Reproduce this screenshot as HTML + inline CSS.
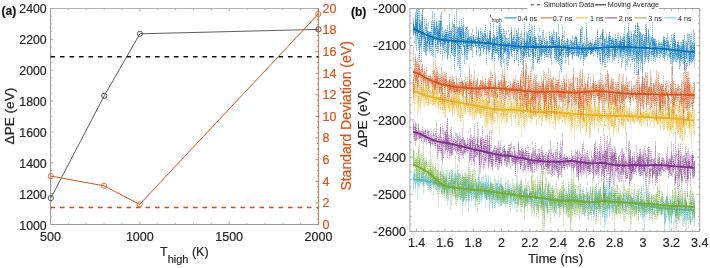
<!DOCTYPE html>
<html><head><meta charset="utf-8"><style>
html,body{margin:0;padding:0;background:#fff;}
body{width:710px;height:268px;overflow:hidden;}
svg{display:block;font-family:"Liberation Sans", sans-serif;will-change:transform;}
</style></head><body>
<svg width="710" height="268" viewBox="0 0 710 268">
<rect width="710" height="268" fill="#fff"/>
<path d="M50.5,224.5h3M50.5,216.79h1.6M50.5,209.07h1.6M50.5,201.36h1.6M50.5,193.64h3M50.5,185.93h1.6M50.5,178.21h1.6M50.5,170.5h1.6M50.5,162.79h3M50.5,155.07h1.6M50.5,147.36h1.6M50.5,139.64h1.6M50.5,131.93h3M50.5,124.21h1.6M50.5,116.5h1.6M50.5,108.79h1.6M50.5,101.07h3M50.5,93.36h1.6M50.5,85.64h1.6M50.5,77.93h1.6M50.5,70.21h3M50.5,62.5h1.6M50.5,54.79h1.6M50.5,47.07h1.6M50.5,39.36h3M50.5,31.64h1.6M50.5,23.93h1.6M50.5,16.21h1.6M50.5,8.5h3M50.5,224.5v-3M50.5,8.5v3M68.37,224.5v-1.6M68.37,8.5v1.6M86.23,224.5v-1.6M86.23,8.5v1.6M104.1,224.5v-1.6M104.1,8.5v1.6M121.97,224.5v-1.6M121.97,8.5v1.6M139.83,224.5v-3M139.83,8.5v3M157.7,224.5v-1.6M157.7,8.5v1.6M175.57,224.5v-1.6M175.57,8.5v1.6M193.43,224.5v-1.6M193.43,8.5v1.6M211.3,224.5v-1.6M211.3,8.5v1.6M229.17,224.5v-3M229.17,8.5v3M247.03,224.5v-1.6M247.03,8.5v1.6M264.9,224.5v-1.6M264.9,8.5v1.6M282.77,224.5v-1.6M282.77,8.5v1.6M300.63,224.5v-1.6M300.63,8.5v1.6M318.5,224.5v-3M318.5,8.5v3" stroke="#9c9c9c" stroke-width="0.8" fill="none"/>
<path d="M318.5,224.5h-3M318.5,219.1h-1.6M318.5,213.7h-1.6M318.5,208.3h-1.6M318.5,202.9h-3M318.5,197.5h-1.6M318.5,192.1h-1.6M318.5,186.7h-1.6M318.5,181.3h-3M318.5,175.9h-1.6M318.5,170.5h-1.6M318.5,165.1h-1.6M318.5,159.7h-3M318.5,154.3h-1.6M318.5,148.9h-1.6M318.5,143.5h-1.6M318.5,138.1h-3M318.5,132.7h-1.6M318.5,127.3h-1.6M318.5,121.9h-1.6M318.5,116.5h-3M318.5,111.1h-1.6M318.5,105.7h-1.6M318.5,100.3h-1.6M318.5,94.9h-3M318.5,89.5h-1.6M318.5,84.1h-1.6M318.5,78.7h-1.6M318.5,73.3h-3M318.5,67.9h-1.6M318.5,62.5h-1.6M318.5,57.1h-1.6M318.5,51.7h-3M318.5,46.3h-1.6M318.5,40.9h-1.6M318.5,35.5h-1.6M318.5,30.1h-3M318.5,24.7h-1.6M318.5,19.3h-1.6M318.5,13.9h-1.6M318.5,8.5h-3" stroke="#D95319" stroke-width="0.8" fill="none"/>
<path d="M50.5,8.5V224.5H318.5" stroke="#9c9c9c" stroke-width="1" fill="none"/>
<path d="M50.5,8.5H318.5" stroke="#a0a0a0" stroke-width="0.8" fill="none"/>
<path d="M318.5,8.5V224.5" stroke="#D95319" stroke-width="0.75" fill="none"/>
<text x="46.7" y="229.85" text-anchor="end" font-size="12.3" fill="#262626" stroke="#262626" stroke-width="0.2">1000</text>
<text x="46.7" y="198.85" text-anchor="end" font-size="12.3" fill="#262626" stroke="#262626" stroke-width="0.2">1200</text>
<text x="46.7" y="167.85" text-anchor="end" font-size="12.3" fill="#262626" stroke="#262626" stroke-width="0.2">1400</text>
<text x="46.7" y="136.85" text-anchor="end" font-size="12.3" fill="#262626" stroke="#262626" stroke-width="0.2">1600</text>
<text x="46.7" y="105.85" text-anchor="end" font-size="12.3" fill="#262626" stroke="#262626" stroke-width="0.2">1800</text>
<text x="46.7" y="74.85" text-anchor="end" font-size="12.3" fill="#262626" stroke="#262626" stroke-width="0.2">2000</text>
<text x="46.7" y="43.85" text-anchor="end" font-size="12.3" fill="#262626" stroke="#262626" stroke-width="0.2">2200</text>
<text x="46.7" y="12.85" text-anchor="end" font-size="12.3" fill="#262626" stroke="#262626" stroke-width="0.2">2400</text>
<text x="322.5" y="228.80" font-size="12.5" fill="#D95319" stroke="#D95319" stroke-width="0.2">0</text>
<text x="322.5" y="207.20" font-size="12.5" fill="#D95319" stroke="#D95319" stroke-width="0.2">2</text>
<text x="322.5" y="185.60" font-size="12.5" fill="#D95319" stroke="#D95319" stroke-width="0.2">4</text>
<text x="322.5" y="164.00" font-size="12.5" fill="#D95319" stroke="#D95319" stroke-width="0.2">6</text>
<text x="322.5" y="142.40" font-size="12.5" fill="#D95319" stroke="#D95319" stroke-width="0.2">8</text>
<text x="322.5" y="120.80" font-size="12.5" fill="#D95319" stroke="#D95319" stroke-width="0.2">10</text>
<text x="322.5" y="99.20" font-size="12.5" fill="#D95319" stroke="#D95319" stroke-width="0.2">12</text>
<text x="322.5" y="77.60" font-size="12.5" fill="#D95319" stroke="#D95319" stroke-width="0.2">14</text>
<text x="322.5" y="56.00" font-size="12.5" fill="#D95319" stroke="#D95319" stroke-width="0.2">16</text>
<text x="322.5" y="34.40" font-size="12.5" fill="#D95319" stroke="#D95319" stroke-width="0.2">18</text>
<text x="322.5" y="12.80" font-size="12.5" fill="#D95319" stroke="#D95319" stroke-width="0.2">20</text>
<text x="50.50" y="241" text-anchor="middle" font-size="12.5" fill="#262626" stroke="#262626" stroke-width="0.2">500</text>
<text x="139.83" y="241" text-anchor="middle" font-size="12.5" fill="#262626" stroke="#262626" stroke-width="0.2">1000</text>
<text x="229.17" y="241" text-anchor="middle" font-size="12.5" fill="#262626" stroke="#262626" stroke-width="0.2">1500</text>
<text x="318.50" y="241" text-anchor="middle" font-size="12.5" fill="#262626" stroke="#262626" stroke-width="0.2">2000</text>
<path d="M50.5,56.8H318.5" stroke="#111" stroke-width="1.5" stroke-dasharray="4.6 4.9" fill="none"/>
<path d="M50.5,207.6H318.5" stroke="#E0470F" stroke-width="1.5" stroke-dasharray="4.6 4.9" fill="none"/>
<polyline points="50.8,198.1 104.2,95.8 139.9,33.8 318.5,29.4" stroke="#333" stroke-width="0.8" fill="none"/>
<polyline points="50.8,176.1 104.0,185.8 139.6,204.4 318.3,14.0" stroke="#D95319" stroke-width="1" fill="none"/>
<circle cx="50.8" cy="198.1" r="2.6" stroke="#333" stroke-width="0.8" fill="none"/>
<circle cx="104.2" cy="95.8" r="2.6" stroke="#333" stroke-width="0.8" fill="none"/>
<circle cx="139.9" cy="33.8" r="2.6" stroke="#333" stroke-width="0.8" fill="none"/>
<circle cx="318.5" cy="29.4" r="2.6" stroke="#333" stroke-width="0.8" fill="none"/>
<circle cx="50.8" cy="176.1" r="2.6" stroke="#D95319" stroke-width="0.8" fill="none"/>
<circle cx="104.0" cy="185.8" r="2.6" stroke="#D95319" stroke-width="0.8" fill="none"/>
<circle cx="139.6" cy="204.4" r="2.6" stroke="#D95319" stroke-width="0.8" fill="none"/>
<circle cx="318.3" cy="14.0" r="2.6" stroke="#D95319" stroke-width="0.8" fill="none"/>
<text x="0" y="0" transform="translate(14,116.1) rotate(-90)" text-anchor="middle" font-size="13.6" fill="#262626" stroke="#262626" stroke-width="0.2">ΔPE (eV)</text>
<text x="0" y="0" transform="translate(351.4,115.9) rotate(-90)" text-anchor="middle" font-size="14" fill="#D95319" stroke="#D95319" stroke-width="0.2">Standard Deviation (eV)</text>
<text x="160" y="256.3" font-size="12.5" fill="#262626" stroke="#262626" stroke-width="0.2">T<tspan font-size="11" dy="6.9">high</tspan><tspan dy="-6.9"> (K)</tspan></text>
<text x="1.5" y="15.2" font-size="12" font-weight="bold" fill="#111" stroke="#111" stroke-width="0.2">(a)</text>
<defs><clipPath id="rc"><rect x="409.9" y="8.5" width="289.8" height="222.9"/></clipPath></defs>
<g clip-path="url(#rc)">
<path d="M413.5 177.4V180.5M413.5 182.8V189.2M413.5 174.9V189.8M413.5 171.7V176.8M413.5 176.5V177.6M414.5 169.4V177.8M414.5 174.5V182.8M414.5 175.5V183.0M414.5 173.1V182.1M414.5 172.8V178.0M415.5 169.7V187.1M415.5 180.9V188.6M415.5 175.8V178.2M415.5 179.6V192.3M415.5 174.2V176.3M416.5 180.9V181.4M416.5 178.9V180.8M416.5 179.9V183.4M416.5 166.8V170.3M416.5 168.3V178.5M417.5 183.6V200.2M417.5 172.3V179.3M417.5 172.4V180.4M417.5 176.6V186.5M417.5 177.2V177.5M418.5 178.6V184.8M418.5 168.8V174.8M418.5 177.4V186.2M418.5 173.9V184.8M418.5 183.5V188.2M419.5 173.3V178.2M419.5 174.4V189.2M419.5 177.7V185.6M419.5 173.8V181.9M419.5 176.8V179.5M420.5 173.4V174.7M420.5 172.1V180.0M420.5 177.3V184.4M420.5 178.8V182.0M420.5 179.2V183.1M421.5 179.7V180.4M421.5 173.3V180.0M421.5 173.0V179.9M421.5 175.8V177.2M421.5 177.0V177.3M422.5 176.5V182.0M422.5 179.0V187.7M422.5 180.5V180.9M422.5 174.1V176.3M422.5 176.5V183.6M423.5 169.3V186.0M423.5 176.2V184.6M423.5 176.6V186.0M423.5 173.0V177.0M423.5 180.1V180.1M424.5 180.5V185.8M424.5 177.6V180.4M424.5 176.5V180.4M424.5 179.9V181.6M424.5 178.5V179.7M425.5 175.4V181.1M425.5 172.6V179.7M425.5 179.2V180.2M425.5 178.6V179.8M425.5 181.4V181.8M426.5 174.4V183.2M426.5 182.1V182.5M426.5 182.7V183.5M426.5 183.1V185.6M426.5 174.8V184.7M427.5 175.3V183.4M427.5 179.7V186.2M427.5 180.8V187.5M427.5 177.2V182.9M427.5 178.1V185.1M428.5 183.7V185.6M428.5 177.4V182.8M428.5 181.1V182.6M428.5 177.9V179.0M428.5 182.9V184.9M429.5 170.6V184.5M429.5 184.2V191.3M429.5 182.7V184.7M429.5 185.1V189.3M429.5 182.3V186.9M430.5 177.9V181.0M430.5 175.8V187.7M430.5 175.7V179.1M430.5 179.8V183.7M430.5 178.1V186.1M431.5 179.3V184.7M431.5 180.7V182.3M431.5 179.5V185.7M431.5 190.0V190.9M431.5 181.6V190.9M432.5 179.1V184.2M432.5 179.4V185.0M432.5 181.0V184.8M432.5 178.3V180.9M432.5 179.4V181.0M433.5 176.4V178.6M433.5 182.3V186.5M433.5 181.2V181.8M433.5 180.7V185.4M433.5 184.9V185.4M434.5 182.2V185.5M434.5 176.3V181.1M434.5 180.6V181.7M434.5 184.0V187.8M434.5 175.9V183.1M435.5 181.4V183.7M435.5 177.4V184.5M435.5 181.2V183.1M435.5 183.2V190.6M435.5 180.7V186.1M436.5 182.5V183.4M436.5 179.3V183.3M436.5 182.7V183.4M436.5 179.1V182.8M436.5 184.2V190.0M437.5 181.9V189.9M437.5 181.9V186.6M437.5 177.7V187.0M437.5 180.3V186.1M437.5 178.1V181.4M438.5 183.5V191.1M438.5 179.1V180.4M438.5 175.9V187.3M438.5 184.8V187.0M438.5 186.0V186.1M439.5 183.5V183.9M439.5 185.0V191.2M439.5 183.4V184.2M439.5 182.0V186.8M439.5 188.6V195.0M440.5 180.4V189.0M440.5 179.7V184.7M440.5 173.7V177.2M440.5 171.3V183.8M440.5 184.4V187.8M441.5 178.5V180.4M441.5 186.3V191.6M441.5 181.7V184.2M441.5 182.3V184.6M441.5 175.3V182.3M442.5 186.2V192.8M442.5 179.1V190.2M442.5 186.2V186.7M442.5 184.7V187.9M442.5 183.7V187.1M443.5 177.3V185.5M443.5 184.4V188.9M443.5 180.3V193.8M443.5 184.5V189.3M443.5 176.0V193.3M444.5 186.9V194.0M444.5 186.0V190.1M444.5 173.5V193.4M444.5 186.2V191.8M444.5 184.7V192.7M445.5 178.7V181.8M445.5 177.3V182.6M445.5 183.2V188.8M445.5 185.8V188.4M445.5 186.3V186.7M446.5 187.7V193.5M446.5 190.1V200.9M446.5 184.3V198.2M446.5 180.1V190.6M446.5 185.8V189.2M447.5 170.1V194.0M447.5 184.9V193.5M447.5 179.9V179.9M447.5 190.1V193.9M447.5 185.9V186.7M448.5 184.4V185.0M448.5 180.6V193.6M448.5 181.1V189.1M448.5 189.2V200.4M448.5 182.2V184.1M449.5 184.8V187.2M449.5 171.6V189.4M449.5 185.3V188.7M449.5 172.8V179.5M449.5 179.6V191.3M450.5 184.4V186.5M450.5 187.9V188.5M450.5 185.0V193.5M450.5 171.3V184.6M450.5 180.7V184.9M451.5 196.1V206.2M451.5 183.9V195.0M451.5 193.9V194.0M451.5 169.5V181.6M451.5 182.2V192.6M452.5 178.6V193.8M452.5 180.1V186.4M452.5 169.2V178.9M452.5 188.5V189.3M452.5 171.2V187.2M453.5 180.5V189.1M453.5 182.2V190.0M453.5 176.3V189.7M453.5 178.4V189.1M453.5 183.2V185.8M454.5 178.1V184.1M454.5 186.1V195.7M454.5 188.0V190.3M454.5 179.0V193.5M454.5 181.7V183.7M455.5 182.1V196.5M455.5 172.2V182.0M455.5 177.4V192.7M455.5 187.7V190.1M455.5 188.7V197.7M456.5 178.6V182.5M456.5 187.3V188.6M456.5 175.0V180.4M456.5 191.6V196.9M456.5 173.6V179.8M457.5 179.2V184.8M457.5 182.9V185.8M457.5 169.2V201.9M457.5 181.0V184.7M457.5 164.6V187.3M458.5 183.6V190.0M458.5 184.0V195.7M458.5 186.9V199.5M458.5 176.8V189.8M458.5 173.7V180.7M459.5 187.4V197.9M459.5 185.8V192.1M459.5 186.2V187.9M459.5 174.0V176.6M459.5 173.4V194.6M460.5 182.3V185.3M460.5 198.9V199.2M460.5 174.6V194.3M460.5 183.3V196.5M460.5 194.3V201.3M461.5 191.5V198.0M461.5 179.6V184.3M461.5 178.2V184.1M461.5 177.3V190.6M461.5 184.1V195.6M462.5 182.8V195.6M462.5 182.1V214.3M462.5 187.4V195.1M462.5 183.1V191.6M462.5 193.9V201.3M463.5 190.0V201.1M463.5 177.0V201.7M463.5 193.5V202.7M463.5 187.1V189.4M463.5 188.4V201.8M464.5 182.3V190.2M464.5 177.4V194.4M464.5 190.1V193.3M464.5 190.4V200.0M464.5 178.7V199.1M465.5 176.8V187.3M465.5 194.3V198.4M465.5 179.7V199.0M465.5 192.1V195.6M465.5 179.3V189.4M466.5 179.7V185.5M466.5 177.0V190.4M466.5 178.0V184.1M466.5 186.7V201.7M466.5 179.4V191.5M467.5 181.8V193.2M467.5 193.5V193.9M467.5 184.9V192.3M467.5 194.9V201.1M467.5 180.7V196.4M468.5 179.8V190.5M468.5 168.6V212.5M468.5 181.8V201.3M468.5 179.5V189.1M468.5 175.4V190.1M469.5 188.6V203.3M469.5 183.8V198.1M469.5 180.5V187.4M469.5 184.0V201.1M469.5 180.5V181.1M470.5 184.6V192.8M470.5 187.2V194.3M470.5 191.4V193.6M470.5 177.7V186.4M470.5 182.9V190.5M471.5 183.1V184.0M471.5 187.2V195.3M471.5 185.1V199.8M471.5 182.5V200.3M471.5 179.4V190.2M472.5 190.7V195.7M472.5 186.0V190.9M472.5 184.8V196.4M472.5 184.3V187.8M472.5 192.9V195.2M473.5 189.2V191.2M473.5 189.5V194.1M473.5 184.5V185.0M473.5 187.6V193.6M473.5 192.3V198.3M474.5 188.5V197.3M474.5 183.6V195.7M474.5 193.6V196.2M474.5 184.7V185.3M474.5 190.5V192.1M475.5 194.2V196.8M475.5 192.3V194.7M475.5 178.6V207.5M475.5 189.2V198.2M475.5 188.6V198.7M476.5 187.1V199.8M476.5 181.9V194.2M476.5 183.1V189.9M476.5 182.8V183.2M476.5 192.9V199.7M477.5 196.4V198.4M477.5 186.0V189.2M477.5 182.3V202.4M477.5 189.1V194.4M477.5 178.6V181.1M478.5 192.7V198.5M478.5 194.7V204.8M478.5 184.1V192.9M478.5 176.4V188.9M478.5 173.5V187.6M479.5 182.3V194.5M479.5 185.4V199.2M479.5 187.5V188.1M479.5 175.0V184.4M479.5 184.3V184.4M480.5 191.2V193.2M480.5 192.6V202.1M480.5 180.7V183.9M480.5 181.8V188.8M480.5 182.9V191.6M481.5 187.9V204.0M481.5 189.4V194.5M481.5 192.3V199.4M481.5 181.4V189.6M481.5 177.0V195.9M482.5 188.0V189.0M482.5 184.3V192.5M482.5 184.9V186.7M482.5 183.4V200.8M482.5 180.6V195.8M483.5 187.7V188.3M483.5 175.0V194.3M483.5 182.2V187.6M483.5 190.6V195.0M483.5 183.9V184.9M484.5 187.4V199.4M484.5 193.2V197.9M484.5 199.3V199.4M484.5 191.4V191.9M484.5 181.7V196.2M485.5 173.6V194.1M485.5 182.2V191.6M485.5 185.7V197.7M485.5 189.0V197.2M485.5 184.4V208.5M486.5 183.4V200.0M486.5 178.1V199.8M486.5 184.5V199.7M486.5 175.6V198.4M486.5 186.2V191.6M487.5 182.0V194.8M487.5 185.3V187.4M487.5 182.8V188.3M487.5 192.0V199.8M487.5 194.2V197.9M488.5 184.9V187.6M488.5 176.8V198.1M488.5 181.9V182.4M488.5 175.9V193.8M488.5 184.1V195.8M489.5 185.4V210.0M489.5 188.2V201.2M489.5 186.1V199.2M489.5 192.2V193.6M489.5 193.9V207.0M490.5 182.8V199.9M490.5 186.9V193.4M490.5 176.4V195.8M490.5 189.5V193.8M490.5 186.7V190.2M491.5 184.4V194.4M491.5 203.1V203.5M491.5 194.0V199.4M491.5 198.1V200.8M491.5 193.5V194.7M492.5 187.7V205.8M492.5 191.0V199.8M492.5 189.3V208.2M492.5 189.3V209.2M492.5 183.8V194.7M493.5 187.0V196.3M493.5 190.1V191.8M493.5 188.8V195.8M493.5 193.9V199.2M493.5 190.2V197.8M494.5 192.1V200.9M494.5 189.9V194.8M494.5 187.7V191.7M494.5 202.6V207.9M494.5 194.6V209.3M495.5 194.7V203.6M495.5 185.2V197.8M495.5 189.6V191.8M495.5 183.3V189.5M495.5 189.5V191.4M496.5 186.3V196.7M496.5 189.0V191.4M496.5 183.9V191.2M496.5 191.1V195.4M496.5 194.7V197.2M497.5 184.3V201.7M497.5 187.0V203.2M497.5 180.6V188.8M497.5 183.4V199.4M497.5 197.3V198.7M498.5 186.2V206.3M498.5 192.7V198.3M498.5 188.5V203.4M498.5 193.9V194.6M498.5 176.3V185.1M499.5 186.3V190.1M499.5 186.1V201.4M499.5 182.4V186.9M499.5 192.3V198.2M499.5 184.4V207.1M500.5 181.5V186.1M500.5 194.9V201.1M500.5 193.0V195.7M500.5 185.5V201.6M500.5 177.5V188.7M501.5 189.9V207.0M501.5 186.2V193.8M501.5 188.8V189.4M501.5 196.6V198.4M501.5 193.0V205.3M502.5 185.6V190.4M502.5 187.9V193.2M502.5 186.6V193.6M502.5 189.6V193.3M502.5 185.8V203.6M503.5 187.2V191.4M503.5 188.4V191.8M503.5 189.0V204.0M503.5 189.5V204.5M503.5 192.6V203.5M504.5 197.3V203.7M504.5 191.6V196.8M504.5 187.6V201.3M504.5 192.9V199.6M504.5 196.5V198.3M505.5 190.4V195.0M505.5 191.3V194.5M505.5 177.6V193.8M505.5 190.7V207.8M505.5 195.6V197.3M506.5 188.6V202.5M506.5 188.5V197.7M506.5 193.5V200.1M506.5 196.9V197.1M506.5 196.5V198.5M507.5 184.1V200.5M507.5 180.0V188.9M507.5 186.3V197.6M507.5 190.2V192.6M507.5 191.1V193.9M508.5 189.2V192.6M508.5 192.3V197.4M508.5 184.9V197.9M508.5 189.2V194.5M508.5 189.7V192.2M509.5 187.2V188.5M509.5 189.2V207.0M509.5 188.6V192.8M509.5 184.6V203.8M509.5 191.3V194.9M510.5 196.6V198.1M510.5 199.7V206.9M510.5 189.8V193.6M510.5 191.0V199.7M510.5 183.7V193.4M511.5 188.5V205.2M511.5 189.8V201.3M511.5 190.3V192.0M511.5 202.6V202.8M511.5 198.7V203.3M512.5 189.4V192.0M512.5 178.8V187.9M512.5 199.0V208.0M512.5 194.1V196.5M512.5 192.4V195.3M513.5 192.8V202.2M513.5 193.5V195.7M513.5 199.5V200.3M513.5 191.7V191.9M513.5 191.0V200.5M514.5 202.3V209.3M514.5 189.5V203.3M514.5 189.2V192.1M514.5 190.8V195.2M514.5 195.9V196.6M515.5 197.3V204.0M515.5 190.7V194.0M515.5 195.0V204.5M515.5 193.7V195.7M515.5 189.8V197.0M516.5 193.1V193.2M516.5 192.3V199.1M516.5 194.0V199.2M516.5 198.1V198.2M516.5 184.7V192.9M517.5 202.7V213.2M517.5 173.6V189.9M517.5 199.3V201.5M517.5 199.6V204.5M517.5 186.6V205.6M518.5 188.0V196.7M518.5 194.4V198.8M518.5 193.7V197.1M518.5 193.9V200.7M518.5 186.2V201.3M519.5 184.0V198.7M519.5 187.3V189.9M519.5 192.7V198.5M519.5 195.5V199.9M519.5 188.0V196.9M520.5 190.4V199.7M520.5 198.3V198.6M520.5 190.9V205.7M520.5 194.3V197.1M520.5 186.3V194.3M521.5 197.9V200.9M521.5 203.5V207.5M521.5 197.3V199.0M521.5 181.6V191.4M521.5 184.5V196.1M522.5 196.8V207.3M522.5 199.1V203.1M522.5 191.3V192.2M522.5 186.4V195.5M522.5 195.7V198.7M523.5 192.5V196.5M523.5 195.8V196.4M523.5 193.1V203.8M523.5 196.5V199.7M523.5 198.8V202.1M524.5 185.2V196.2M524.5 190.1V195.3M524.5 187.9V199.0M524.5 190.7V206.6M524.5 194.1V194.5M525.5 187.8V204.1M525.5 198.4V207.1M525.5 193.8V198.8M525.5 188.3V205.7M525.5 189.4V198.0M526.5 193.8V196.9M526.5 199.1V199.7M526.5 189.4V202.1M526.5 189.5V197.2M526.5 192.3V195.9M527.5 194.1V201.6M527.5 193.5V197.2M527.5 195.6V203.1M527.5 196.5V203.5M527.5 197.9V211.4M528.5 194.9V202.8M528.5 200.5V203.5M528.5 196.5V204.6M528.5 195.1V201.6M528.5 195.9V198.4M529.5 187.1V195.1M529.5 190.4V197.8M529.5 191.6V195.5M529.5 191.9V194.1M529.5 194.3V198.4M530.5 188.8V200.8M530.5 191.9V197.9M530.5 190.5V198.8M530.5 198.3V201.8M530.5 198.0V199.0M531.5 193.1V200.7M531.5 198.5V208.9M531.5 198.4V205.3M531.5 190.8V203.5M531.5 197.8V198.1M532.5 199.4V200.1M532.5 199.4V200.5M532.5 194.9V206.9M532.5 199.9V201.4M532.5 191.9V193.5M533.5 200.8V211.1M533.5 193.3V194.4M533.5 192.4V194.4M533.5 191.0V191.3M533.5 201.8V203.9M534.5 191.7V206.4M534.5 192.8V199.5M534.5 197.7V200.3M534.5 193.2V198.5M534.5 193.4V199.2M535.5 192.5V206.4M535.5 191.4V198.2M535.5 193.9V202.8M535.5 189.3V200.1M535.5 192.8V195.5M536.5 195.7V200.4M536.5 195.8V205.8M536.5 197.8V200.0M536.5 191.4V195.0M536.5 198.7V200.5M537.5 184.2V194.4M537.5 189.9V195.9M537.5 193.5V198.4M537.5 191.3V197.9M537.5 204.9V206.3M538.5 198.5V211.2M538.5 198.1V201.8M538.5 190.8V192.9M538.5 190.6V205.1M538.5 189.4V209.5M539.5 187.6V193.2M539.5 193.2V203.4M539.5 192.8V197.5M539.5 193.0V203.2M539.5 181.1V188.5M540.5 196.9V202.2M540.5 188.2V197.6M540.5 192.1V203.6M540.5 186.4V192.8M540.5 192.4V194.9M541.5 196.5V197.6M541.5 199.9V205.6M541.5 188.8V203.3M541.5 195.1V203.5M541.5 200.5V205.0M542.5 200.6V202.4M542.5 198.2V200.1M542.5 197.5V202.3M542.5 180.7V207.6M542.5 190.6V191.7M543.5 202.8V211.3M543.5 192.0V203.5M543.5 197.6V197.9M543.5 192.9V194.6M543.5 191.8V209.7M544.5 186.4V203.6M544.5 209.1V209.9M544.5 196.9V220.2M544.5 190.3V204.4M544.5 190.3V194.6M545.5 200.9V209.9M545.5 193.5V194.3M545.5 194.0V205.1M545.5 195.1V206.9M545.5 202.5V204.9M546.5 197.6V200.3M546.5 204.5V207.6M546.5 200.7V207.0M546.5 196.6V197.2M546.5 191.7V204.0M547.5 198.5V204.4M547.5 188.2V198.4M547.5 198.9V214.0M547.5 197.6V200.1M547.5 189.5V206.8M548.5 191.0V202.3M548.5 189.8V200.9M548.5 184.0V187.0M548.5 196.8V198.9M548.5 185.3V197.2M549.5 195.9V198.6M549.5 196.3V212.3M549.5 201.2V203.2M549.5 194.4V205.8M549.5 198.7V204.0M550.5 200.1V205.6M550.5 189.4V204.6M550.5 196.4V198.9M550.5 183.3V205.3M550.5 199.4V204.2M551.5 198.5V200.2M551.5 195.9V203.8M551.5 193.7V198.8M551.5 198.8V209.5M551.5 195.0V202.8M552.5 196.2V201.3M552.5 186.0V200.2M552.5 191.4V213.1M552.5 200.3V203.1M552.5 203.7V207.0M553.5 205.1V208.5M553.5 194.2V202.0M553.5 197.5V202.6M553.5 199.4V213.1M553.5 196.7V203.1M554.5 201.0V211.2M554.5 198.5V204.2M554.5 198.0V204.0M554.5 204.0V205.5M554.5 199.9V206.4M555.5 204.3V208.1M555.5 200.3V200.3M555.5 201.5V212.9M555.5 195.8V204.4M555.5 198.3V200.4M556.5 202.4V214.5M556.5 198.8V205.3M556.5 200.8V202.2M556.5 202.1V206.0M556.5 198.8V203.4M557.5 198.6V202.8M557.5 203.9V204.5M557.5 205.1V207.6M557.5 199.3V201.1M557.5 197.7V206.0M558.5 199.2V199.4M558.5 200.6V209.4M558.5 192.8V199.3M558.5 200.3V205.6M558.5 201.7V205.0M559.5 195.7V206.9M559.5 198.8V200.0M559.5 201.0V208.7M559.5 194.5V217.8M559.5 203.3V203.9M560.5 202.7V206.0M560.5 202.6V203.4M560.5 195.7V200.2M560.5 201.3V202.2M560.5 191.8V204.5M561.5 196.9V207.6M561.5 200.6V206.0M561.5 194.2V197.1M561.5 191.0V201.3M561.5 195.6V203.2M562.5 205.9V206.6M562.5 199.0V208.4M562.5 196.7V204.7M562.5 200.4V202.0M562.5 198.5V208.0M563.5 202.6V208.9M563.5 200.7V204.2M563.5 196.9V204.5M563.5 196.8V206.6M563.5 194.6V197.1M564.5 194.9V202.0M564.5 202.3V208.5M564.5 189.6V196.4M564.5 196.2V201.1M564.5 195.3V195.6M565.5 198.2V203.4M565.5 200.4V200.7M565.5 199.5V200.1M565.5 196.8V199.8M565.5 199.6V206.0M566.5 195.0V200.1M566.5 196.6V201.5M566.5 190.9V203.3M566.5 199.9V208.9M566.5 194.6V212.5M567.5 195.5V200.0M567.5 196.3V200.2M567.5 194.9V202.3M567.5 201.7V202.5M567.5 201.9V202.3M568.5 198.3V201.5M568.5 208.3V211.5M568.5 199.2V209.8M568.5 199.3V201.0M568.5 196.7V203.1M569.5 200.3V205.8M569.5 199.2V201.4M569.5 184.9V202.1M569.5 190.0V195.1M569.5 193.6V201.4M570.5 189.5V198.3M570.5 198.2V206.0M570.5 202.4V211.7M570.5 195.8V196.6M570.5 194.8V199.7M571.5 179.7V202.5M571.5 196.5V202.9M571.5 190.8V206.2M571.5 187.0V209.1M571.5 198.1V200.1M572.5 188.8V208.2M572.5 193.1V198.5M572.5 197.8V199.9M572.5 194.0V202.3M572.5 203.4V207.5M573.5 202.8V206.5M573.5 203.3V210.4M573.5 197.4V198.3M573.5 192.4V200.0M573.5 204.8V205.0M574.5 197.5V203.0M574.5 188.3V197.1M574.5 201.0V203.3M574.5 196.9V202.7M574.5 194.8V202.5M575.5 199.1V205.4M575.5 189.0V198.9M575.5 189.5V202.3M575.5 195.7V198.8M575.5 199.1V211.0M576.5 196.2V200.3M576.5 196.8V202.2M576.5 194.6V197.0M576.5 203.3V203.6M576.5 201.2V201.3M577.5 202.2V204.4M577.5 199.6V201.8M577.5 197.3V204.8M577.5 195.8V197.7M577.5 194.3V199.2M578.5 200.4V208.6M578.5 198.1V208.5M578.5 201.0V204.7M578.5 203.4V204.5M578.5 197.1V199.7M579.5 189.4V199.9M579.5 194.8V201.1M579.5 201.7V204.6M579.5 198.2V201.6M579.5 203.5V205.5M580.5 199.3V204.7M580.5 196.6V197.6M580.5 201.6V202.1M580.5 195.7V207.2M580.5 190.5V198.5M581.5 196.4V202.2M581.5 193.5V208.0M581.5 199.9V200.2M581.5 201.5V205.9M581.5 197.2V204.4M582.5 204.4V206.6M582.5 199.9V208.3M582.5 190.1V198.4M582.5 196.4V198.0M582.5 201.8V213.2M583.5 193.1V211.6M583.5 199.3V210.4M583.5 207.1V214.0M583.5 198.5V200.2M583.5 186.5V199.9M584.5 206.3V217.5M584.5 194.1V198.0M584.5 194.4V205.3M584.5 204.0V204.7M584.5 202.3V207.3M585.5 196.3V208.5M585.5 206.9V212.0M585.5 195.9V196.4M585.5 209.9V215.3M585.5 201.9V207.7M586.5 195.3V207.9M586.5 195.5V208.6M586.5 199.2V209.1M586.5 187.7V198.9M586.5 195.1V205.4M587.5 197.3V202.0M587.5 207.0V208.7M587.5 198.7V205.8M587.5 194.7V199.4M587.5 195.6V204.1M588.5 210.4V215.3M588.5 197.8V198.9M588.5 203.8V205.4M588.5 203.5V216.4M588.5 201.6V209.5M589.5 196.5V207.8M589.5 195.8V206.9M589.5 196.2V207.4M589.5 212.3V215.0M589.5 191.2V216.4M590.5 186.8V199.8M590.5 202.6V203.2M590.5 190.2V210.4M590.5 209.2V215.3M590.5 203.4V206.3M591.5 193.4V196.7M591.5 197.1V209.6M591.5 198.7V201.3M591.5 199.2V208.6M591.5 202.1V210.8M592.5 202.8V207.5M592.5 196.5V206.9M592.5 189.2V194.9M592.5 200.9V210.8M592.5 198.6V211.7M593.5 202.3V205.7M593.5 201.4V207.1M593.5 209.9V213.4M593.5 199.0V199.8M593.5 198.2V215.3M594.5 206.0V216.9M594.5 198.1V198.5M594.5 192.8V216.9M594.5 200.2V208.8M594.5 188.8V205.0M595.5 200.1V203.6M595.5 190.8V210.4M595.5 196.1V197.6M595.5 186.4V205.4M595.5 194.9V209.8M596.5 213.3V214.7M596.5 194.6V203.5M596.5 190.3V209.8M596.5 202.3V220.1M596.5 183.5V211.1M597.5 198.1V201.8M597.5 201.9V210.5M597.5 198.4V204.6M597.5 199.4V208.4M597.5 193.2V208.6M598.5 191.1V210.6M598.5 201.3V213.5M598.5 211.9V217.5M598.5 193.8V207.2M598.5 204.4V205.0M599.5 193.2V198.3M599.5 196.8V211.5M599.5 188.7V206.5M599.5 201.9V211.3M599.5 194.9V203.0M600.5 187.3V213.5M600.5 187.0V199.6M600.5 199.3V208.8M600.5 187.2V201.6M600.5 200.3V203.1M601.5 198.4V205.2M601.5 205.4V212.5M601.5 192.8V197.0M601.5 199.7V201.1M601.5 203.8V204.9M602.5 204.7V205.4M602.5 197.2V199.0M602.5 199.0V203.3M602.5 209.3V217.1M602.5 201.9V209.6M603.5 201.9V209.6M603.5 181.7V212.3M603.5 192.9V197.9M603.5 193.7V207.9M603.5 181.6V203.7M604.5 194.5V198.7M604.5 212.2V222.5M604.5 188.5V200.9M604.5 208.8V228.4M604.5 186.7V217.7M605.5 193.9V208.8M605.5 209.7V225.6M605.5 189.3V210.1M605.5 203.5V218.6M605.5 191.9V202.5M606.5 205.6V211.7M606.5 184.7V221.3M606.5 208.3V208.9M606.5 184.3V217.1M606.5 199.7V201.3M607.5 181.2V201.8M607.5 196.7V206.3M607.5 197.0V212.3M607.5 206.1V210.6M607.5 178.8V181.2M608.5 200.6V201.6M608.5 189.1V196.8M608.5 178.5V199.7M608.5 193.3V201.4M608.5 192.6V208.8M609.5 198.1V215.0M609.5 208.2V218.8M609.5 191.3V210.3M609.5 202.3V216.3M609.5 185.9V208.4M610.5 192.1V198.4M610.5 206.2V207.1M610.5 203.1V210.3M610.5 182.6V186.9M610.5 201.3V206.6M611.5 199.1V205.0M611.5 198.4V213.0M611.5 196.6V197.6M611.5 175.6V193.1M611.5 186.4V208.3M612.5 205.9V209.4M612.5 187.0V190.9M612.5 189.7V209.7M612.5 198.7V203.5M612.5 190.1V197.2M613.5 204.8V215.3M613.5 194.7V211.8M613.5 204.7V205.5M613.5 208.1V211.2M613.5 202.4V207.0M614.5 189.2V198.5M614.5 194.5V204.9M614.5 194.2V206.5M614.5 193.8V202.3M614.5 198.1V205.7M615.5 202.9V207.3M615.5 199.7V200.9M615.5 205.3V212.3M615.5 193.0V201.2M615.5 199.1V209.0M616.5 198.6V206.4M616.5 205.8V215.5M616.5 202.0V206.8M616.5 200.5V201.6M616.5 190.9V204.0M617.5 197.1V205.1M617.5 197.3V203.3M617.5 196.7V210.2M617.5 200.7V209.6M617.5 201.6V205.6M618.5 203.6V207.8M618.5 196.3V203.6M618.5 197.5V212.6M618.5 192.1V203.2M618.5 197.0V201.2M619.5 205.1V206.6M619.5 200.0V206.3M619.5 202.8V205.0M619.5 196.5V201.6M619.5 197.3V202.4M620.5 198.8V204.0M620.5 202.1V204.1M620.5 200.7V204.0M620.5 196.9V204.1M620.5 203.6V204.7M621.5 195.8V196.8M621.5 194.9V198.2M621.5 205.5V206.6M621.5 203.7V204.1M621.5 208.5V209.8M622.5 198.2V210.2M622.5 198.3V209.6M622.5 203.4V204.1M622.5 202.0V206.5M622.5 198.8V210.9M623.5 193.8V198.0M623.5 200.0V200.7M623.5 202.8V211.6M623.5 196.2V202.0M623.5 201.2V202.3M624.5 196.2V204.5M624.5 199.4V201.0M624.5 203.0V203.2M624.5 194.9V203.7M624.5 200.7V202.2M625.5 193.1V202.0M625.5 202.7V208.0M625.5 205.1V206.1M625.5 195.4V203.3M625.5 201.9V211.0M626.5 193.3V199.1M626.5 203.7V211.8M626.5 200.9V211.1M626.5 206.1V206.4M626.5 204.0V206.3M627.5 199.6V201.3M627.5 198.7V207.1M627.5 193.1V204.1M627.5 198.9V205.7M627.5 200.5V205.9M628.5 202.7V205.1M628.5 201.3V205.9M628.5 195.7V207.9M628.5 203.3V216.4M628.5 194.9V200.2M629.5 199.7V204.0M629.5 200.9V203.6M629.5 201.5V205.2M629.5 198.9V203.8M629.5 200.9V201.4M630.5 195.5V198.3M630.5 198.4V200.7M630.5 194.7V203.6M630.5 204.9V207.7M630.5 204.5V205.6M631.5 200.8V205.7M631.5 196.7V210.3M631.5 196.5V201.2M631.5 198.1V207.2M631.5 200.9V202.2M632.5 199.0V203.2M632.5 197.7V201.1M632.5 206.3V209.0M632.5 198.3V207.0M632.5 201.8V205.4M633.5 202.7V207.7M633.5 204.2V206.1M633.5 195.8V209.6M633.5 197.7V209.7M633.5 200.5V207.7M634.5 196.6V205.1M634.5 200.5V204.3M634.5 203.1V209.9M634.5 201.5V209.5M634.5 201.1V204.2M635.5 201.4V207.2M635.5 200.1V202.4M635.5 196.6V204.6M635.5 195.1V195.3M635.5 206.5V208.1M636.5 190.8V208.5M636.5 207.6V209.6M636.5 200.3V207.0M636.5 194.7V196.2M636.5 196.2V196.7M637.5 196.1V202.6M637.5 206.4V209.5M637.5 201.1V208.8M637.5 204.9V210.8M637.5 202.9V203.3M638.5 193.7V210.1M638.5 203.0V207.4M638.5 201.3V202.4M638.5 198.0V210.0M638.5 204.0V205.3M639.5 206.8V210.5M639.5 201.1V204.4M639.5 201.8V212.3M639.5 207.7V211.8M639.5 199.0V208.3M640.5 192.4V203.2M640.5 203.0V217.1M640.5 211.5V212.9M640.5 206.7V206.7M640.5 199.8V208.8M641.5 190.0V202.6M641.5 205.1V207.0M641.5 200.6V209.0M641.5 189.4V213.2M641.5 202.5V209.2M642.5 203.3V219.9M642.5 199.7V209.4M642.5 200.0V209.6M642.5 199.0V203.1M642.5 199.3V217.4M643.5 205.5V212.2M643.5 203.5V222.5M643.5 179.4V194.9M643.5 201.0V213.5M643.5 215.7V218.1M644.5 204.2V216.1M644.5 201.5V213.3M644.5 199.7V209.7M644.5 202.5V236.3M644.5 210.9V213.8M645.5 208.9V211.9M645.5 208.9V212.0M645.5 199.0V199.8M645.5 210.3V212.6M645.5 201.0V218.9M646.5 189.6V208.6M646.5 204.9V214.1M646.5 209.3V212.9M646.5 203.1V207.8M646.5 195.8V198.3M647.5 204.9V205.8M647.5 199.7V206.5M647.5 191.1V214.0M647.5 200.8V204.8M647.5 188.8V206.6M648.5 209.2V211.1M648.5 194.5V202.8M648.5 202.5V205.6M648.5 205.6V213.7M648.5 192.9V210.9M649.5 204.7V215.7M649.5 201.8V209.3M649.5 206.6V212.0M649.5 204.6V211.6M649.5 200.6V206.9M650.5 204.0V204.5M650.5 209.3V213.4M650.5 207.0V211.2M650.5 208.4V209.3M650.5 205.3V206.7M651.5 205.4V206.9M651.5 202.2V203.5M651.5 203.2V205.6M651.5 200.1V206.7M651.5 204.8V205.1M652.5 206.6V212.9M652.5 202.9V211.3M652.5 201.9V210.6M652.5 204.7V215.8M652.5 207.9V210.4M653.5 212.0V215.8M653.5 203.1V207.4M653.5 202.7V205.8M653.5 206.6V208.2M653.5 208.4V209.3M654.5 204.5V208.2M654.5 212.8V214.9M654.5 205.7V214.6M654.5 204.8V205.9M654.5 202.9V205.4M655.5 205.4V206.4M655.5 193.9V204.7M655.5 209.7V212.2M655.5 202.9V209.3M655.5 210.0V212.7M656.5 202.6V208.4M656.5 207.7V212.7M656.5 207.8V208.6M656.5 199.0V212.8M656.5 203.6V204.1M657.5 203.7V208.6M657.5 203.5V215.3M657.5 209.8V210.2M657.5 201.5V202.9M657.5 201.8V207.9M658.5 205.4V207.6M658.5 210.8V211.0M658.5 214.5V215.5M658.5 207.1V211.8M658.5 207.8V209.2M659.5 201.5V205.6M659.5 212.6V213.7M659.5 211.7V212.8M659.5 205.6V209.4M659.5 209.4V211.9M660.5 206.3V213.6M660.5 206.3V211.7M660.5 199.6V208.4M660.5 209.8V210.9M660.5 204.5V206.9M661.5 209.7V214.9M661.5 207.1V213.9M661.5 204.7V211.7M661.5 208.4V215.1M661.5 208.1V213.2M662.5 203.9V206.7M662.5 208.1V210.9M662.5 199.0V209.6M662.5 208.6V214.9M662.5 198.5V207.7M663.5 203.6V205.0M663.5 196.9V202.3M663.5 201.6V207.7M663.5 199.6V203.0M663.5 206.0V211.2M664.5 203.3V232.0M664.5 200.7V209.8M664.5 212.8V216.5M664.5 209.8V227.1M664.5 209.5V215.4M665.5 214.3V222.8M665.5 205.3V208.0M665.5 214.2V221.6M665.5 200.9V220.2M665.5 200.1V222.7M666.5 202.1V207.4M666.5 216.2V217.5M666.5 199.8V206.2M666.5 196.4V207.0M666.5 195.7V201.7M667.5 197.3V199.2M667.5 205.5V206.8M667.5 193.2V200.0M667.5 196.7V212.1M667.5 206.3V211.7M668.5 208.3V213.0M668.5 206.3V210.8M668.5 212.7V215.8M668.5 202.1V203.9M668.5 202.9V215.4M669.5 205.1V222.0M669.5 206.7V208.9M669.5 206.1V232.7M669.5 210.7V215.6M669.5 209.0V220.8M670.5 197.6V204.2M670.5 215.2V223.2M670.5 200.8V216.1M670.5 213.0V216.2M670.5 206.0V209.9M671.5 222.2V225.1M671.5 196.3V215.5M671.5 216.6V222.4M671.5 205.9V206.1M671.5 205.4V217.8M672.5 208.1V212.7M672.5 200.2V212.6M672.5 196.8V211.0M672.5 201.1V214.9M672.5 203.9V206.6M673.5 213.3V214.3M673.5 204.7V206.3M673.5 214.5V214.7M673.5 205.1V209.2M673.5 204.4V214.5M674.5 200.9V213.2M674.5 199.3V210.0M674.5 208.4V210.6M674.5 201.3V209.3M674.5 219.2V223.8M675.5 209.3V217.8M675.5 205.0V222.7M675.5 211.5V213.6M675.5 209.6V215.7M675.5 223.4V223.6M676.5 208.4V212.3M676.5 207.7V232.9M676.5 207.0V207.0M676.5 200.2V211.2M676.5 204.2V218.1M677.5 211.9V224.7M677.5 204.2V216.3M677.5 211.3V213.4M677.5 205.5V213.1M677.5 195.8V215.7M678.5 211.2V221.7M678.5 213.1V214.9M678.5 212.5V212.9M678.5 199.1V219.8M678.5 217.5V218.8M679.5 202.7V211.6M679.5 209.1V216.3M679.5 202.0V211.8M679.5 201.2V220.2M679.5 207.4V209.5M680.5 206.8V207.4M680.5 205.9V214.5M680.5 211.4V216.3M680.5 202.5V207.2M680.5 199.2V207.3M681.5 196.0V209.8M681.5 197.9V198.2M681.5 206.8V212.8M681.5 199.7V208.8M681.5 206.6V207.0M682.5 216.6V217.0M682.5 212.4V215.5M682.5 209.7V225.7M682.5 209.4V211.3M682.5 198.9V211.6M683.5 220.8V220.8M683.5 201.9V204.5M683.5 209.6V210.2M683.5 204.8V210.4M683.5 210.5V220.0M684.5 203.3V219.1M684.5 203.5V210.5M684.5 210.9V212.7M684.5 207.1V212.8M684.5 200.0V205.3M685.5 196.6V219.0M685.5 201.6V205.8M685.5 210.4V211.0M685.5 208.5V226.6M685.5 206.9V214.6M686.5 211.5V214.4M686.5 202.7V211.0M686.5 207.2V210.2M686.5 199.0V214.4M686.5 212.4V221.3M687.5 208.0V220.9M687.5 212.3V221.6M687.5 212.0V217.1M687.5 213.4V218.5M687.5 205.3V214.5M688.5 205.5V212.5M688.5 217.5V218.7M688.5 207.2V215.0M688.5 206.2V206.6M688.5 209.8V213.8M689.5 206.0V214.8M689.5 195.1V197.0M689.5 213.1V219.9M689.5 216.3V222.4M689.5 205.1V213.5M690.5 198.4V224.7M690.5 204.0V211.3M690.5 201.2V202.4M690.5 216.8V223.2M690.5 201.7V209.6M691.5 208.2V221.1M691.5 201.0V207.6M691.5 218.3V223.5M691.5 207.9V209.2M691.5 212.7V212.8M692.5 197.5V220.2M692.5 206.0V207.0M692.5 212.2V223.1M692.5 209.6V214.4M692.5 212.7V214.0M693.5 194.0V219.6M693.5 207.1V208.0M693.5 203.7V208.6M693.5 195.9V206.9M693.5 210.4V210.9M694.5 200.3V214.1M694.5 205.5V209.0M694.5 207.7V210.8M694.5 214.5V222.0M694.5 213.2V219.3" stroke="#4DBEEE" stroke-width="0.9" stroke-dasharray="1.4 0.7" stroke-opacity="0.49" fill="none"/>
<polyline points="413.0,179.2 415.4,179.4 417.7,179.7 420.1,180.0 422.5,180.3 424.8,180.7 427.2,181.1 429.6,181.6 431.9,182.2 434.3,183.0 436.7,183.7 439.0,184.4 441.4,185.0 443.8,185.6 446.1,186.2 448.5,186.6 450.8,187.0 453.2,187.3 455.6,187.7 457.9,188.0 460.3,188.3 462.7,188.6 465.0,188.9 467.4,189.2 469.8,189.4 472.1,189.6 474.5,189.8 476.9,189.9 479.2,190.2 481.6,190.4 484.0,190.7 486.3,191.0 488.7,191.3 491.1,191.6 493.4,192.0 495.8,192.3 498.2,192.6 500.5,193.0 502.9,193.3 505.3,193.6 507.6,193.9 510.0,194.2 512.4,194.6 514.7,195.0 517.1,195.3 519.4,195.7 521.8,196.0 524.2,196.3 526.5,196.6 528.9,196.8 531.3,197.0 533.6,197.3 536.0,197.5 538.4,197.7 540.7,198.0 543.1,198.3 545.5,198.7 547.8,199.1 550.2,199.5 552.6,199.8 554.9,200.1 557.3,200.3 559.7,200.5 562.0,200.6 564.4,200.6 566.8,200.5 569.1,200.4 571.5,200.4 573.9,200.6 576.2,200.8 578.6,201.1 581.0,201.3 583.3,201.6 585.7,201.8 588.1,202.0 590.4,202.2 592.8,202.2 595.1,202.0 597.5,201.7 599.9,201.3 602.2,201.1 604.6,201.1 607.0,201.3 609.3,201.5 611.7,201.6 614.1,201.8 616.4,202.0 618.8,202.1 621.2,202.2 623.5,202.4 625.9,202.6 628.3,202.8 630.6,203.0 633.0,203.2 635.4,203.6 637.7,204.0 640.1,204.5 642.5,205.0 644.8,205.5 647.2,205.9 649.6,206.3 651.9,206.6 654.3,207.0 656.7,207.3 659.0,207.6 661.4,207.9 663.7,208.2 666.1,208.5 668.5,208.7 670.8,208.9 673.2,209.1 675.6,209.3 677.9,209.4 680.3,209.6 682.7,209.7 685.0,209.8 687.4,209.9 689.8,210.0 692.1,210.1 694.5,210.2" stroke="#4DBEEE" stroke-width="1.8" fill="none" stroke-linejoin="round"/>
<path d="M413.5 164.2V166.2M413.5 148.1V164.8M413.5 150.7V156.6M413.5 154.4V166.9M413.5 151.3V168.5M414.5 167.0V178.5M414.5 162.4V165.8M414.5 151.2V166.8M414.5 157.8V163.5M414.5 161.9V164.6M415.5 158.4V168.3M415.5 165.8V166.9M415.5 159.7V166.5M415.5 162.0V165.9M415.5 159.6V160.9M416.5 159.2V170.1M416.5 163.1V167.1M416.5 153.1V178.7M416.5 159.4V182.3M416.5 167.6V170.2M417.5 162.3V183.9M417.5 163.5V163.7M417.5 156.9V161.6M417.5 153.2V182.7M417.5 161.3V164.3M418.5 160.1V171.4M418.5 151.1V167.4M418.5 162.4V162.5M418.5 145.0V177.4M418.5 149.5V152.7M419.5 160.6V172.8M419.5 158.3V171.6M419.5 135.3V170.1M419.5 157.9V180.6M419.5 160.6V182.3M420.5 168.3V170.7M420.5 158.2V172.3M420.5 157.6V157.8M420.5 153.8V158.9M420.5 159.2V168.9M421.5 166.0V181.8M421.5 177.8V178.0M421.5 164.3V183.4M421.5 162.0V166.6M421.5 154.5V164.2M422.5 163.4V178.4M422.5 159.9V174.8M422.5 174.5V180.8M422.5 168.1V175.4M422.5 153.0V163.9M423.5 158.2V160.9M423.5 166.9V174.2M423.5 145.5V163.8M423.5 158.9V194.2M423.5 163.6V173.0M424.5 166.9V178.0M424.5 167.3V173.9M424.5 162.8V173.0M424.5 157.4V174.4M424.5 163.7V170.5M425.5 163.1V166.1M425.5 160.9V170.0M425.5 167.5V172.4M425.5 164.9V182.2M425.5 176.4V179.3M426.5 171.6V179.4M426.5 162.7V165.3M426.5 168.6V174.8M426.5 161.8V168.2M426.5 157.3V167.2M427.5 168.1V169.2M427.5 172.1V176.8M427.5 170.8V173.8M427.5 163.8V173.6M427.5 181.2V183.2M428.5 172.0V179.9M428.5 161.7V190.3M428.5 170.2V183.8M428.5 169.4V174.6M428.5 171.6V174.5M429.5 169.5V173.3M429.5 159.6V167.9M429.5 174.5V177.5M429.5 165.5V177.1M429.5 165.7V168.3M430.5 162.1V180.9M430.5 144.6V180.4M430.5 173.7V175.3M430.5 168.7V177.0M430.5 171.9V193.5M431.5 170.0V181.6M431.5 159.3V170.3M431.5 170.5V180.1M431.5 169.7V177.5M431.5 169.6V177.7M432.5 171.1V174.6M432.5 171.9V180.0M432.5 163.7V170.0M432.5 169.5V175.1M432.5 165.1V180.8M433.5 174.9V176.6M433.5 166.7V187.3M433.5 173.1V182.9M433.5 170.0V181.4M433.5 176.6V196.1M434.5 168.2V169.1M434.5 173.8V176.8M434.5 179.8V184.9M434.5 178.8V182.1M434.5 168.0V183.8M435.5 167.1V190.1M435.5 177.0V183.9M435.5 179.9V184.0M435.5 180.4V184.5M435.5 162.9V182.8M436.5 176.1V181.9M436.5 169.4V185.0M436.5 175.8V184.9M436.5 183.0V190.4M436.5 172.1V182.0M437.5 176.6V181.6M437.5 169.5V181.9M437.5 184.6V187.2M437.5 170.5V180.2M437.5 173.8V194.9M438.5 172.3V183.3M438.5 178.2V180.6M438.5 177.0V189.2M438.5 164.0V208.0M438.5 179.3V180.0M439.5 174.4V185.8M439.5 179.2V186.9M439.5 184.7V189.0M439.5 185.7V187.5M439.5 181.0V181.9M440.5 171.8V185.3M440.5 170.2V186.2M440.5 186.2V189.4M440.5 178.1V184.4M440.5 181.8V183.7M441.5 165.0V194.9M441.5 173.7V175.8M441.5 179.7V194.0M441.5 185.3V186.1M441.5 182.8V186.1M442.5 181.2V197.9M442.5 168.0V194.0M442.5 175.3V185.7M442.5 175.3V181.2M442.5 182.5V183.3M443.5 179.7V195.3M443.5 171.4V189.9M443.5 180.2V186.7M443.5 177.2V180.4M443.5 173.3V184.7M444.5 177.9V191.5M444.5 175.5V194.5M444.5 181.0V185.3M444.5 180.5V182.3M444.5 177.7V198.8M445.5 179.1V189.1M445.5 173.3V187.8M445.5 188.4V190.1M445.5 181.3V189.6M445.5 176.7V193.4M446.5 178.8V186.0M446.5 170.2V191.5M446.5 186.9V189.4M446.5 176.0V195.0M446.5 174.5V197.1M447.5 183.7V186.6M447.5 191.9V193.6M447.5 195.8V206.3M447.5 181.2V196.0M447.5 187.4V200.1M448.5 174.7V179.4M448.5 183.8V189.1M448.5 177.5V184.6M448.5 186.3V199.2M448.5 183.2V189.9M449.5 183.3V195.3M449.5 183.4V194.5M449.5 175.6V186.0M449.5 175.3V179.9M449.5 183.1V184.1M450.5 182.2V188.4M450.5 182.6V183.8M450.5 185.5V200.6M450.5 201.1V209.3M450.5 180.3V185.3M451.5 179.8V180.4M451.5 169.5V187.6M451.5 174.9V188.8M451.5 176.6V184.2M451.5 176.5V190.6M452.5 173.2V176.1M452.5 190.1V196.3M452.5 185.8V194.2M452.5 178.2V194.6M452.5 185.4V201.0M453.5 181.5V183.3M453.5 182.6V186.7M453.5 186.4V187.1M453.5 186.8V188.4M453.5 180.4V196.7M454.5 174.0V183.2M454.5 185.8V194.2M454.5 181.7V196.2M454.5 182.6V189.6M454.5 174.2V190.7M455.5 178.5V184.7M455.5 173.5V191.1M455.5 186.6V193.0M455.5 192.6V205.2M455.5 155.9V199.6M456.5 194.3V196.7M456.5 181.1V187.3M456.5 183.4V191.1M456.5 190.4V207.5M456.5 176.2V182.6M457.5 177.2V177.7M457.5 182.3V184.1M457.5 192.2V197.1M457.5 181.3V197.9M457.5 176.0V201.0M458.5 186.3V189.7M458.5 184.9V187.6M458.5 174.5V187.7M458.5 170.0V190.7M458.5 182.0V197.2M459.5 183.4V196.4M459.5 198.2V200.3M459.5 194.0V197.0M459.5 173.2V194.3M459.5 188.9V194.7M460.5 175.2V194.7M460.5 196.1V200.4M460.5 194.3V198.8M460.5 178.8V184.8M460.5 196.3V198.4M461.5 182.2V194.8M461.5 187.3V196.0M461.5 184.3V188.2M461.5 186.6V197.3M461.5 186.7V198.1M462.5 183.2V202.0M462.5 173.4V190.2M462.5 177.7V186.5M462.5 192.4V205.6M462.5 173.0V190.9M463.5 183.7V190.8M463.5 176.3V194.3M463.5 176.7V189.2M463.5 182.3V183.2M463.5 177.3V201.8M464.5 172.8V184.9M464.5 181.5V183.7M464.5 189.8V200.6M464.5 181.2V195.2M464.5 177.5V185.2M465.5 172.1V206.8M465.5 174.9V189.2M465.5 184.8V185.8M465.5 190.4V199.7M465.5 181.3V194.5M466.5 173.9V195.8M466.5 192.4V201.8M466.5 184.8V188.1M466.5 188.8V193.5M466.5 189.4V193.2M467.5 176.7V194.6M467.5 190.8V191.4M467.5 174.9V185.4M467.5 179.4V181.9M467.5 187.3V188.9M468.5 162.1V194.3M468.5 182.0V191.3M468.5 187.2V200.7M468.5 184.2V199.9M468.5 184.6V198.3M469.5 166.8V180.2M469.5 175.1V190.0M469.5 188.3V192.0M469.5 176.3V190.3M469.5 185.0V193.3M470.5 175.3V193.7M470.5 186.7V191.5M470.5 183.9V190.6M470.5 171.0V176.4M470.5 189.6V198.0M471.5 194.3V194.8M471.5 180.5V190.4M471.5 185.7V202.8M471.5 181.4V192.2M471.5 175.5V181.5M472.5 178.6V180.6M472.5 185.4V190.1M472.5 170.9V184.7M472.5 174.1V190.1M472.5 174.3V188.3M473.5 185.2V200.6M473.5 180.8V192.4M473.5 186.8V188.5M473.5 183.8V188.3M473.5 169.3V188.3M474.5 192.9V194.1M474.5 196.0V198.1M474.5 188.6V192.3M474.5 180.6V191.7M474.5 167.8V185.9M475.5 195.1V205.2M475.5 179.4V187.2M475.5 190.3V194.8M475.5 170.7V189.0M475.5 202.9V202.9M476.5 189.5V202.2M476.5 185.2V188.9M476.5 184.3V195.5M476.5 179.4V198.8M476.5 193.3V200.1M477.5 185.2V191.8M477.5 182.0V192.3M477.5 192.9V194.0M477.5 187.8V211.9M477.5 186.0V200.0M478.5 187.0V191.8M478.5 183.6V192.8M478.5 176.6V195.0M478.5 183.3V191.4M478.5 188.5V195.3M479.5 184.0V185.1M479.5 191.8V194.9M479.5 187.5V187.5M479.5 177.2V201.8M479.5 190.3V204.4M480.5 185.5V192.7M480.5 187.7V191.5M480.5 191.3V195.4M480.5 189.2V195.7M480.5 186.1V194.2M481.5 183.4V190.4M481.5 184.0V196.7M481.5 188.2V191.8M481.5 186.7V187.0M481.5 183.8V194.2M482.5 192.9V194.6M482.5 183.1V191.4M482.5 186.2V187.0M482.5 186.1V192.2M482.5 193.6V196.5M483.5 186.7V187.9M483.5 182.6V192.6M483.5 189.9V191.2M483.5 189.6V190.8M483.5 185.5V190.6M484.5 185.5V193.8M484.5 188.9V194.0M484.5 184.3V192.6M484.5 190.3V194.1M484.5 188.8V191.5M485.5 192.4V197.9M485.5 191.0V192.0M485.5 188.6V195.5M485.5 182.8V190.9M485.5 185.6V194.4M486.5 185.3V191.1M486.5 191.3V197.5M486.5 198.0V198.8M486.5 190.0V191.8M486.5 191.8V197.9M487.5 186.3V195.1M487.5 191.4V192.9M487.5 187.6V194.9M487.5 187.6V194.6M487.5 191.7V199.9M488.5 184.3V195.2M488.5 190.2V196.6M488.5 191.9V198.5M488.5 190.4V190.5M488.5 191.6V194.8M489.5 189.1V191.2M489.5 190.9V194.6M489.5 188.3V192.2M489.5 188.5V197.1M489.5 197.4V199.1M490.5 184.1V191.4M490.5 183.0V190.0M490.5 188.1V194.5M490.5 189.2V196.4M490.5 181.9V202.0M491.5 184.5V194.8M491.5 182.1V188.6M491.5 191.0V204.0M491.5 182.8V196.3M491.5 186.8V188.9M492.5 188.9V195.3M492.5 183.8V190.2M492.5 186.9V189.1M492.5 185.4V196.1M492.5 195.5V196.2M493.5 194.2V196.0M493.5 191.8V198.7M493.5 185.8V194.6M493.5 183.9V204.1M493.5 190.0V196.7M494.5 194.5V200.1M494.5 177.1V193.2M494.5 192.6V192.7M494.5 190.6V191.0M494.5 192.0V192.3M495.5 191.9V198.6M495.5 187.2V190.5M495.5 179.0V189.7M495.5 193.4V199.9M495.5 199.7V208.2M496.5 181.4V184.5M496.5 192.7V202.4M496.5 183.0V199.0M496.5 194.2V202.7M496.5 188.4V195.6M497.5 189.8V197.8M497.5 195.6V200.8M497.5 196.6V197.7M497.5 197.8V198.6M497.5 183.7V198.6M498.5 191.1V195.2M498.5 187.0V194.4M498.5 187.4V197.4M498.5 195.6V199.8M498.5 199.2V200.7M499.5 188.2V192.1M499.5 188.2V201.2M499.5 186.0V189.6M499.5 191.6V199.0M499.5 190.5V196.0M500.5 195.8V206.2M500.5 184.6V206.4M500.5 200.3V201.3M500.5 196.3V198.7M500.5 189.4V192.4M501.5 185.2V195.9M501.5 192.3V194.0M501.5 178.2V201.0M501.5 184.5V200.3M501.5 201.5V204.9M502.5 185.2V201.8M502.5 193.7V198.6M502.5 186.3V201.7M502.5 195.1V199.2M502.5 184.1V199.2M503.5 187.0V197.5M503.5 190.6V203.1M503.5 196.0V198.7M503.5 194.2V196.9M503.5 195.0V199.7M504.5 194.6V199.1M504.5 190.7V197.9M504.5 196.0V198.0M504.5 191.0V200.9M504.5 190.1V204.0M505.5 190.7V195.0M505.5 189.8V193.5M505.5 190.4V193.4M505.5 183.6V200.9M505.5 183.5V204.8M506.5 190.8V195.0M506.5 194.7V202.7M506.5 201.0V205.5M506.5 190.2V190.7M506.5 182.4V183.9M507.5 189.6V201.4M507.5 193.4V198.5M507.5 191.2V192.1M507.5 192.5V205.6M507.5 199.7V204.0M508.5 193.6V194.3M508.5 180.0V192.1M508.5 188.4V193.9M508.5 191.9V204.7M508.5 190.9V192.8M509.5 190.4V193.6M509.5 190.4V194.1M509.5 188.7V196.6M509.5 191.0V191.7M509.5 189.6V193.2M510.5 195.3V201.1M510.5 195.1V212.8M510.5 191.8V198.6M510.5 201.9V203.1M510.5 196.1V197.9M511.5 195.2V196.3M511.5 190.2V194.6M511.5 193.9V197.6M511.5 191.7V193.9M511.5 188.0V195.4M512.5 195.1V196.0M512.5 189.5V191.1M512.5 193.1V193.5M512.5 187.0V201.4M512.5 193.0V194.5M513.5 182.9V197.0M513.5 191.2V196.2M513.5 184.6V201.9M513.5 192.0V199.3M513.5 191.4V195.2M514.5 186.4V193.0M514.5 200.2V202.4M514.5 184.3V199.4M514.5 194.7V197.7M514.5 192.2V197.1M515.5 202.0V203.2M515.5 189.1V194.2M515.5 194.5V196.1M515.5 193.2V204.2M515.5 197.7V200.3M516.5 175.1V195.4M516.5 193.8V196.4M516.5 203.0V212.3M516.5 197.4V199.2M516.5 183.1V203.8M517.5 186.7V194.8M517.5 201.9V206.3M517.5 197.5V199.8M517.5 182.2V198.3M517.5 199.3V202.1M518.5 198.2V204.1M518.5 187.3V203.8M518.5 189.8V192.7M518.5 201.3V205.6M518.5 199.1V206.2M519.5 185.0V199.5M519.5 189.9V198.9M519.5 196.9V200.8M519.5 190.8V194.1M519.5 200.9V203.6M520.5 180.0V203.6M520.5 181.5V197.5M520.5 189.1V193.0M520.5 192.7V197.3M520.5 187.5V211.8M521.5 183.6V199.3M521.5 187.0V203.8M521.5 178.4V213.6M521.5 198.7V201.6M521.5 191.2V198.5M522.5 189.2V193.0M522.5 199.7V200.5M522.5 196.0V200.2M522.5 201.2V206.7M522.5 202.0V204.6M523.5 197.1V197.5M523.5 192.1V202.9M523.5 191.4V199.3M523.5 196.2V203.1M523.5 190.3V198.1M524.5 205.2V212.9M524.5 189.0V210.1M524.5 204.6V208.2M524.5 198.1V220.9M524.5 188.5V193.9M525.5 197.1V204.9M525.5 205.6V207.7M525.5 195.1V196.6M525.5 191.2V197.6M525.5 178.7V207.1M526.5 184.9V191.2M526.5 194.6V200.9M526.5 189.5V203.2M526.5 185.9V206.2M526.5 198.2V201.4M527.5 201.8V202.4M527.5 193.9V195.2M527.5 189.6V205.5M527.5 194.4V200.2M527.5 182.3V202.2M528.5 199.9V200.9M528.5 185.4V187.7M528.5 203.4V204.0M528.5 181.2V190.7M528.5 195.3V197.6M529.5 186.4V202.5M529.5 194.6V203.3M529.5 195.6V198.2M529.5 193.4V198.7M529.5 192.5V199.0M530.5 196.8V198.3M530.5 192.0V200.4M530.5 191.6V194.8M530.5 198.5V206.8M530.5 193.6V199.2M531.5 177.0V196.0M531.5 176.1V202.4M531.5 193.4V199.9M531.5 193.3V215.5M531.5 193.4V199.6M532.5 188.2V213.8M532.5 181.6V189.7M532.5 176.4V194.0M532.5 192.6V196.9M532.5 187.1V197.7M533.5 189.2V200.7M533.5 180.2V195.9M533.5 185.9V195.7M533.5 184.3V192.8M533.5 200.4V210.0M534.5 188.0V195.6M534.5 203.9V204.7M534.5 193.6V215.2M534.5 199.7V217.3M534.5 181.1V188.2M535.5 190.1V198.8M535.5 184.4V193.6M535.5 193.4V206.3M535.5 179.7V198.2M535.5 193.5V199.6M536.5 194.2V216.9M536.5 191.3V210.8M536.5 195.9V198.8M536.5 187.8V193.6M536.5 213.2V214.8M537.5 202.4V210.8M537.5 193.5V208.6M537.5 177.0V205.4M537.5 198.0V209.6M537.5 185.9V196.9M538.5 181.8V193.7M538.5 206.5V211.7M538.5 201.3V218.3M538.5 208.2V212.9M538.5 188.3V191.0M539.5 197.7V200.9M539.5 179.7V206.8M539.5 201.9V203.0M539.5 184.3V190.9M539.5 185.3V193.7M540.5 149.7V162.6M540.5 190.6V209.2M540.5 173.3V195.7M540.5 194.0V208.7M540.5 182.2V189.6M541.5 179.7V213.5M541.5 194.3V208.9M541.5 196.8V198.9M541.5 193.4V209.8M541.5 203.0V205.2M542.5 182.2V194.2M542.5 182.6V237.0M542.5 167.3V210.4M542.5 168.5V207.1M542.5 175.2V200.5M543.5 189.4V206.1M543.5 202.0V204.4M543.5 201.0V215.5M543.5 195.4V227.1M543.5 201.0V204.2M544.5 195.3V199.3M544.5 204.9V210.7M544.5 189.3V228.2M544.5 210.3V226.0M544.5 193.1V197.0M545.5 185.6V191.4M545.5 198.8V199.4M545.5 192.6V205.8M545.5 159.6V189.6M545.5 184.0V193.2M546.5 196.1V206.7M546.5 193.6V200.6M546.5 202.0V208.2M546.5 177.7V186.8M546.5 203.1V211.1M547.5 206.7V210.9M547.5 202.0V213.0M547.5 205.3V218.5M547.5 185.6V197.6M547.5 186.0V213.7M548.5 189.6V202.1M548.5 184.8V195.7M548.5 185.1V201.1M548.5 181.4V187.7M548.5 200.3V213.1M549.5 190.2V201.3M549.5 183.3V203.2M549.5 196.9V197.3M549.5 196.5V196.7M549.5 191.4V204.9M550.5 192.5V206.2M550.5 197.0V199.0M550.5 196.1V205.8M550.5 206.6V210.0M550.5 194.2V223.5M551.5 187.4V211.3M551.5 188.3V190.7M551.5 199.7V205.7M551.5 203.1V205.5M551.5 192.7V197.7M552.5 191.6V203.4M552.5 194.4V198.0M552.5 202.5V209.6M552.5 189.5V197.7M552.5 185.6V206.6M553.5 188.1V195.6M553.5 200.5V202.8M553.5 199.9V213.0M553.5 190.6V198.7M553.5 190.0V203.7M554.5 201.4V208.4M554.5 195.9V210.5M554.5 189.1V197.7M554.5 206.9V211.6M554.5 196.2V218.2M555.5 198.2V201.7M555.5 194.9V198.9M555.5 198.0V200.6M555.5 199.9V212.9M555.5 198.5V204.9M556.5 201.2V202.8M556.5 181.6V192.6M556.5 201.1V209.2M556.5 189.2V199.2M556.5 206.5V211.7M557.5 197.0V202.7M557.5 188.6V195.1M557.5 199.0V199.2M557.5 193.9V206.2M557.5 192.3V202.8M558.5 195.6V205.7M558.5 200.3V207.2M558.5 201.4V204.1M558.5 199.2V199.4M558.5 195.8V208.1M559.5 194.3V201.5M559.5 193.3V207.2M559.5 202.2V206.8M559.5 189.7V196.5M559.5 190.3V216.6M560.5 199.4V207.8M560.5 201.2V203.5M560.5 199.5V214.9M560.5 195.7V197.5M560.5 188.9V208.5M561.5 197.5V202.0M561.5 186.1V201.8M561.5 196.5V206.3M561.5 191.2V196.4M561.5 193.3V210.4M562.5 191.4V204.6M562.5 182.4V205.7M562.5 196.0V198.4M562.5 187.5V200.0M562.5 193.3V202.9M563.5 207.0V226.3M563.5 189.9V215.1M563.5 193.8V211.8M563.5 185.2V203.2M563.5 180.4V210.2M564.5 188.4V192.7M564.5 197.4V204.7M564.5 203.3V207.0M564.5 197.3V201.0M564.5 194.8V197.4M565.5 188.8V205.9M565.5 192.7V201.6M565.5 201.8V207.9M565.5 203.4V204.7M565.5 204.0V209.4M566.5 208.8V213.5M566.5 194.1V214.6M566.5 189.5V193.0M566.5 206.3V206.7M566.5 197.2V211.3M567.5 208.1V218.7M567.5 195.3V208.9M567.5 193.3V202.1M567.5 202.5V208.5M567.5 194.0V211.6M568.5 201.8V218.8M568.5 198.3V207.3M568.5 188.5V205.2M568.5 181.6V217.6M568.5 184.1V199.1M569.5 205.9V217.3M569.5 204.3V210.7M569.5 193.2V209.5M569.5 194.5V216.5M569.5 193.8V203.5M570.5 201.6V231.7M570.5 211.5V232.0M570.5 201.5V204.1M570.5 200.2V203.4M570.5 183.9V209.5M571.5 162.6V219.6M571.5 194.1V208.0M571.5 196.0V203.2M571.5 203.3V205.7M571.5 191.3V222.8M572.5 191.1V216.8M572.5 198.5V204.3M572.5 196.6V209.2M572.5 179.3V196.9M572.5 205.3V215.3M573.5 197.3V210.4M573.5 196.3V201.8M573.5 189.6V204.2M573.5 181.2V194.4M573.5 168.1V200.4M574.5 200.0V215.6M574.5 202.4V214.0M574.5 184.3V197.9M574.5 194.8V204.1M574.5 191.1V202.2M575.5 194.1V208.5M575.5 185.3V202.9M575.5 197.4V201.7M575.5 191.6V214.3M575.5 213.5V217.7M576.5 193.7V209.2M576.5 194.7V214.8M576.5 187.5V188.6M576.5 199.4V205.1M576.5 202.0V206.3M577.5 197.4V203.7M577.5 201.2V216.1M577.5 198.4V202.9M577.5 186.6V201.8M577.5 198.7V212.6M578.5 186.1V190.7M578.5 194.0V196.1M578.5 198.6V205.6M578.5 195.8V209.9M578.5 197.8V207.7M579.5 204.6V205.1M579.5 181.9V198.6M579.5 191.6V206.2M579.5 199.4V218.9M579.5 197.9V214.6M580.5 203.7V209.6M580.5 195.9V196.3M580.5 183.6V212.1M580.5 189.4V204.3M580.5 203.0V207.7M581.5 205.9V215.1M581.5 196.0V200.1M581.5 197.5V206.6M581.5 201.9V206.3M581.5 204.4V205.2M582.5 203.7V207.2M582.5 199.8V204.4M582.5 188.7V202.4M582.5 193.0V210.8M582.5 199.9V214.2M583.5 200.1V205.5M583.5 198.6V201.9M583.5 191.0V205.6M583.5 194.3V200.5M583.5 196.0V215.1M584.5 199.6V208.8M584.5 195.9V216.8M584.5 200.2V204.3M584.5 195.5V202.4M584.5 201.6V215.0M585.5 195.9V200.3M585.5 200.9V212.6M585.5 202.0V204.8M585.5 201.0V205.5M585.5 200.1V203.9M586.5 193.7V194.9M586.5 197.1V203.0M586.5 187.9V190.3M586.5 189.6V190.4M586.5 204.1V210.7M587.5 198.1V218.5M587.5 190.0V198.9M587.5 192.3V212.1M587.5 193.1V195.7M587.5 192.4V200.6M588.5 191.8V208.6M588.5 196.9V211.2M588.5 217.8V219.8M588.5 212.3V220.3M588.5 195.7V204.8M589.5 199.6V206.5M589.5 203.7V208.8M589.5 207.7V208.3M589.5 195.9V201.0M589.5 194.7V206.3M590.5 202.8V206.2M590.5 187.6V194.9M590.5 207.3V214.7M590.5 205.5V213.0M590.5 207.1V207.7M591.5 192.6V199.1M591.5 198.7V200.9M591.5 193.8V199.8M591.5 205.3V221.1M591.5 207.3V213.0M592.5 190.2V195.1M592.5 188.1V197.3M592.5 186.8V202.2M592.5 197.7V210.5M592.5 177.9V199.7M593.5 191.1V197.3M593.5 210.2V212.3M593.5 203.6V205.4M593.5 205.1V210.2M593.5 211.5V222.2M594.5 202.4V204.9M594.5 198.6V205.0M594.5 198.4V212.1M594.5 199.5V200.1M594.5 189.3V214.2M595.5 193.4V209.1M595.5 191.1V208.1M595.5 217.0V224.0M595.5 203.2V205.7M595.5 186.9V205.6M596.5 191.7V217.3M596.5 183.8V190.3M596.5 207.6V210.6M596.5 198.1V204.3M596.5 208.5V221.6M597.5 193.0V202.8M597.5 196.1V200.6M597.5 198.0V203.9M597.5 197.4V209.8M597.5 194.8V200.7M598.5 196.8V204.8M598.5 180.6V208.0M598.5 195.6V203.3M598.5 199.0V210.1M598.5 190.1V206.3M599.5 197.7V214.3M599.5 199.2V206.1M599.5 204.6V209.4M599.5 190.4V207.1M599.5 191.6V199.9M600.5 195.6V199.0M600.5 200.2V202.8M600.5 199.3V200.1M600.5 188.3V209.7M600.5 201.2V225.4M601.5 194.6V199.9M601.5 195.1V207.8M601.5 197.8V201.7M601.5 201.7V201.7M601.5 196.7V202.1M602.5 203.9V208.8M602.5 203.1V204.5M602.5 192.0V216.3M602.5 208.9V215.7M602.5 206.2V206.2M603.5 182.8V200.9M603.5 192.8V203.3M603.5 193.5V205.3M603.5 183.8V215.0M603.5 186.6V202.2M604.5 193.8V211.5M604.5 194.2V208.4M604.5 193.3V206.1M604.5 189.6V212.3M604.5 206.8V207.0M605.5 200.9V204.5M605.5 186.2V201.1M605.5 199.8V202.9M605.5 188.8V209.4M605.5 199.6V204.3M606.5 202.6V209.1M606.5 196.7V201.2M606.5 195.1V202.7M606.5 198.0V198.5M606.5 207.2V208.0M607.5 197.6V198.4M607.5 196.2V204.8M607.5 202.2V207.9M607.5 202.5V217.9M607.5 193.3V203.0M608.5 202.3V208.9M608.5 195.7V204.8M608.5 197.3V205.4M608.5 199.9V203.9M608.5 195.9V209.6M609.5 205.0V206.9M609.5 198.5V208.8M609.5 194.1V207.8M609.5 182.0V196.3M609.5 198.8V203.3M610.5 192.7V198.9M610.5 190.5V204.0M610.5 193.3V203.0M610.5 197.9V201.2M610.5 207.5V208.8M611.5 193.0V199.7M611.5 194.2V197.0M611.5 187.6V206.1M611.5 206.2V206.9M611.5 193.5V199.0M612.5 198.5V203.8M612.5 202.8V208.2M612.5 195.6V198.0M612.5 199.8V220.3M612.5 200.3V213.2M613.5 195.2V197.1M613.5 192.7V209.1M613.5 187.6V190.8M613.5 186.1V200.0M613.5 195.1V201.6M614.5 199.0V202.4M614.5 191.1V202.2M614.5 188.7V206.3M614.5 194.0V197.5M614.5 205.8V226.6M615.5 196.5V204.5M615.5 200.1V207.7M615.5 188.2V213.1M615.5 192.9V194.5M615.5 190.8V214.6M616.5 206.4V214.6M616.5 182.5V200.5M616.5 207.7V214.6M616.5 204.5V212.5M616.5 206.0V212.7M617.5 186.0V202.0M617.5 198.0V207.3M617.5 196.6V218.7M617.5 199.1V203.2M617.5 184.5V203.1M618.5 198.8V205.5M618.5 196.2V206.9M618.5 193.1V214.1M618.5 200.8V206.9M618.5 208.0V213.3M619.5 196.0V213.7M619.5 200.3V206.4M619.5 202.6V204.2M619.5 193.3V214.6M619.5 188.1V203.8M620.5 191.3V199.5M620.5 195.7V218.5M620.5 190.8V196.3M620.5 198.9V213.6M620.5 198.3V209.0M621.5 202.0V206.6M621.5 195.3V205.2M621.5 200.4V202.1M621.5 201.8V203.0M621.5 196.6V211.5M622.5 198.7V208.0M622.5 203.3V206.8M622.5 192.0V209.1M622.5 209.2V215.3M622.5 198.1V200.1M623.5 180.2V202.5M623.5 201.4V210.4M623.5 194.1V200.8M623.5 196.1V202.7M623.5 190.2V221.0M624.5 183.9V191.3M624.5 213.7V221.6M624.5 202.6V212.9M624.5 192.3V196.8M624.5 188.6V190.8M625.5 198.7V218.1M625.5 190.1V193.5M625.5 201.4V205.3M625.5 199.6V203.4M625.5 203.6V213.7M626.5 206.3V215.1M626.5 196.2V197.5M626.5 192.2V200.8M626.5 206.2V208.5M626.5 190.6V198.5M627.5 197.6V199.7M627.5 200.3V202.2M627.5 206.3V214.0M627.5 188.9V207.0M627.5 196.7V205.0M628.5 201.3V201.6M628.5 190.5V203.1M628.5 205.0V210.3M628.5 195.3V199.6M628.5 193.7V200.5M629.5 200.6V207.4M629.5 188.4V200.8M629.5 202.5V213.7M629.5 177.7V198.5M629.5 203.7V205.1M630.5 199.7V209.7M630.5 193.9V214.1M630.5 197.4V235.2M630.5 211.2V218.1M630.5 195.0V208.9M631.5 189.1V207.8M631.5 198.2V212.2M631.5 212.1V225.0M631.5 204.3V209.1M631.5 201.6V204.4M632.5 198.5V209.0M632.5 193.0V194.3M632.5 200.5V214.0M632.5 198.7V209.8M632.5 208.9V217.4M633.5 197.4V212.3M633.5 218.0V218.2M633.5 201.7V213.4M633.5 200.5V202.2M633.5 190.3V197.7M634.5 183.7V187.6M634.5 189.2V215.0M634.5 206.5V212.8M634.5 212.2V217.5M634.5 188.2V194.3M635.5 204.5V205.1M635.5 206.1V213.9M635.5 196.8V211.6M635.5 204.2V213.4M635.5 203.6V205.9M636.5 197.9V212.8M636.5 199.4V212.6M636.5 202.1V204.7M636.5 207.9V220.4M636.5 206.9V214.8M637.5 188.5V203.8M637.5 196.1V201.9M637.5 201.5V201.9M637.5 196.5V198.7M637.5 195.9V199.2M638.5 203.3V219.3M638.5 190.1V201.2M638.5 193.9V209.8M638.5 203.5V222.1M638.5 189.4V215.3M639.5 207.4V208.0M639.5 188.8V194.2M639.5 202.3V206.5M639.5 202.1V212.2M639.5 194.1V196.8M640.5 196.4V201.8M640.5 200.8V203.4M640.5 191.7V193.3M640.5 205.6V215.7M640.5 196.6V205.3M641.5 203.1V208.5M641.5 185.6V200.9M641.5 198.3V209.4M641.5 201.1V202.0M641.5 200.3V214.2M642.5 205.3V210.7M642.5 202.8V206.4M642.5 204.5V206.5M642.5 200.3V213.5M642.5 192.8V197.5M643.5 195.3V209.9M643.5 202.9V207.3M643.5 196.7V200.7M643.5 207.3V216.1M643.5 201.0V206.7M644.5 204.1V210.8M644.5 192.2V201.2M644.5 200.3V203.7M644.5 206.1V216.4M644.5 204.3V208.6M645.5 200.2V208.1M645.5 206.6V206.9M645.5 206.5V209.2M645.5 191.8V193.1M645.5 206.8V209.8M646.5 202.4V202.6M646.5 199.6V201.4M646.5 201.6V211.5M646.5 197.5V200.1M646.5 203.0V214.7M647.5 200.3V214.6M647.5 206.6V209.5M647.5 201.0V206.5M647.5 205.3V209.6M647.5 197.2V199.7M648.5 196.4V204.7M648.5 174.2V211.6M648.5 199.5V205.3M648.5 200.8V202.5M648.5 199.2V202.6M649.5 191.7V220.0M649.5 206.7V207.2M649.5 195.7V203.6M649.5 199.7V213.8M649.5 202.1V202.5M650.5 205.9V207.2M650.5 197.5V217.4M650.5 201.8V205.5M650.5 197.9V198.2M650.5 217.6V219.4M651.5 194.2V210.1M651.5 200.7V206.2M651.5 194.4V214.1M651.5 196.4V207.5M651.5 196.0V218.2M652.5 202.0V206.9M652.5 203.1V221.7M652.5 202.7V204.5M652.5 195.9V199.4M652.5 202.9V209.8M653.5 203.4V206.8M653.5 197.8V201.4M653.5 204.5V214.1M653.5 200.6V202.6M653.5 195.0V208.1M654.5 195.9V214.2M654.5 198.6V216.9M654.5 202.8V207.9M654.5 202.1V203.8M654.5 195.5V205.6M655.5 206.2V207.4M655.5 200.2V202.1M655.5 198.7V202.3M655.5 214.1V215.9M655.5 213.5V220.2M656.5 192.6V201.7M656.5 195.2V202.1M656.5 201.6V220.0M656.5 202.9V208.8M656.5 194.0V206.4M657.5 201.0V216.1M657.5 187.4V215.2M657.5 187.5V197.4M657.5 199.4V219.3M657.5 185.3V195.6M658.5 194.7V214.7M658.5 203.4V211.4M658.5 190.7V197.5M658.5 198.9V212.7M658.5 201.0V205.8M659.5 190.8V198.6M659.5 207.3V211.7M659.5 184.8V195.9M659.5 207.4V211.2M659.5 190.9V208.9M660.5 207.0V214.7M660.5 197.5V200.6M660.5 201.3V203.3M660.5 199.3V209.8M660.5 203.5V207.2M661.5 198.3V201.9M661.5 200.5V215.5M661.5 203.2V211.5M661.5 191.1V207.5M661.5 196.7V201.1M662.5 193.7V200.3M662.5 196.8V209.1M662.5 198.5V207.1M662.5 208.1V213.7M662.5 192.0V199.7M663.5 201.6V210.3M663.5 205.1V208.9M663.5 210.5V213.7M663.5 204.0V211.1M663.5 202.3V205.9M664.5 206.3V222.6M664.5 203.8V205.8M664.5 204.9V207.1M664.5 203.6V205.0M664.5 203.6V209.0M665.5 208.5V210.7M665.5 199.4V204.0M665.5 203.1V209.3M665.5 206.2V211.2M665.5 208.2V209.4M666.5 196.6V217.8M666.5 202.7V204.6M666.5 205.2V205.3M666.5 201.2V203.5M666.5 198.3V209.3M667.5 185.5V197.9M667.5 201.7V214.4M667.5 198.6V208.8M667.5 207.1V216.3M667.5 200.0V211.4M668.5 203.4V206.5M668.5 201.2V218.7M668.5 205.9V220.6M668.5 206.8V212.8M668.5 210.0V214.3M669.5 205.5V208.6M669.5 211.3V212.6M669.5 204.6V213.7M669.5 202.8V209.5M669.5 194.6V204.5M670.5 204.9V214.3M670.5 202.9V203.5M670.5 201.4V207.0M670.5 200.3V207.6M670.5 203.7V214.9M671.5 199.4V219.9M671.5 205.0V211.6M671.5 204.8V222.4M671.5 204.8V208.3M671.5 204.4V205.7M672.5 190.3V212.3M672.5 203.0V214.2M672.5 206.1V216.8M672.5 203.2V205.4M672.5 190.0V199.3M673.5 221.4V236.2M673.5 201.1V204.9M673.5 202.2V203.5M673.5 202.2V213.0M673.5 195.5V207.4M674.5 210.7V215.8M674.5 198.9V210.8M674.5 198.8V208.1M674.5 188.7V203.7M674.5 201.8V208.5M675.5 192.3V215.9M675.5 197.3V198.7M675.5 187.6V223.8M675.5 183.1V196.3M675.5 200.9V209.0M676.5 191.1V223.5M676.5 198.5V216.5M676.5 203.4V216.2M676.5 208.3V213.0M676.5 209.8V215.4M677.5 206.3V217.4M677.5 200.5V201.4M677.5 206.6V218.3M677.5 196.9V207.9M677.5 197.4V211.5M678.5 191.6V197.1M678.5 201.9V219.9M678.5 201.1V202.3M678.5 200.6V205.4M678.5 196.1V207.4M679.5 202.6V211.4M679.5 184.4V215.7M679.5 199.0V206.4M679.5 197.5V206.4M679.5 201.3V223.2M680.5 189.3V191.8M680.5 191.3V216.5M680.5 207.0V209.0M680.5 196.2V203.2M680.5 202.5V203.9M681.5 208.5V209.9M681.5 198.7V213.6M681.5 202.4V218.2M681.5 210.7V216.1M681.5 202.4V205.2M682.5 205.4V209.7M682.5 194.1V205.7M682.5 189.3V207.3M682.5 196.7V214.2M682.5 202.5V205.6M683.5 198.3V207.3M683.5 204.4V207.2M683.5 211.7V213.9M683.5 218.4V227.1M683.5 207.9V214.6M684.5 207.7V214.9M684.5 190.6V210.9M684.5 197.8V203.8M684.5 215.5V222.1M684.5 209.7V224.2M685.5 199.6V208.2M685.5 191.0V210.7M685.5 204.2V207.5M685.5 193.2V209.2M685.5 200.6V208.9M686.5 200.0V206.3M686.5 204.4V209.6M686.5 202.0V206.4M686.5 201.1V237.2M686.5 202.6V209.7M687.5 195.3V199.0M687.5 195.7V197.8M687.5 192.8V193.9M687.5 191.9V195.0M687.5 206.1V212.5M688.5 205.5V211.9M688.5 201.3V210.7M688.5 211.3V212.3M688.5 214.4V228.4M688.5 198.4V199.7M689.5 214.0V214.1M689.5 202.5V216.0M689.5 196.4V217.3M689.5 202.6V206.9M689.5 207.2V210.1M690.5 190.6V222.6M690.5 216.6V224.6M690.5 185.6V204.8M690.5 206.6V210.1M690.5 205.2V209.1M691.5 202.9V213.6M691.5 203.2V209.0M691.5 199.8V203.8M691.5 201.7V203.9M691.5 187.2V208.4M692.5 191.1V218.1M692.5 193.3V195.9M692.5 210.9V214.0M692.5 198.0V203.5M692.5 203.2V207.4M693.5 202.6V212.8M693.5 210.1V217.3M693.5 198.3V205.5M693.5 209.0V214.7M693.5 204.2V211.7M694.5 204.2V225.7M694.5 204.4V217.3M694.5 201.2V207.0M694.5 196.6V214.5M694.5 207.6V216.8" stroke="#77AC30" stroke-width="0.9" stroke-dasharray="1.4 0.7" stroke-opacity="0.46" fill="none"/>
<polyline points="413.0,164.6 415.4,165.3 417.7,166.5 420.1,167.7 422.5,169.0 424.8,170.4 427.2,171.8 429.6,173.5 431.9,175.5 434.3,177.8 436.7,180.1 439.0,182.4 441.4,184.1 443.8,185.3 446.1,186.0 448.5,186.6 450.8,187.0 453.2,187.3 455.6,187.7 457.9,188.0 460.3,188.3 462.7,188.6 465.0,188.9 467.4,189.2 469.8,189.4 472.1,189.6 474.5,189.8 476.9,189.9 479.2,190.2 481.6,190.4 484.0,190.7 486.3,191.0 488.7,191.3 491.1,191.6 493.4,192.0 495.8,192.3 498.2,192.6 500.5,193.0 502.9,193.3 505.3,193.6 507.6,193.9 510.0,194.2 512.4,194.6 514.7,195.0 517.1,195.3 519.4,195.7 521.8,196.0 524.2,196.3 526.5,196.6 528.9,196.8 531.3,197.0 533.6,197.3 536.0,197.5 538.4,197.7 540.7,198.0 543.1,198.3 545.5,198.7 547.8,199.1 550.2,199.5 552.6,199.8 554.9,200.1 557.3,200.3 559.7,200.5 562.0,200.6 564.4,200.6 566.8,200.5 569.1,200.4 571.5,200.4 573.9,200.6 576.2,200.8 578.6,201.1 581.0,201.3 583.3,201.6 585.7,201.8 588.1,202.0 590.4,202.2 592.8,202.2 595.1,202.0 597.5,201.7 599.9,201.3 602.2,201.1 604.6,201.1 607.0,201.3 609.3,201.5 611.7,201.6 614.1,201.8 616.4,202.0 618.8,202.1 621.2,202.2 623.5,202.4 625.9,202.5 628.3,202.6 630.6,202.8 633.0,202.9 635.4,203.0 637.7,203.2 640.1,203.3 642.5,203.4 644.8,203.5 647.2,203.7 649.6,203.9 651.9,204.1 654.3,204.4 656.7,204.6 659.0,204.9 661.4,205.1 663.7,205.3 666.1,205.5 668.5,205.7 670.8,205.8 673.2,205.9 675.6,206.0 677.9,206.1 680.3,206.2 682.7,206.3 685.0,206.5 687.4,206.6 689.8,206.8 692.1,207.1 694.5,207.2" stroke="#77AC30" stroke-width="1.8" fill="none" stroke-linejoin="round"/>
<path d="M413.5 124.9V130.9M413.5 123.9V132.4M413.5 126.1V129.2M413.5 132.3V133.3M413.5 118.9V137.1M414.5 132.3V134.9M414.5 127.1V129.5M414.5 135.6V141.5M414.5 133.6V140.1M414.5 126.8V136.0M415.5 122.2V141.1M415.5 131.2V133.1M415.5 126.4V134.4M415.5 127.4V145.7M415.5 124.3V129.4M416.5 130.5V136.2M416.5 127.9V128.8M416.5 123.4V141.2M416.5 130.5V140.5M416.5 133.8V134.4M417.5 127.9V128.2M417.5 132.6V134.5M417.5 133.1V139.5M417.5 130.5V134.6M417.5 131.4V134.9M418.5 130.8V136.3M418.5 123.4V139.4M418.5 127.5V130.7M418.5 128.3V133.7M418.5 124.6V129.1M419.5 129.7V130.3M419.5 132.2V138.7M419.5 136.6V137.6M419.5 130.4V131.7M419.5 133.3V138.4M420.5 132.0V137.7M420.5 135.7V135.8M420.5 132.9V133.4M420.5 130.4V136.8M420.5 134.6V138.9M421.5 135.6V142.8M421.5 137.4V137.7M421.5 130.8V137.2M421.5 135.0V140.6M421.5 134.9V135.3M422.5 135.6V135.8M422.5 131.9V132.7M422.5 134.0V137.5M422.5 136.0V136.2M422.5 126.6V137.4M423.5 132.6V133.7M423.5 132.0V144.8M423.5 131.6V132.7M423.5 136.3V136.9M423.5 130.4V136.9M424.5 141.6V142.0M424.5 136.3V142.0M424.5 132.8V140.5M424.5 131.3V134.2M424.5 135.2V136.7M425.5 128.5V136.0M425.5 140.8V140.9M425.5 130.3V140.4M425.5 134.8V138.6M425.5 130.8V138.9M426.5 136.8V145.6M426.5 136.3V137.1M426.5 134.6V135.7M426.5 135.8V140.2M426.5 140.3V141.1M427.5 129.6V134.6M427.5 143.3V143.7M427.5 131.5V133.1M427.5 132.2V136.7M427.5 138.8V140.4M428.5 131.1V135.7M428.5 131.0V134.6M428.5 139.6V144.1M428.5 135.0V140.5M428.5 135.5V141.6M429.5 141.9V144.0M429.5 141.5V142.4M429.5 140.5V143.1M429.5 130.9V138.9M429.5 137.2V140.7M430.5 137.8V144.8M430.5 140.0V148.5M430.5 133.7V144.8M430.5 136.2V136.3M430.5 140.8V144.2M431.5 140.2V140.9M431.5 136.7V141.0M431.5 136.7V137.1M431.5 130.9V140.6M431.5 140.5V144.0M432.5 138.6V144.6M432.5 139.7V142.8M432.5 139.5V141.1M432.5 135.3V139.0M432.5 138.8V145.7M433.5 140.6V143.3M433.5 144.0V144.6M433.5 133.1V140.2M433.5 134.7V136.5M433.5 129.4V135.5M434.5 134.7V140.5M434.5 139.4V142.7M434.5 140.3V143.8M434.5 138.3V146.5M434.5 139.3V139.4M435.5 150.6V150.8M435.5 142.9V148.4M435.5 134.0V145.0M435.5 138.2V146.8M435.5 130.7V135.5M436.5 122.1V134.0M436.5 134.1V142.3M436.5 139.1V146.2M436.5 135.8V142.5M436.5 135.6V140.3M437.5 145.1V159.3M437.5 142.0V148.2M437.5 143.5V155.8M437.5 141.8V143.1M437.5 136.9V138.5M438.5 146.4V146.6M438.5 138.7V141.7M438.5 139.3V154.4M438.5 135.0V140.5M438.5 145.6V151.2M439.5 141.4V149.3M439.5 146.0V148.3M439.5 145.5V152.0M439.5 136.7V143.2M439.5 133.9V144.7M440.5 141.3V152.7M440.5 127.1V141.3M440.5 127.9V134.1M440.5 147.8V150.9M440.5 124.3V144.9M441.5 137.0V146.8M441.5 147.9V153.4M441.5 141.8V160.9M441.5 140.0V142.2M441.5 149.6V150.4M442.5 125.8V132.8M442.5 140.2V165.1M442.5 143.4V161.6M442.5 133.1V134.4M442.5 140.9V144.9M443.5 142.1V142.2M443.5 128.3V144.4M443.5 140.3V143.9M443.5 140.6V146.8M443.5 146.1V158.5M444.5 141.1V141.6M444.5 148.3V154.7M444.5 139.6V147.4M444.5 138.2V144.4M444.5 131.6V138.2M445.5 131.5V142.2M445.5 145.3V152.7M445.5 138.6V150.1M445.5 132.5V139.5M445.5 133.6V148.5M446.5 135.1V149.2M446.5 148.6V149.7M446.5 139.1V150.4M446.5 125.2V144.6M446.5 130.2V146.3M447.5 118.9V158.7M447.5 118.4V137.2M447.5 136.4V144.9M447.5 140.0V146.2M447.5 132.1V152.4M448.5 144.1V150.9M448.5 139.9V149.3M448.5 145.8V148.5M448.5 134.5V143.3M448.5 137.6V151.1M449.5 141.1V143.4M449.5 145.5V154.7M449.5 143.9V159.1M449.5 140.8V141.1M449.5 135.5V145.4M450.5 142.9V145.6M450.5 142.9V144.9M450.5 143.3V153.9M450.5 144.1V157.1M450.5 129.5V149.2M451.5 132.7V152.8M451.5 146.3V147.4M451.5 126.9V142.2M451.5 144.8V155.6M451.5 147.5V154.9M452.5 138.0V148.3M452.5 144.6V152.6M452.5 142.9V145.5M452.5 145.3V155.6M452.5 153.1V153.9M453.5 143.2V149.5M453.5 141.0V145.0M453.5 148.4V149.7M453.5 141.0V144.6M453.5 136.4V144.3M454.5 145.7V148.5M454.5 139.0V141.3M454.5 147.6V149.8M454.5 142.8V145.0M454.5 143.8V147.0M455.5 139.7V151.8M455.5 140.0V146.3M455.5 147.0V151.3M455.5 132.6V139.4M455.5 141.9V145.9M456.5 133.2V136.5M456.5 140.7V149.1M456.5 149.4V154.6M456.5 141.3V143.1M456.5 145.3V147.5M457.5 133.5V147.0M457.5 141.0V151.4M457.5 136.7V152.0M457.5 144.1V154.4M457.5 140.9V141.6M458.5 145.0V145.9M458.5 136.3V141.0M458.5 146.6V160.9M458.5 143.1V151.5M458.5 145.0V150.3M459.5 132.4V150.9M459.5 143.1V162.9M459.5 142.9V148.9M459.5 143.1V147.7M459.5 139.2V146.2M460.5 140.7V144.7M460.5 138.9V154.5M460.5 136.1V139.0M460.5 143.7V152.5M460.5 145.2V150.4M461.5 147.5V153.6M461.5 146.6V150.4M461.5 145.3V147.6M461.5 138.8V155.9M461.5 139.9V148.2M462.5 151.4V156.7M462.5 138.6V154.9M462.5 128.0V140.6M462.5 140.0V140.6M462.5 141.9V142.9M463.5 137.2V145.5M463.5 147.1V154.4M463.5 144.4V147.4M463.5 138.3V144.3M463.5 150.3V159.0M464.5 144.0V153.0M464.5 140.2V146.4M464.5 140.9V151.2M464.5 140.0V152.8M464.5 152.0V153.5M465.5 148.4V149.7M465.5 144.6V153.0M465.5 142.7V147.9M465.5 148.9V155.3M465.5 143.9V147.1M466.5 144.9V147.9M466.5 148.9V149.0M466.5 146.4V151.5M466.5 145.5V150.0M466.5 150.4V151.2M467.5 143.1V151.4M467.5 144.2V145.2M467.5 137.7V148.0M467.5 144.7V145.0M467.5 148.0V154.1M468.5 147.2V151.5M468.5 130.9V133.2M468.5 145.7V150.5M468.5 139.8V147.7M468.5 150.9V152.1M469.5 138.6V161.8M469.5 154.8V162.5M469.5 144.5V148.6M469.5 152.4V154.2M469.5 142.8V148.0M470.5 139.6V152.1M470.5 144.1V159.7M470.5 141.7V148.5M470.5 128.0V148.7M470.5 142.4V159.9M471.5 150.2V158.6M471.5 135.1V142.2M471.5 148.5V152.3M471.5 150.5V165.2M471.5 140.6V148.6M472.5 140.3V148.4M472.5 142.3V143.2M472.5 140.1V149.3M472.5 137.7V158.1M472.5 148.8V151.4M473.5 136.7V147.2M473.5 149.5V153.4M473.5 156.4V159.9M473.5 142.6V162.2M473.5 159.6V161.1M474.5 155.4V163.0M474.5 146.9V153.4M474.5 126.0V152.0M474.5 140.6V157.4M474.5 150.0V165.9M475.5 147.1V156.8M475.5 145.7V151.9M475.5 139.2V146.7M475.5 144.6V156.5M475.5 147.6V150.7M476.5 144.0V146.4M476.5 143.8V152.7M476.5 151.8V158.0M476.5 147.5V155.4M476.5 152.3V153.5M477.5 143.4V147.7M477.5 122.9V155.2M477.5 153.3V155.7M477.5 136.9V154.5M477.5 139.1V150.6M478.5 145.1V150.7M478.5 129.2V146.6M478.5 145.6V148.7M478.5 145.8V160.3M478.5 141.0V141.5M479.5 148.9V165.5M479.5 144.9V165.0M479.5 150.5V156.6M479.5 147.1V174.5M479.5 152.0V164.4M480.5 140.8V150.1M480.5 136.4V145.4M480.5 152.7V172.7M480.5 138.7V155.9M480.5 140.2V145.7M481.5 144.4V153.3M481.5 142.7V166.6M481.5 137.6V148.8M481.5 139.7V163.5M481.5 141.7V152.1M482.5 126.5V151.8M482.5 159.2V159.6M482.5 147.5V150.4M482.5 155.5V159.9M482.5 155.7V157.7M483.5 145.3V151.9M483.5 145.5V165.3M483.5 138.8V142.4M483.5 139.1V154.8M483.5 162.0V170.0M484.5 157.9V168.1M484.5 141.5V153.3M484.5 141.7V160.5M484.5 152.2V152.6M484.5 144.8V153.5M485.5 135.4V155.7M485.5 156.7V160.8M485.5 157.3V162.0M485.5 146.6V162.3M485.5 139.9V147.6M486.5 150.6V155.6M486.5 139.8V150.5M486.5 146.6V148.8M486.5 147.8V163.0M486.5 148.3V151.6M487.5 134.2V159.1M487.5 150.5V153.2M487.5 144.9V153.9M487.5 152.8V155.2M487.5 135.7V150.9M488.5 145.1V160.3M488.5 158.5V158.6M488.5 153.2V167.3M488.5 140.8V162.7M488.5 158.3V169.4M489.5 149.6V165.2M489.5 139.4V161.8M489.5 131.5V158.6M489.5 148.7V149.5M489.5 136.1V156.0M490.5 152.8V164.0M490.5 153.4V156.6M490.5 152.1V158.9M490.5 144.7V160.6M490.5 152.9V157.6M491.5 157.0V163.2M491.5 152.1V167.3M491.5 130.0V148.2M491.5 159.0V167.3M491.5 152.6V156.9M492.5 154.8V165.0M492.5 150.6V171.3M492.5 154.4V157.3M492.5 152.7V168.6M492.5 151.8V155.8M493.5 150.8V154.6M493.5 150.0V153.8M493.5 149.5V150.7M493.5 155.0V161.0M493.5 159.7V166.2M494.5 150.7V150.7M494.5 145.5V150.3M494.5 147.6V148.6M494.5 147.9V152.3M494.5 150.7V153.7M495.5 154.7V166.5M495.5 151.3V156.4M495.5 145.8V164.2M495.5 153.9V161.4M495.5 152.5V154.3M496.5 154.4V160.1M496.5 147.9V159.6M496.5 150.5V165.9M496.5 151.6V162.0M496.5 151.3V155.9M497.5 148.1V158.0M497.5 159.1V170.0M497.5 153.8V157.7M497.5 146.7V152.9M497.5 156.5V159.7M498.5 155.8V163.0M498.5 153.2V159.7M498.5 151.5V171.3M498.5 141.0V162.1M498.5 148.7V160.4M499.5 147.3V153.2M499.5 157.7V162.9M499.5 151.4V168.1M499.5 154.4V163.9M499.5 144.9V165.8M500.5 153.5V154.8M500.5 147.5V149.0M500.5 140.6V161.2M500.5 153.4V163.6M500.5 153.0V163.0M501.5 153.6V154.8M501.5 162.2V165.3M501.5 153.5V164.6M501.5 160.0V166.0M501.5 152.9V163.1M502.5 149.3V152.5M502.5 155.2V160.5M502.5 155.4V156.7M502.5 155.5V156.0M502.5 147.5V157.4M503.5 151.9V153.2M503.5 151.0V151.9M503.5 150.3V151.9M503.5 146.7V159.3M503.5 155.5V156.5M504.5 148.9V165.2M504.5 148.9V153.5M504.5 149.0V157.1M504.5 159.1V159.8M504.5 145.8V161.3M505.5 150.9V160.5M505.5 151.3V162.5M505.5 152.2V157.5M505.5 155.4V162.0M505.5 151.0V160.2M506.5 163.1V166.7M506.5 154.8V158.6M506.5 153.5V166.5M506.5 161.0V163.3M506.5 155.5V156.6M507.5 153.9V162.0M507.5 148.4V166.5M507.5 151.1V158.1M507.5 154.1V155.7M507.5 151.6V158.8M508.5 151.1V156.8M508.5 144.6V163.2M508.5 152.2V162.7M508.5 158.8V159.2M508.5 151.4V160.6M509.5 145.0V151.3M509.5 153.8V165.6M509.5 150.1V153.4M509.5 151.0V155.9M509.5 148.3V163.4M510.5 144.3V155.9M510.5 166.3V169.2M510.5 148.0V150.2M510.5 153.7V155.1M510.5 155.0V156.1M511.5 142.1V148.4M511.5 164.7V165.3M511.5 154.7V160.5M511.5 151.2V162.4M511.5 153.2V154.5M512.5 158.4V163.5M512.5 152.4V155.6M512.5 164.3V166.3M512.5 151.7V162.9M512.5 157.9V162.0M513.5 158.8V163.6M513.5 147.6V148.7M513.5 155.3V160.4M513.5 156.2V162.0M513.5 146.3V148.7M514.5 145.9V164.9M514.5 158.7V163.5M514.5 148.3V155.6M514.5 151.7V160.2M514.5 155.3V162.7M515.5 150.4V161.5M515.5 159.0V164.0M515.5 160.6V169.0M515.5 154.1V173.5M515.5 158.0V175.9M516.5 151.5V154.6M516.5 157.6V160.6M516.5 159.0V162.4M516.5 157.8V159.5M516.5 155.1V164.7M517.5 156.4V160.7M517.5 152.6V156.9M517.5 157.6V158.4M517.5 156.0V161.6M517.5 158.7V172.9M518.5 143.7V155.1M518.5 142.4V158.5M518.5 145.4V160.6M518.5 158.9V163.5M518.5 159.4V161.5M519.5 158.5V163.5M519.5 153.6V155.9M519.5 153.8V164.2M519.5 150.4V156.4M519.5 149.6V153.3M520.5 157.5V166.9M520.5 155.7V158.7M520.5 151.1V170.2M520.5 151.2V169.0M520.5 157.9V167.7M521.5 149.3V156.8M521.5 159.3V166.3M521.5 149.3V152.8M521.5 153.1V165.5M521.5 154.9V156.6M522.5 147.7V155.6M522.5 151.4V162.9M522.5 153.8V171.4M522.5 155.5V161.1M522.5 152.5V157.9M523.5 165.1V172.0M523.5 152.0V152.9M523.5 149.1V159.1M523.5 150.8V158.6M523.5 153.2V164.1M524.5 154.8V169.9M524.5 157.9V165.0M524.5 157.8V170.0M524.5 156.0V159.2M524.5 153.2V157.0M525.5 150.0V171.5M525.5 165.0V168.9M525.5 157.0V159.4M525.5 165.9V168.1M525.5 148.3V159.9M526.5 159.0V165.6M526.5 150.8V158.5M526.5 152.9V156.9M526.5 151.0V157.0M526.5 160.7V160.8M527.5 144.7V149.1M527.5 157.8V167.6M527.5 157.0V163.8M527.5 160.8V161.5M527.5 150.9V168.6M528.5 146.5V170.2M528.5 153.3V170.5M528.5 155.3V166.9M528.5 158.9V162.8M528.5 159.4V162.4M529.5 160.7V165.1M529.5 155.2V159.3M529.5 153.0V163.8M529.5 161.6V166.8M529.5 160.0V166.3M530.5 161.4V171.1M530.5 162.4V164.9M530.5 162.0V165.1M530.5 162.4V169.0M530.5 160.7V166.9M531.5 154.1V158.2M531.5 157.5V170.0M531.5 153.1V161.8M531.5 155.7V161.6M531.5 160.7V171.7M532.5 162.4V163.4M532.5 141.5V144.4M532.5 153.1V164.1M532.5 148.0V172.5M532.5 160.8V176.7M533.5 147.4V158.0M533.5 150.7V162.8M533.5 161.6V163.9M533.5 159.2V159.7M533.5 171.7V172.5M534.5 160.7V164.8M534.5 152.2V172.7M534.5 160.1V163.9M534.5 160.6V164.7M534.5 150.6V165.9M535.5 142.7V155.5M535.5 158.7V166.7M535.5 168.8V169.9M535.5 153.5V162.9M535.5 150.8V158.5M536.5 156.1V167.6M536.5 155.4V160.4M536.5 162.5V164.7M536.5 155.7V163.8M536.5 164.0V171.1M537.5 156.2V165.4M537.5 157.6V163.3M537.5 154.8V164.0M537.5 160.7V162.9M537.5 154.3V155.4M538.5 159.4V169.9M538.5 158.8V162.2M538.5 156.2V161.2M538.5 148.9V163.7M538.5 158.7V162.3M539.5 154.8V162.6M539.5 157.9V162.1M539.5 153.6V164.6M539.5 157.7V160.1M539.5 148.8V158.8M540.5 159.9V162.5M540.5 159.6V164.8M540.5 158.0V161.2M540.5 155.8V166.1M540.5 157.9V159.4M541.5 158.6V167.5M541.5 166.1V169.1M541.5 151.9V156.6M541.5 160.5V162.2M541.5 145.6V173.7M542.5 151.8V160.9M542.5 155.6V165.4M542.5 163.8V165.0M542.5 158.6V165.0M542.5 150.5V157.5M543.5 158.8V161.7M543.5 156.1V164.3M543.5 163.4V168.9M543.5 156.4V174.5M543.5 152.8V163.7M544.5 156.8V157.2M544.5 155.3V156.4M544.5 165.9V170.1M544.5 155.6V162.7M544.5 167.8V169.0M545.5 159.6V160.2M545.5 159.6V166.3M545.5 158.3V160.5M545.5 160.4V166.0M545.5 151.8V160.4M546.5 165.5V168.4M546.5 168.5V170.0M546.5 152.3V167.0M546.5 163.6V165.7M546.5 164.1V167.1M547.5 163.7V165.5M547.5 159.8V164.2M547.5 157.3V174.6M547.5 155.9V168.2M547.5 154.7V168.9M548.5 156.0V168.6M548.5 153.4V174.2M548.5 153.5V165.3M548.5 150.4V157.1M548.5 158.0V168.1M549.5 161.0V174.0M549.5 166.5V167.3M549.5 149.8V152.9M549.5 158.9V166.1M549.5 156.1V166.8M550.5 153.6V162.8M550.5 140.0V154.0M550.5 155.2V165.0M550.5 164.5V167.0M550.5 170.5V173.8M551.5 152.6V176.9M551.5 164.1V170.9M551.5 149.1V155.6M551.5 159.4V162.3M551.5 151.3V151.4M552.5 156.3V170.8M552.5 160.1V176.9M552.5 155.2V155.9M552.5 159.3V173.7M552.5 154.5V158.2M553.5 163.2V165.2M553.5 153.5V161.6M553.5 152.4V155.7M553.5 154.0V158.3M553.5 156.4V175.1M554.5 159.8V162.0M554.5 159.7V167.0M554.5 161.7V166.1M554.5 165.2V175.0M554.5 157.2V169.5M555.5 160.3V163.9M555.5 152.1V160.3M555.5 160.9V171.6M555.5 149.9V169.5M555.5 157.5V161.3M556.5 161.6V172.3M556.5 159.1V160.4M556.5 160.9V161.3M556.5 162.8V168.9M556.5 149.4V170.4M557.5 153.2V166.4M557.5 152.2V154.5M557.5 161.6V173.5M557.5 160.6V162.4M557.5 142.5V178.3M558.5 164.5V172.0M558.5 166.4V176.3M558.5 158.0V162.6M558.5 169.6V179.7M558.5 164.9V165.2M559.5 153.6V162.9M559.5 160.4V162.8M559.5 160.6V175.3M559.5 161.7V169.9M559.5 151.0V165.8M560.5 156.7V174.5M560.5 141.7V157.8M560.5 163.1V165.8M560.5 152.7V160.4M560.5 155.2V165.1M561.5 147.0V162.5M561.5 159.0V174.5M561.5 162.9V177.7M561.5 158.6V169.5M561.5 154.1V158.3M562.5 166.0V168.2M562.5 134.0V157.8M562.5 141.3V145.8M562.5 158.6V160.3M562.5 158.0V167.9M563.5 163.5V164.6M563.5 160.7V166.0M563.5 160.4V166.6M563.5 158.0V169.2M563.5 156.4V167.9M564.5 164.5V166.0M564.5 154.4V170.1M564.5 157.7V162.6M564.5 162.5V169.5M564.5 157.3V158.9M565.5 159.3V164.1M565.5 158.7V164.0M565.5 158.0V160.2M565.5 158.1V159.3M565.5 165.2V166.1M566.5 155.6V165.6M566.5 157.7V160.9M566.5 164.4V166.4M566.5 159.0V160.9M566.5 165.9V166.6M567.5 162.3V166.7M567.5 157.5V163.1M567.5 157.1V168.9M567.5 157.7V161.9M567.5 159.7V160.3M568.5 161.8V162.1M568.5 162.8V163.0M568.5 161.6V165.0M568.5 158.1V164.7M568.5 162.1V164.1M569.5 163.3V166.5M569.5 160.3V162.2M569.5 162.9V166.7M569.5 155.8V159.6M569.5 157.9V164.3M570.5 159.8V160.9M570.5 160.7V165.9M570.5 160.7V161.8M570.5 157.8V163.6M570.5 160.9V161.1M571.5 158.9V171.3M571.5 150.6V166.0M571.5 154.9V156.8M571.5 158.5V167.4M571.5 163.7V163.7M572.5 156.7V161.1M572.5 162.7V165.6M572.5 155.5V160.7M572.5 161.3V162.2M572.5 156.7V168.1M573.5 166.6V170.0M573.5 155.6V174.0M573.5 164.5V167.2M573.5 164.5V170.5M573.5 157.9V160.7M574.5 155.7V162.6M574.5 160.2V167.7M574.5 160.0V168.2M574.5 162.3V162.4M574.5 160.6V162.9M575.5 155.6V161.5M575.5 160.9V162.3M575.5 162.8V165.5M575.5 149.8V165.9M575.5 158.5V160.4M576.5 152.4V177.7M576.5 160.2V169.7M576.5 162.3V164.5M576.5 151.9V153.9M576.5 162.0V171.0M577.5 150.8V163.0M577.5 158.3V176.5M577.5 162.5V163.6M577.5 149.1V174.2M577.5 156.9V165.2M578.5 165.5V181.4M578.5 157.3V173.0M578.5 163.1V177.0M578.5 154.3V158.8M578.5 161.8V180.3M579.5 158.1V165.1M579.5 162.7V172.5M579.5 151.3V152.7M579.5 162.5V165.9M579.5 152.9V156.9M580.5 159.7V174.6M580.5 160.5V172.4M580.5 153.5V166.3M580.5 158.7V164.6M580.5 157.5V171.9M581.5 154.6V170.1M581.5 157.0V163.8M581.5 159.2V165.0M581.5 156.6V177.6M581.5 166.1V168.6M582.5 164.9V172.5M582.5 157.1V163.8M582.5 147.5V158.0M582.5 144.0V159.5M582.5 161.9V162.8M583.5 155.2V170.0M583.5 159.3V174.7M583.5 162.6V170.7M583.5 161.6V165.1M583.5 141.4V150.3M584.5 165.7V170.7M584.5 157.1V162.0M584.5 161.0V172.3M584.5 149.7V162.9M584.5 164.0V165.4M585.5 157.4V161.7M585.5 159.4V166.3M585.5 154.3V173.0M585.5 160.7V162.1M585.5 162.2V167.7M586.5 162.6V166.3M586.5 161.7V178.7M586.5 166.5V168.4M586.5 160.2V164.0M586.5 152.5V162.1M587.5 155.5V172.3M587.5 150.9V160.1M587.5 181.9V184.6M587.5 164.3V169.5M587.5 161.7V170.8M588.5 157.0V175.8M588.5 159.8V168.5M588.5 159.8V167.5M588.5 167.7V169.2M588.5 160.8V163.7M589.5 151.8V156.2M589.5 158.3V174.1M589.5 159.7V172.5M589.5 165.5V166.5M589.5 164.0V171.7M590.5 162.4V167.3M590.5 170.2V173.6M590.5 163.5V171.8M590.5 161.5V162.2M590.5 162.7V167.7M591.5 155.6V157.9M591.5 151.1V156.5M591.5 159.8V163.9M591.5 168.7V172.3M591.5 156.8V164.7M592.5 159.0V165.3M592.5 157.5V164.4M592.5 160.6V166.5M592.5 161.2V173.0M592.5 166.4V169.2M593.5 160.3V162.9M593.5 163.8V175.4M593.5 164.2V169.0M593.5 160.4V178.0M593.5 152.5V181.2M594.5 149.6V161.9M594.5 143.9V150.1M594.5 147.7V163.0M594.5 152.0V171.8M594.5 143.4V157.5M595.5 158.7V162.4M595.5 156.3V161.8M595.5 170.2V175.6M595.5 140.3V160.7M595.5 148.6V173.9M596.5 155.1V159.4M596.5 152.2V159.1M596.5 158.4V174.2M596.5 164.5V167.0M596.5 164.6V174.3M597.5 164.8V169.3M597.5 160.2V162.2M597.5 164.3V172.1M597.5 149.1V174.3M597.5 148.9V160.3M598.5 161.5V161.5M598.5 161.9V174.5M598.5 156.8V170.3M598.5 151.7V178.2M598.5 158.8V160.4M599.5 151.9V160.1M599.5 162.7V168.3M599.5 150.7V161.5M599.5 144.1V166.1M599.5 165.4V174.8M600.5 153.2V163.9M600.5 136.4V161.1M600.5 159.1V160.4M600.5 162.4V162.8M600.5 156.3V169.6M601.5 158.8V164.9M601.5 154.3V177.0M601.5 162.4V166.2M601.5 171.3V181.8M601.5 145.9V154.9M602.5 154.1V174.9M602.5 163.8V167.0M602.5 155.0V171.7M602.5 151.2V159.4M602.5 169.5V173.1M603.5 154.4V170.8M603.5 166.1V188.5M603.5 174.7V175.8M603.5 155.8V157.8M603.5 151.3V174.4M604.5 134.3V158.0M604.5 157.1V177.1M604.5 154.1V158.2M604.5 161.1V176.8M604.5 144.5V202.2M605.5 151.5V163.2M605.5 150.4V168.4M605.5 150.7V170.1M605.5 160.6V168.6M605.5 157.5V168.3M606.5 151.5V168.4M606.5 170.3V181.7M606.5 162.0V166.6M606.5 140.6V171.3M606.5 148.8V169.7M607.5 155.8V175.3M607.5 152.2V153.2M607.5 136.0V155.9M607.5 154.9V162.3M607.5 147.7V161.1M608.5 143.9V171.0M608.5 158.0V171.2M608.5 159.3V159.4M608.5 163.9V172.1M608.5 172.8V174.1M609.5 141.4V156.7M609.5 176.9V189.0M609.5 155.6V174.8M609.5 162.2V167.1M609.5 172.8V186.6M610.5 155.9V173.1M610.5 137.3V160.4M610.5 158.2V166.3M610.5 166.4V182.3M610.5 163.5V177.7M611.5 152.5V167.0M611.5 156.2V170.9M611.5 154.9V161.9M611.5 161.8V172.7M611.5 147.6V160.1M612.5 169.7V175.7M612.5 155.9V169.6M612.5 152.1V178.2M612.5 148.7V166.6M612.5 155.8V157.7M613.5 151.8V162.1M613.5 159.7V184.6M613.5 159.3V163.0M613.5 154.7V161.9M613.5 155.9V158.1M614.5 153.1V161.5M614.5 147.4V163.9M614.5 154.7V186.5M614.5 153.1V160.1M614.5 153.2V156.1M615.5 151.3V171.5M615.5 162.9V166.7M615.5 163.8V176.3M615.5 157.7V164.1M615.5 148.6V167.5M616.5 169.4V170.6M616.5 153.3V165.7M616.5 160.2V173.2M616.5 160.9V162.6M616.5 157.8V170.2M617.5 162.6V163.7M617.5 169.3V178.5M617.5 163.3V168.8M617.5 165.8V169.1M617.5 162.9V170.7M618.5 163.9V166.6M618.5 156.0V159.2M618.5 157.3V180.7M618.5 161.7V174.3M618.5 157.0V170.1M619.5 155.4V163.3M619.5 170.9V181.9M619.5 159.8V169.6M619.5 169.5V171.7M619.5 163.4V167.7M620.5 171.3V178.8M620.5 161.0V165.5M620.5 166.9V175.2M620.5 151.8V154.6M620.5 163.5V165.1M621.5 161.6V163.2M621.5 164.9V174.0M621.5 159.0V181.2M621.5 156.0V170.8M621.5 149.1V160.9M622.5 159.4V172.3M622.5 168.7V172.0M622.5 148.6V170.0M622.5 165.6V178.8M622.5 153.8V165.2M623.5 154.9V167.1M623.5 155.4V158.3M623.5 152.0V174.4M623.5 161.9V175.1M623.5 164.3V172.6M624.5 165.6V167.4M624.5 161.0V172.3M624.5 162.8V164.7M624.5 153.5V167.2M624.5 165.7V168.4M625.5 157.1V181.9M625.5 171.3V173.5M625.5 165.9V169.0M625.5 161.2V177.6M625.5 161.7V163.6M626.5 161.2V165.2M626.5 170.6V179.2M626.5 132.1V153.8M626.5 160.2V178.6M626.5 162.8V164.9M627.5 175.4V177.4M627.5 170.7V178.1M627.5 162.7V166.5M627.5 172.5V176.5M627.5 165.7V168.6M628.5 157.2V169.8M628.5 141.6V157.1M628.5 166.0V167.6M628.5 160.6V164.5M628.5 148.7V173.2M629.5 155.5V170.1M629.5 159.6V169.6M629.5 140.5V185.9M629.5 165.1V169.4M629.5 152.5V183.4M630.5 149.7V169.0M630.5 157.5V180.5M630.5 159.4V166.2M630.5 150.2V181.3M630.5 157.7V175.7M631.5 163.9V179.7M631.5 169.7V173.9M631.5 171.3V180.0M631.5 158.6V170.8M631.5 161.5V173.3M632.5 160.5V178.4M632.5 157.3V171.1M632.5 156.1V172.0M632.5 156.1V171.8M632.5 164.3V172.4M633.5 164.2V174.2M633.5 158.0V168.0M633.5 166.2V170.4M633.5 164.7V169.7M633.5 163.9V171.9M634.5 168.4V172.8M634.5 168.8V169.4M634.5 156.3V165.7M634.5 151.7V174.3M634.5 160.6V163.8M635.5 161.7V172.4M635.5 163.7V165.6M635.5 161.9V172.2M635.5 167.4V168.6M635.5 162.6V166.2M636.5 161.7V165.9M636.5 161.2V166.8M636.5 166.5V168.0M636.5 165.3V175.0M636.5 145.2V166.8M637.5 156.1V162.9M637.5 159.2V162.3M637.5 160.6V164.4M637.5 152.7V165.7M637.5 167.9V168.4M638.5 157.2V165.0M638.5 159.6V163.1M638.5 162.3V173.2M638.5 156.8V171.8M638.5 158.3V167.7M639.5 153.8V174.8M639.5 165.4V169.5M639.5 157.2V171.5M639.5 155.4V166.8M639.5 149.7V175.8M640.5 157.4V176.1M640.5 152.2V166.2M640.5 172.6V177.2M640.5 149.0V173.9M640.5 155.8V168.1M641.5 166.8V170.6M641.5 157.1V168.5M641.5 171.7V175.1M641.5 154.4V164.9M641.5 161.1V172.4M642.5 164.1V164.4M642.5 151.6V152.3M642.5 155.7V161.3M642.5 159.2V175.8M642.5 155.0V173.6M643.5 149.7V171.4M643.5 153.5V166.9M643.5 160.9V171.1M643.5 161.8V162.6M643.5 157.4V179.2M644.5 167.6V170.7M644.5 165.5V171.8M644.5 148.1V173.1M644.5 161.5V171.4M644.5 158.0V167.2M645.5 162.2V166.8M645.5 165.6V176.7M645.5 153.8V186.1M645.5 150.6V155.5M645.5 163.8V166.3M646.5 164.5V168.2M646.5 172.3V201.8M646.5 155.0V166.5M646.5 157.5V161.2M646.5 168.4V176.5M647.5 158.7V177.2M647.5 161.5V172.8M647.5 147.9V163.5M647.5 159.8V166.2M647.5 157.5V163.4M648.5 155.8V163.8M648.5 151.1V168.9M648.5 150.0V151.9M648.5 171.4V173.8M648.5 146.6V168.3M649.5 168.6V177.8M649.5 170.5V184.2M649.5 157.7V157.7M649.5 146.8V173.5M649.5 159.7V162.3M650.5 160.1V175.9M650.5 150.8V162.5M650.5 173.3V177.9M650.5 169.7V171.8M650.5 168.6V172.2M651.5 168.8V171.4M651.5 157.3V157.4M651.5 158.8V171.1M651.5 150.8V165.1M651.5 159.8V162.5M652.5 166.3V178.2M652.5 165.9V176.5M652.5 159.0V184.7M652.5 168.9V177.9M652.5 164.4V164.9M653.5 160.0V174.6M653.5 171.2V175.1M653.5 164.0V164.4M653.5 166.2V166.9M653.5 159.1V176.5M654.5 157.9V168.5M654.5 163.5V173.4M654.5 165.1V167.9M654.5 159.1V170.5M654.5 162.6V175.6M655.5 141.0V159.8M655.5 160.6V185.2M655.5 164.8V173.7M655.5 146.4V166.8M655.5 170.4V179.4M656.5 163.8V179.4M656.5 170.8V175.4M656.5 177.5V178.4M656.5 167.9V183.2M656.5 166.5V167.9M657.5 159.2V164.2M657.5 159.7V166.1M657.5 165.0V183.5M657.5 164.2V176.4M657.5 165.7V175.5M658.5 153.4V164.7M658.5 158.2V171.1M658.5 162.2V176.7M658.5 166.3V170.3M658.5 168.5V168.8M659.5 161.6V175.0M659.5 159.2V159.8M659.5 157.0V166.2M659.5 168.7V174.6M659.5 153.2V174.2M660.5 166.6V167.9M660.5 164.6V167.7M660.5 164.2V176.4M660.5 168.3V171.2M660.5 167.5V171.3M661.5 159.8V170.6M661.5 162.8V164.3M661.5 157.7V167.3M661.5 162.8V166.3M661.5 163.2V176.1M662.5 159.9V170.4M662.5 160.5V169.9M662.5 165.2V169.1M662.5 157.6V159.1M662.5 159.5V161.1M663.5 158.1V169.3M663.5 169.2V171.2M663.5 158.4V164.7M663.5 163.0V163.8M663.5 169.8V171.3M664.5 163.9V166.0M664.5 165.1V167.0M664.5 162.5V163.5M664.5 160.3V162.9M664.5 161.3V172.0M665.5 168.5V172.0M665.5 163.9V164.6M665.5 164.3V167.0M665.5 165.1V169.2M665.5 163.2V163.7M666.5 161.8V166.1M666.5 160.5V161.4M666.5 153.7V159.5M666.5 156.2V170.7M666.5 161.0V168.7M667.5 146.5V170.2M667.5 164.1V168.9M667.5 160.0V166.0M667.5 159.5V161.8M667.5 166.3V170.8M668.5 158.6V168.6M668.5 163.1V178.1M668.5 164.7V170.1M668.5 161.8V163.1M668.5 162.2V169.2M669.5 165.6V168.0M669.5 158.1V175.6M669.5 164.8V169.3M669.5 159.1V173.2M669.5 167.2V173.0M670.5 156.3V163.8M670.5 166.1V175.7M670.5 160.8V167.9M670.5 162.9V174.1M670.5 159.8V163.4M671.5 141.9V164.5M671.5 154.9V165.4M671.5 161.1V165.7M671.5 173.3V175.8M671.5 151.3V176.5M672.5 158.9V162.5M672.5 165.0V176.9M672.5 155.7V159.4M672.5 161.8V171.2M672.5 156.6V158.3M673.5 165.1V167.7M673.5 160.3V170.4M673.5 144.0V172.6M673.5 160.7V165.8M673.5 160.7V172.3M674.5 163.8V169.0M674.5 174.2V179.6M674.5 163.8V166.0M674.5 179.8V185.9M674.5 155.0V165.9M675.5 175.4V183.4M675.5 132.1V180.5M675.5 156.0V183.6M675.5 176.0V183.0M675.5 166.2V170.5M676.5 170.6V179.4M676.5 163.9V167.1M676.5 154.4V159.5M676.5 150.4V155.7M676.5 163.3V163.5M677.5 174.6V176.1M677.5 154.0V156.4M677.5 162.6V189.2M677.5 156.9V161.5M677.5 159.4V170.1M678.5 151.1V179.3M678.5 160.2V166.1M678.5 143.4V205.8M678.5 149.2V170.9M678.5 167.1V168.9M679.5 170.8V178.4M679.5 160.3V169.6M679.5 150.9V186.4M679.5 174.7V177.1M679.5 169.5V172.7M680.5 156.4V171.6M680.5 156.1V169.9M680.5 143.6V175.6M680.5 165.7V173.5M680.5 161.3V165.8M681.5 174.1V178.3M681.5 174.1V180.2M681.5 171.1V181.5M681.5 152.1V188.9M681.5 169.4V176.2M682.5 176.8V181.5M682.5 160.8V161.8M682.5 169.3V182.6M682.5 157.0V169.8M682.5 160.7V169.6M683.5 158.4V173.9M683.5 156.0V162.5M683.5 162.1V165.6M683.5 164.4V171.5M683.5 164.1V165.8M684.5 155.3V174.2M684.5 158.4V160.3M684.5 169.4V179.0M684.5 162.0V162.8M684.5 163.5V177.7M685.5 158.3V163.3M685.5 167.0V182.5M685.5 166.0V174.9M685.5 157.6V166.4M685.5 146.4V166.4M686.5 152.8V158.2M686.5 153.8V166.1M686.5 158.9V183.0M686.5 161.4V166.2M686.5 162.4V168.0M687.5 151.1V179.6M687.5 166.4V177.7M687.5 165.4V179.3M687.5 161.2V196.7M687.5 167.5V172.9M688.5 148.7V168.1M688.5 160.9V170.3M688.5 161.9V178.8M688.5 159.2V182.0M688.5 159.1V159.5M689.5 154.4V164.2M689.5 170.0V173.8M689.5 162.7V168.6M689.5 161.0V169.2M689.5 161.1V168.4M690.5 166.9V167.0M690.5 172.3V176.2M690.5 167.9V170.9M690.5 177.7V185.2M690.5 155.4V179.0M691.5 164.5V168.7M691.5 171.1V171.7M691.5 165.5V169.2M691.5 154.6V161.2M691.5 156.9V169.2M692.5 155.5V179.1M692.5 154.9V170.4M692.5 150.9V176.7M692.5 154.8V164.4M692.5 169.7V174.0M693.5 164.5V169.3M693.5 162.6V179.1M693.5 156.5V157.9M693.5 168.2V177.0M693.5 154.9V165.0M694.5 163.6V178.1M694.5 161.5V163.7M694.5 160.6V174.4M694.5 164.9V165.5M694.5 161.8V176.2" stroke="#7E2F8E" stroke-width="0.9" stroke-dasharray="1.4 0.7" stroke-opacity="0.46" fill="none"/>
<polyline points="413.0,131.9 415.4,132.4 417.7,133.1 420.1,133.9 422.5,134.9 424.8,136.1 427.2,137.4 429.6,138.5 431.9,139.5 434.3,140.3 436.7,141.0 439.0,141.6 441.4,142.1 443.8,142.4 446.1,142.8 448.5,143.2 450.8,143.8 453.2,144.4 455.6,144.9 457.9,145.5 460.3,146.1 462.7,146.7 465.0,147.2 467.4,147.8 469.8,148.4 472.1,149.0 474.5,149.6 476.9,150.2 479.2,150.7 481.6,151.2 484.0,151.7 486.3,152.2 488.7,152.7 491.1,153.2 493.4,153.7 495.8,154.1 498.2,154.6 500.5,155.0 502.9,155.3 505.3,155.5 507.6,155.7 510.0,156.0 512.4,156.4 514.7,156.8 517.1,157.3 519.4,157.8 521.8,158.2 524.2,158.7 526.5,159.2 528.9,159.7 531.3,160.1 533.6,160.5 536.0,160.7 538.4,160.9 540.7,161.1 543.1,161.3 545.5,161.5 547.8,161.6 550.2,161.7 552.6,161.7 554.9,161.8 557.3,161.8 559.7,161.8 562.0,161.7 564.4,161.5 566.8,161.2 569.1,161.0 571.5,160.9 573.9,161.1 576.2,161.5 578.6,161.9 581.0,162.2 583.3,162.5 585.7,162.8 588.1,163.0 590.4,163.2 592.8,163.3 595.1,163.2 597.5,163.1 599.9,163.0 602.2,163.0 604.6,163.2 607.0,163.6 609.3,164.1 611.7,164.5 614.1,164.9 616.4,165.1 618.8,165.2 621.2,165.3 623.5,165.4 625.9,165.4 628.3,165.3 630.6,165.1 633.0,165.0 635.4,165.0 637.7,165.1 640.1,165.2 642.5,165.4 644.8,165.4 647.2,165.4 649.6,165.2 651.9,165.1 654.3,165.0 656.7,165.0 659.0,165.1 661.4,165.2 663.7,165.4 666.1,165.5 668.5,165.7 670.8,166.0 673.2,166.2 675.6,166.4 677.9,166.6 680.3,166.7 682.7,166.8 685.0,166.9 687.4,167.1 689.8,167.2 692.1,167.5 694.5,167.6" stroke="#7E2F8E" stroke-width="1.8" fill="none" stroke-linejoin="round"/>
<path d="M413.5 79.2V92.0M413.5 81.9V97.2M413.5 93.7V104.0M413.5 74.6V100.6M413.5 79.5V98.7M414.5 89.1V89.5M414.5 83.1V87.8M414.5 83.5V97.0M414.5 97.2V111.4M414.5 84.0V89.4M415.5 91.7V92.6M415.5 86.6V86.7M415.5 85.4V94.0M415.5 91.3V96.7M415.5 82.4V104.2M416.5 79.7V92.0M416.5 85.2V85.9M416.5 86.9V92.1M416.5 93.2V96.6M416.5 95.2V96.8M417.5 95.5V99.3M417.5 86.0V91.1M417.5 97.3V102.5M417.5 86.6V87.3M417.5 101.0V115.6M418.5 91.3V95.5M418.5 96.4V103.2M418.5 91.6V111.7M418.5 98.1V98.6M418.5 89.7V104.8M419.5 82.5V92.7M419.5 85.0V92.6M419.5 91.6V99.8M419.5 93.6V108.6M419.5 91.8V92.0M420.5 85.2V89.6M420.5 98.0V110.5M420.5 86.9V108.6M420.5 80.7V95.7M420.5 98.9V99.5M421.5 90.1V95.2M421.5 87.1V97.1M421.5 87.6V101.1M421.5 94.1V99.5M421.5 90.0V94.2M422.5 90.7V95.1M422.5 94.8V101.2M422.5 88.7V91.7M422.5 87.3V96.4M422.5 77.5V97.0M423.5 90.8V105.1M423.5 92.4V93.0M423.5 84.8V91.7M423.5 89.4V90.1M423.5 93.7V97.0M424.5 87.8V96.2M424.5 91.4V96.6M424.5 92.7V106.5M424.5 89.6V90.8M424.5 92.7V94.1M425.5 87.5V87.9M425.5 96.0V104.9M425.5 94.3V94.5M425.5 79.2V98.7M425.5 84.6V99.7M426.5 86.8V93.4M426.5 87.2V104.7M426.5 85.7V90.3M426.5 95.0V102.9M426.5 90.2V98.9M427.5 80.5V96.0M427.5 97.7V105.9M427.5 78.7V94.5M427.5 91.9V99.6M427.5 88.0V97.8M428.5 95.5V103.8M428.5 94.3V97.6M428.5 97.3V104.4M428.5 98.0V106.0M428.5 96.6V98.4M429.5 86.5V88.9M429.5 103.0V107.3M429.5 86.6V92.9M429.5 91.0V102.5M429.5 84.7V93.5M430.5 90.1V97.3M430.5 99.5V104.0M430.5 86.3V101.2M430.5 102.9V103.7M430.5 92.2V94.3M431.5 93.2V94.4M431.5 95.6V98.1M431.5 92.1V105.1M431.5 92.1V93.1M431.5 85.5V89.4M432.5 97.2V98.5M432.5 83.9V96.0M432.5 87.0V104.8M432.5 88.7V98.7M432.5 95.3V105.6M433.5 91.7V99.0M433.5 84.3V105.3M433.5 89.1V105.4M433.5 91.7V92.0M433.5 94.3V103.7M434.5 92.5V103.9M434.5 100.5V103.2M434.5 96.5V106.3M434.5 93.1V95.3M434.5 84.3V94.2M435.5 87.7V90.2M435.5 98.8V100.5M435.5 97.1V102.3M435.5 84.5V106.2M435.5 96.7V106.1M436.5 89.8V99.6M436.5 96.5V102.8M436.5 80.7V102.6M436.5 91.1V94.5M436.5 99.3V99.6M437.5 92.4V92.8M437.5 91.0V100.0M437.5 95.0V100.3M437.5 102.2V104.7M437.5 99.2V109.1M438.5 84.3V94.6M438.5 96.8V106.9M438.5 97.0V106.3M438.5 90.4V92.5M438.5 96.9V113.9M439.5 100.2V100.7M439.5 97.3V103.5M439.5 96.9V102.3M439.5 99.3V102.7M439.5 103.6V106.4M440.5 96.1V110.3M440.5 96.9V110.5M440.5 93.1V96.5M440.5 96.3V96.4M440.5 95.1V103.2M441.5 94.3V103.9M441.5 87.1V89.6M441.5 92.9V105.7M441.5 87.0V98.6M441.5 94.9V105.3M442.5 98.3V100.0M442.5 92.1V101.8M442.5 97.1V100.8M442.5 94.7V95.0M442.5 99.5V103.7M443.5 95.4V107.3M443.5 100.2V110.4M443.5 96.0V99.5M443.5 96.9V114.5M443.5 94.5V98.3M444.5 101.2V117.4M444.5 102.6V107.0M444.5 92.5V92.8M444.5 96.4V110.0M444.5 99.7V109.0M445.5 106.5V117.2M445.5 98.6V117.9M445.5 91.0V98.0M445.5 98.6V103.4M445.5 104.6V104.9M446.5 104.9V105.3M446.5 97.2V102.7M446.5 97.6V105.0M446.5 105.3V111.4M446.5 97.8V103.9M447.5 102.4V106.2M447.5 95.8V103.0M447.5 87.5V96.3M447.5 91.0V96.6M447.5 95.2V105.2M448.5 101.4V101.6M448.5 98.3V99.3M448.5 103.2V107.9M448.5 99.6V109.0M448.5 101.6V107.4M449.5 92.5V102.9M449.5 84.8V99.0M449.5 101.0V112.6M449.5 103.2V112.0M449.5 98.5V113.2M450.5 103.2V105.8M450.5 99.1V101.5M450.5 106.4V111.1M450.5 103.7V105.5M450.5 99.0V102.9M451.5 101.9V108.1M451.5 102.8V104.1M451.5 103.6V108.3M451.5 97.9V106.3M451.5 86.5V92.9M452.5 95.3V117.7M452.5 96.0V105.5M452.5 97.0V110.8M452.5 100.5V102.8M452.5 100.8V113.2M453.5 95.0V102.5M453.5 95.4V107.9M453.5 87.7V103.7M453.5 99.1V108.7M453.5 93.7V106.4M454.5 97.0V105.9M454.5 100.6V112.7M454.5 89.4V105.0M454.5 105.0V114.2M454.5 93.5V110.0M455.5 97.0V106.5M455.5 98.1V98.7M455.5 93.5V100.3M455.5 104.1V104.7M455.5 102.1V102.8M456.5 88.0V100.8M456.5 99.9V108.7M456.5 94.1V113.6M456.5 96.7V100.7M456.5 100.0V110.5M457.5 101.1V105.2M457.5 88.4V100.4M457.5 94.8V99.7M457.5 99.2V121.1M457.5 106.4V106.9M458.5 104.1V105.6M458.5 89.6V115.8M458.5 85.7V109.4M458.5 101.2V115.4M458.5 89.6V107.8M459.5 93.7V118.1M459.5 86.8V92.5M459.5 99.0V105.6M459.5 91.1V104.0M459.5 117.0V117.8M460.5 93.3V94.8M460.5 103.4V121.5M460.5 104.6V118.9M460.5 100.8V121.3M460.5 101.1V107.8M461.5 108.2V115.6M461.5 108.6V110.5M461.5 91.7V97.1M461.5 99.7V101.1M461.5 100.9V110.9M462.5 113.1V119.6M462.5 94.6V100.0M462.5 102.1V107.6M462.5 89.3V96.5M462.5 94.2V101.6M463.5 92.6V96.5M463.5 95.8V129.9M463.5 93.0V95.8M463.5 103.9V105.3M463.5 98.7V110.3M464.5 101.8V108.6M464.5 96.3V115.2M464.5 106.1V111.3M464.5 99.3V99.4M464.5 104.8V105.8M465.5 105.4V114.6M465.5 97.4V99.2M465.5 103.8V112.2M465.5 93.7V94.3M465.5 96.9V100.5M466.5 105.1V107.0M466.5 100.5V104.4M466.5 95.2V104.8M466.5 86.8V91.2M466.5 94.3V100.9M467.5 92.7V103.4M467.5 102.3V107.3M467.5 102.9V108.0M467.5 104.8V112.6M467.5 97.2V105.8M468.5 98.4V111.8M468.5 93.1V95.0M468.5 103.2V106.9M468.5 103.0V107.6M468.5 110.5V114.2M469.5 92.8V116.4M469.5 107.6V111.1M469.5 109.4V111.3M469.5 99.5V112.0M469.5 109.2V115.0M470.5 104.3V112.5M470.5 104.3V104.3M470.5 102.2V116.2M470.5 89.6V98.8M470.5 96.5V102.3M471.5 105.1V106.5M471.5 98.5V101.7M471.5 96.2V104.1M471.5 106.7V115.1M471.5 102.9V108.4M472.5 92.9V121.7M472.5 107.1V115.0M472.5 95.6V100.6M472.5 99.5V110.8M472.5 97.5V111.1M473.5 98.4V105.2M473.5 101.5V115.9M473.5 104.5V108.4M473.5 101.0V110.2M473.5 100.8V106.4M474.5 111.6V112.9M474.5 102.3V119.3M474.5 103.5V107.1M474.5 107.3V108.9M474.5 112.1V119.8M475.5 87.3V115.6M475.5 109.4V111.8M475.5 102.6V113.8M475.5 107.3V108.2M475.5 92.1V107.4M476.5 97.2V119.1M476.5 95.6V107.9M476.5 107.7V113.7M476.5 101.7V101.8M476.5 95.4V102.8M477.5 107.3V108.9M477.5 104.8V114.6M477.5 97.7V114.1M477.5 96.8V113.2M477.5 90.6V101.2M478.5 91.1V112.7M478.5 102.7V105.8M478.5 90.9V100.6M478.5 108.1V111.3M478.5 109.2V110.8M479.5 98.2V109.1M479.5 98.0V114.7M479.5 109.4V113.8M479.5 105.4V112.2M479.5 101.8V113.9M480.5 98.9V112.1M480.5 106.2V117.8M480.5 98.2V118.1M480.5 107.7V113.5M480.5 100.1V103.4M481.5 105.5V112.5M481.5 110.0V114.1M481.5 103.5V104.1M481.5 106.5V117.8M481.5 94.1V115.5M482.5 98.4V107.8M482.5 112.0V112.2M482.5 92.7V102.3M482.5 94.5V101.7M482.5 87.9V114.6M483.5 105.8V115.4M483.5 99.8V111.5M483.5 104.7V116.2M483.5 109.6V111.8M483.5 100.3V106.6M484.5 98.5V107.8M484.5 106.0V110.2M484.5 98.1V110.7M484.5 99.2V112.3M484.5 107.9V125.8M485.5 106.0V108.3M485.5 115.0V121.6M485.5 99.1V112.8M485.5 103.8V109.0M485.5 113.9V127.0M486.5 103.1V105.8M486.5 97.2V117.0M486.5 101.3V115.1M486.5 101.0V127.0M486.5 105.9V123.8M487.5 101.9V113.6M487.5 117.9V123.3M487.5 99.5V129.6M487.5 102.9V111.0M487.5 100.4V116.5M488.5 100.3V109.9M488.5 104.3V105.3M488.5 111.2V115.1M488.5 95.9V96.9M488.5 97.2V123.6M489.5 109.1V117.5M489.5 114.7V121.2M489.5 89.2V103.7M489.5 104.9V116.0M489.5 98.0V106.3M490.5 101.6V124.6M490.5 113.3V114.3M490.5 112.5V112.8M490.5 106.5V119.3M490.5 106.4V117.0M491.5 98.4V114.2M491.5 105.9V110.3M491.5 114.8V127.6M491.5 113.1V122.1M491.5 110.8V117.5M492.5 101.4V118.2M492.5 114.1V114.4M492.5 108.7V132.5M492.5 109.7V118.4M492.5 110.2V120.8M493.5 109.5V114.3M493.5 93.9V99.9M493.5 108.5V113.8M493.5 113.5V121.8M493.5 101.9V124.6M494.5 90.6V100.8M494.5 90.3V123.5M494.5 93.3V111.2M494.5 102.6V106.6M494.5 104.9V110.7M495.5 75.2V101.2M495.5 97.4V114.0M495.5 108.2V108.7M495.5 117.5V121.7M495.5 97.1V113.8M496.5 108.2V108.2M496.5 106.2V114.8M496.5 127.2V128.7M496.5 89.2V111.4M496.5 94.8V114.2M497.5 99.6V115.7M497.5 108.8V110.9M497.5 112.6V124.3M497.5 101.1V120.9M497.5 101.2V107.9M498.5 83.8V95.4M498.5 101.4V111.6M498.5 100.4V119.3M498.5 109.7V113.4M498.5 95.3V97.2M499.5 116.2V132.2M499.5 96.0V102.2M499.5 101.6V110.8M499.5 105.1V106.3M499.5 81.6V112.5M500.5 103.4V111.4M500.5 113.0V116.1M500.5 113.5V116.3M500.5 103.5V111.3M500.5 102.1V107.6M501.5 100.6V103.1M501.5 116.3V117.3M501.5 105.9V111.9M501.5 96.4V125.2M501.5 100.6V116.5M502.5 106.8V112.7M502.5 109.0V110.6M502.5 102.9V109.3M502.5 106.8V121.3M502.5 102.8V114.4M503.5 113.2V117.4M503.5 104.8V119.2M503.5 98.8V115.7M503.5 103.9V118.2M503.5 109.4V117.4M504.5 103.7V116.0M504.5 108.0V112.1M504.5 107.3V121.0M504.5 102.2V106.7M504.5 95.7V112.8M505.5 93.6V109.6M505.5 109.4V110.7M505.5 110.4V119.4M505.5 105.9V106.8M505.5 101.6V116.0M506.5 106.2V106.8M506.5 113.8V117.6M506.5 112.5V115.0M506.5 112.7V126.9M506.5 117.6V122.3M507.5 98.3V114.8M507.5 104.2V105.4M507.5 107.6V110.5M507.5 107.6V122.9M507.5 111.1V121.9M508.5 103.2V116.7M508.5 97.7V101.9M508.5 98.9V105.3M508.5 107.8V113.9M508.5 109.7V112.9M509.5 107.0V109.8M509.5 106.4V111.9M509.5 105.7V108.1M509.5 100.5V101.5M509.5 115.3V116.7M510.5 110.1V112.0M510.5 95.3V101.8M510.5 108.1V110.9M510.5 101.4V117.0M510.5 103.3V118.5M511.5 103.6V107.8M511.5 106.4V110.1M511.5 98.5V121.1M511.5 107.1V109.6M511.5 103.5V126.0M512.5 106.3V114.6M512.5 103.0V107.1M512.5 109.1V109.2M512.5 105.2V105.8M512.5 107.4V114.7M513.5 93.6V108.8M513.5 102.0V111.7M513.5 109.6V113.4M513.5 107.4V111.2M513.5 115.3V116.4M514.5 112.3V112.7M514.5 105.5V109.1M514.5 110.7V115.9M514.5 98.4V107.8M514.5 107.7V114.3M515.5 109.0V118.8M515.5 94.1V107.0M515.5 106.3V117.9M515.5 110.9V112.2M515.5 115.5V126.7M516.5 106.7V114.7M516.5 111.7V113.5M516.5 102.0V114.9M516.5 104.3V108.2M516.5 108.1V112.3M517.5 102.5V107.6M517.5 103.8V120.0M517.5 106.1V108.4M517.5 109.0V115.0M517.5 96.5V106.6M518.5 115.2V115.6M518.5 104.8V125.0M518.5 104.9V112.1M518.5 107.2V124.4M518.5 104.1V104.5M519.5 102.8V111.2M519.5 87.7V111.4M519.5 106.9V110.8M519.5 122.0V123.1M519.5 105.0V125.2M520.5 112.9V115.5M520.5 103.1V114.7M520.5 108.6V118.8M520.5 97.4V115.1M520.5 99.3V108.5M521.5 96.4V111.4M521.5 100.4V115.4M521.5 103.6V108.7M521.5 104.3V137.0M521.5 104.1V108.6M522.5 98.5V105.8M522.5 98.2V106.8M522.5 111.9V117.7M522.5 104.7V113.7M522.5 107.9V115.1M523.5 96.1V106.7M523.5 106.3V116.3M523.5 104.8V118.4M523.5 110.0V110.5M523.5 112.2V126.1M524.5 105.3V129.7M524.5 111.7V119.0M524.5 119.5V128.2M524.5 109.4V110.1M524.5 117.1V118.7M525.5 101.1V107.4M525.5 109.5V109.9M525.5 120.2V120.4M525.5 103.9V107.5M525.5 113.7V121.6M526.5 115.9V116.6M526.5 106.5V118.6M526.5 108.3V113.4M526.5 93.6V124.0M526.5 104.7V105.9M527.5 105.7V121.8M527.5 108.3V112.1M527.5 99.4V112.3M527.5 108.5V113.5M527.5 103.3V107.0M528.5 96.4V117.9M528.5 103.0V106.9M528.5 95.8V107.3M528.5 86.0V112.2M528.5 98.4V116.8M529.5 98.3V108.8M529.5 103.0V117.7M529.5 100.9V112.0M529.5 111.5V114.5M529.5 120.5V121.4M530.5 112.3V119.3M530.5 101.3V112.8M530.5 114.6V118.7M530.5 94.6V119.9M530.5 108.5V115.7M531.5 102.7V110.1M531.5 110.0V117.6M531.5 112.2V122.9M531.5 115.6V120.5M531.5 114.5V115.0M532.5 110.5V113.7M532.5 109.4V110.1M532.5 109.7V120.1M532.5 109.9V117.1M532.5 105.2V111.3M533.5 109.3V109.4M533.5 103.4V115.5M533.5 106.5V117.1M533.5 100.3V109.9M533.5 108.8V115.7M534.5 110.0V117.2M534.5 108.1V111.0M534.5 115.6V117.3M534.5 108.0V111.7M534.5 108.3V110.4M535.5 107.0V112.5M535.5 112.3V114.1M535.5 108.9V116.4M535.5 112.8V114.7M535.5 109.3V109.8M536.5 119.8V124.4M536.5 111.2V117.0M536.5 100.6V116.6M536.5 107.3V125.2M536.5 104.9V113.4M537.5 104.5V111.1M537.5 103.4V113.6M537.5 104.0V107.9M537.5 110.2V110.2M537.5 109.1V115.0M538.5 107.9V115.7M538.5 115.3V116.0M538.5 102.7V108.9M538.5 108.8V114.8M538.5 117.4V120.0M539.5 116.0V118.8M539.5 99.9V110.3M539.5 112.4V118.5M539.5 107.6V117.7M539.5 109.2V110.9M540.5 110.5V110.9M540.5 113.1V121.5M540.5 108.0V113.7M540.5 107.7V108.0M540.5 104.6V116.3M541.5 101.0V115.9M541.5 114.9V116.6M541.5 119.1V119.2M541.5 107.3V111.2M541.5 118.4V126.5M542.5 111.2V111.6M542.5 103.1V106.8M542.5 109.8V121.2M542.5 108.7V118.4M542.5 115.8V122.1M543.5 106.3V110.4M543.5 99.6V109.6M543.5 107.0V115.9M543.5 111.1V113.7M543.5 109.3V116.4M544.5 106.6V112.4M544.5 108.0V108.4M544.5 104.1V112.4M544.5 112.7V116.0M544.5 100.9V104.6M545.5 103.2V114.1M545.5 114.9V120.8M545.5 110.7V121.2M545.5 100.6V106.7M545.5 104.8V116.5M546.5 108.8V111.3M546.5 106.9V116.7M546.5 100.5V117.3M546.5 105.7V111.8M546.5 104.6V123.6M547.5 112.6V114.6M547.5 114.0V119.9M547.5 110.5V115.4M547.5 103.8V117.3M547.5 100.9V115.2M548.5 101.9V115.3M548.5 97.2V100.3M548.5 111.5V118.6M548.5 114.0V122.8M548.5 107.2V107.9M549.5 105.3V114.8M549.5 118.4V119.3M549.5 115.0V115.7M549.5 111.5V124.9M549.5 88.6V118.9M550.5 118.3V118.6M550.5 113.3V115.9M550.5 104.2V118.9M550.5 100.0V108.3M550.5 105.8V112.1M551.5 112.4V118.7M551.5 115.1V118.4M551.5 104.1V122.5M551.5 110.8V113.8M551.5 106.3V114.4M552.5 122.1V124.0M552.5 106.3V112.0M552.5 101.8V111.8M552.5 101.1V113.0M552.5 106.0V111.9M553.5 104.0V107.8M553.5 109.9V114.6M553.5 120.1V120.6M553.5 111.7V113.2M553.5 110.9V128.4M554.5 106.6V111.0M554.5 93.3V119.8M554.5 112.0V118.1M554.5 106.7V116.9M554.5 108.4V123.9M555.5 108.9V121.2M555.5 114.8V117.5M555.5 100.8V119.2M555.5 112.4V124.0M555.5 113.1V130.1M556.5 104.0V108.0M556.5 109.4V116.2M556.5 100.8V112.4M556.5 112.7V114.6M556.5 100.8V119.6M557.5 116.3V118.5M557.5 101.3V117.5M557.5 108.4V121.0M557.5 111.3V113.4M557.5 109.1V109.8M558.5 112.7V113.3M558.5 107.0V117.9M558.5 105.4V108.7M558.5 105.2V109.9M558.5 107.3V122.2M559.5 106.9V111.9M559.5 110.7V119.8M559.5 115.8V118.6M559.5 105.5V124.2M559.5 113.1V118.2M560.5 113.1V118.5M560.5 107.7V114.1M560.5 107.5V113.7M560.5 110.8V114.4M560.5 107.7V119.7M561.5 114.6V114.8M561.5 115.0V116.4M561.5 111.3V120.0M561.5 112.3V116.6M561.5 108.8V111.7M562.5 112.5V116.9M562.5 106.4V117.1M562.5 107.1V121.2M562.5 109.6V116.6M562.5 120.5V123.9M563.5 110.1V115.6M563.5 109.3V117.5M563.5 113.4V119.1M563.5 115.4V116.8M563.5 110.9V111.1M564.5 115.9V118.3M564.5 111.6V117.2M564.5 104.5V123.2M564.5 101.1V105.8M564.5 112.6V121.9M565.5 109.6V113.1M565.5 112.7V114.9M565.5 113.5V119.9M565.5 103.1V103.6M565.5 118.4V125.1M566.5 107.5V118.1M566.5 113.4V121.0M566.5 99.8V118.1M566.5 115.5V117.3M566.5 107.6V113.1M567.5 101.5V108.6M567.5 95.4V121.2M567.5 112.0V115.3M567.5 114.5V115.6M567.5 107.9V112.7M568.5 112.1V118.1M568.5 109.2V123.9M568.5 97.8V107.9M568.5 100.3V104.2M568.5 117.4V120.6M569.5 111.5V113.3M569.5 115.3V116.8M569.5 110.6V118.0M569.5 109.6V115.8M569.5 115.2V121.9M570.5 109.8V118.9M570.5 115.8V116.8M570.5 108.4V120.9M570.5 118.5V131.5M570.5 115.3V121.6M571.5 110.3V111.2M571.5 115.0V126.8M571.5 115.4V123.3M571.5 112.8V133.8M571.5 110.6V120.3M572.5 110.5V119.2M572.5 110.5V114.7M572.5 110.3V113.7M572.5 110.2V128.1M572.5 104.4V126.3M573.5 119.6V122.5M573.5 107.1V118.1M573.5 112.6V116.6M573.5 107.1V108.0M573.5 115.0V116.7M574.5 113.8V119.9M574.5 119.4V140.0M574.5 104.8V105.7M574.5 114.0V119.4M574.5 98.6V100.5M575.5 103.4V114.9M575.5 109.0V121.7M575.5 115.1V116.7M575.5 116.0V127.7M575.5 108.9V113.8M576.5 124.4V131.1M576.5 96.5V108.3M576.5 107.7V115.0M576.5 115.4V118.1M576.5 116.7V117.9M577.5 109.4V128.6M577.5 118.3V122.4M577.5 115.2V119.0M577.5 111.0V117.0M577.5 113.6V116.8M578.5 115.7V122.2M578.5 111.3V121.6M578.5 110.6V117.6M578.5 125.5V127.8M578.5 88.7V119.3M579.5 112.0V123.1M579.5 127.2V128.3M579.5 105.8V111.6M579.5 114.2V114.3M579.5 119.8V122.6M580.5 92.2V113.1M580.5 110.3V135.1M580.5 107.1V129.4M580.5 109.4V126.2M580.5 101.2V121.8M581.5 112.3V120.0M581.5 112.7V117.8M581.5 104.6V107.3M581.5 110.3V110.3M581.5 108.7V116.9M582.5 106.5V116.0M582.5 112.2V125.7M582.5 112.5V129.5M582.5 107.2V113.3M582.5 103.2V119.4M583.5 109.2V126.5M583.5 107.6V120.6M583.5 102.2V120.7M583.5 103.2V111.1M583.5 106.1V119.0M584.5 116.5V125.9M584.5 117.8V122.4M584.5 120.2V123.2M584.5 117.2V118.9M584.5 117.8V121.7M585.5 106.7V118.9M585.5 97.9V101.4M585.5 114.9V115.3M585.5 114.1V127.5M585.5 98.0V109.9M586.5 121.9V131.8M586.5 91.6V127.3M586.5 115.3V130.3M586.5 89.0V132.3M586.5 108.6V121.2M587.5 113.9V117.1M587.5 103.2V125.1M587.5 102.8V107.2M587.5 107.9V113.4M587.5 115.0V115.1M588.5 85.3V98.1M588.5 115.1V121.0M588.5 104.3V122.6M588.5 102.1V110.0M588.5 103.2V117.5M589.5 102.0V136.3M589.5 105.7V138.4M589.5 121.0V124.8M589.5 125.4V128.7M589.5 116.9V119.8M590.5 87.3V118.9M590.5 98.3V137.8M590.5 113.5V113.6M590.5 119.5V131.1M590.5 108.0V116.1M591.5 105.3V121.1M591.5 111.0V113.5M591.5 113.4V120.7M591.5 103.1V115.1M591.5 114.7V124.2M592.5 109.0V126.7M592.5 108.9V113.0M592.5 110.9V112.7M592.5 115.0V119.7M592.5 115.1V121.2M593.5 113.3V122.5M593.5 115.4V118.3M593.5 99.3V103.5M593.5 115.3V120.9M593.5 105.5V114.5M594.5 114.5V126.7M594.5 99.6V129.6M594.5 102.0V118.6M594.5 108.5V121.7M594.5 118.9V122.1M595.5 115.1V117.8M595.5 113.1V113.3M595.5 110.1V117.5M595.5 107.2V110.7M595.5 104.2V115.8M596.5 117.9V126.3M596.5 109.7V115.5M596.5 112.5V116.0M596.5 113.1V116.0M596.5 112.6V115.7M597.5 107.7V120.6M597.5 112.9V113.3M597.5 110.6V116.8M597.5 107.1V120.9M597.5 115.7V120.6M598.5 110.7V133.3M598.5 115.3V115.7M598.5 102.1V119.9M598.5 100.3V122.8M598.5 103.8V114.6M599.5 116.1V118.0M599.5 112.6V123.3M599.5 106.2V117.3M599.5 98.0V119.4M599.5 104.5V118.2M600.5 113.3V125.1M600.5 111.7V125.5M600.5 117.6V119.0M600.5 113.9V120.6M600.5 114.9V116.0M601.5 114.5V121.1M601.5 115.9V122.3M601.5 112.1V113.7M601.5 115.6V120.2M601.5 110.6V111.4M602.5 92.3V111.3M602.5 117.0V121.3M602.5 106.8V118.0M602.5 113.4V118.1M602.5 108.8V125.0M603.5 126.0V136.2M603.5 115.3V117.6M603.5 115.9V117.7M603.5 106.5V109.4M603.5 115.9V116.4M604.5 110.6V119.6M604.5 121.7V126.0M604.5 120.3V125.8M604.5 108.9V111.7M604.5 110.8V114.2M605.5 117.8V120.9M605.5 110.1V117.2M605.5 119.4V121.1M605.5 110.9V119.3M605.5 125.2V127.3M606.5 115.3V120.0M606.5 107.0V117.7M606.5 113.6V113.8M606.5 122.7V123.0M606.5 113.3V120.5M607.5 96.2V110.7M607.5 114.6V128.7M607.5 113.4V118.6M607.5 110.4V114.1M607.5 115.2V120.3M608.5 106.0V116.9M608.5 104.5V121.7M608.5 103.6V105.4M608.5 114.7V126.0M608.5 115.0V129.9M609.5 112.4V115.0M609.5 110.1V118.3M609.5 102.7V136.7M609.5 113.4V121.7M609.5 112.9V114.3M610.5 107.7V117.2M610.5 111.5V124.3M610.5 112.6V118.4M610.5 91.7V117.2M610.5 104.6V122.6M611.5 123.9V126.3M611.5 110.9V124.7M611.5 101.8V112.9M611.5 118.4V126.9M611.5 112.4V125.6M612.5 114.4V125.8M612.5 101.8V106.9M612.5 115.4V115.5M612.5 114.5V126.6M612.5 119.3V127.2M613.5 109.0V115.5M613.5 100.0V136.6M613.5 107.6V118.9M613.5 102.8V107.3M613.5 124.4V132.8M614.5 110.9V115.9M614.5 115.5V119.9M614.5 115.7V127.4M614.5 113.7V130.7M614.5 107.8V128.1M615.5 109.3V119.5M615.5 98.8V121.3M615.5 109.0V117.9M615.5 119.5V125.4M615.5 100.2V126.9M616.5 114.5V116.9M616.5 110.7V111.7M616.5 99.6V109.8M616.5 125.7V133.3M616.5 117.7V119.3M617.5 104.5V118.7M617.5 92.0V112.8M617.5 109.9V112.3M617.5 115.8V117.8M617.5 107.9V110.3M618.5 108.8V110.0M618.5 107.3V118.8M618.5 118.4V133.6M618.5 102.1V116.8M618.5 108.4V134.3M619.5 105.8V122.8M619.5 100.6V114.6M619.5 105.9V110.3M619.5 117.4V121.9M619.5 122.1V126.7M620.5 108.2V113.6M620.5 104.9V117.7M620.5 112.5V114.1M620.5 107.9V118.5M620.5 106.8V117.4M621.5 109.0V126.5M621.5 113.9V124.2M621.5 105.8V124.4M621.5 95.3V106.4M621.5 115.2V117.5M622.5 118.9V121.0M622.5 109.6V126.4M622.5 107.5V120.0M622.5 122.3V125.5M622.5 110.3V119.2M623.5 114.2V125.7M623.5 114.4V129.1M623.5 115.9V125.2M623.5 108.7V118.3M623.5 105.7V112.3M624.5 118.5V122.8M624.5 103.4V116.1M624.5 112.5V115.4M624.5 104.5V121.4M624.5 109.1V115.6M625.5 110.2V111.6M625.5 117.6V134.9M625.5 115.3V116.0M625.5 107.0V109.9M625.5 114.0V127.8M626.5 115.7V116.8M626.5 110.8V120.1M626.5 111.5V118.8M626.5 105.1V113.1M626.5 123.1V123.8M627.5 116.0V120.3M627.5 107.0V121.6M627.5 111.4V116.2M627.5 118.2V121.6M627.5 112.4V122.4M628.5 114.5V116.9M628.5 108.8V116.8M628.5 113.2V121.4M628.5 114.2V121.7M628.5 119.3V121.9M629.5 110.2V115.7M629.5 114.5V117.4M629.5 107.2V115.4M629.5 108.2V117.7M629.5 112.0V120.5M630.5 113.1V121.5M630.5 110.7V125.0M630.5 116.0V120.4M630.5 114.7V118.0M630.5 118.2V123.8M631.5 116.6V122.4M631.5 113.0V114.2M631.5 110.8V115.9M631.5 111.5V117.9M631.5 114.8V117.2M632.5 111.8V122.4M632.5 114.6V121.7M632.5 114.3V115.8M632.5 115.1V121.8M632.5 115.0V118.8M633.5 115.1V122.6M633.5 117.6V119.7M633.5 116.3V116.9M633.5 116.9V120.3M633.5 109.5V121.5M634.5 114.5V115.0M634.5 120.0V125.2M634.5 119.2V122.9M634.5 114.3V117.5M634.5 112.4V113.8M635.5 114.6V119.1M635.5 109.0V120.0M635.5 108.4V110.5M635.5 119.4V121.0M635.5 110.8V116.2M636.5 114.3V117.8M636.5 109.2V120.7M636.5 113.4V115.8M636.5 121.4V122.3M636.5 114.1V117.3M637.5 117.7V121.0M637.5 117.8V121.2M637.5 118.5V120.2M637.5 99.8V119.5M637.5 111.6V115.6M638.5 115.1V119.5M638.5 112.5V119.3M638.5 118.5V120.1M638.5 114.5V114.9M638.5 104.4V121.3M639.5 120.1V122.5M639.5 109.1V115.3M639.5 114.5V125.6M639.5 117.7V117.9M639.5 116.9V118.2M640.5 113.2V120.9M640.5 113.8V116.6M640.5 113.3V120.6M640.5 112.6V122.4M640.5 113.8V125.7M641.5 118.7V126.3M641.5 113.9V116.6M641.5 112.6V115.0M641.5 112.6V118.1M641.5 112.3V120.1M642.5 112.4V118.0M642.5 113.0V116.9M642.5 115.5V117.1M642.5 118.8V123.7M642.5 114.1V114.7M643.5 115.1V118.5M643.5 111.6V125.5M643.5 116.9V118.5M643.5 112.5V116.8M643.5 111.9V121.2M644.5 121.7V122.3M644.5 117.7V117.7M644.5 112.1V119.2M644.5 116.6V117.3M644.5 113.9V122.6M645.5 113.0V116.1M645.5 110.8V120.5M645.5 117.3V120.4M645.5 113.9V117.1M645.5 117.2V117.4M646.5 113.9V121.8M646.5 104.1V116.3M646.5 114.9V115.2M646.5 114.2V118.1M646.5 116.4V118.7M647.5 119.1V127.6M647.5 123.1V123.7M647.5 113.4V114.9M647.5 112.8V115.7M647.5 109.1V126.1M648.5 111.7V117.2M648.5 114.3V115.9M648.5 120.5V121.0M648.5 114.2V117.4M648.5 107.6V115.5M649.5 112.5V116.6M649.5 120.2V120.4M649.5 112.8V121.1M649.5 115.6V120.1M649.5 117.8V118.4M650.5 121.3V121.7M650.5 106.8V115.7M650.5 117.0V119.6M650.5 111.3V111.9M650.5 121.6V126.9M651.5 114.7V114.8M651.5 120.0V122.0M651.5 115.6V119.1M651.5 111.6V117.2M651.5 112.8V116.2M652.5 110.9V121.6M652.5 107.7V115.1M652.5 110.4V118.6M652.5 111.3V112.4M652.5 112.9V114.9M653.5 121.1V122.3M653.5 118.1V120.3M653.5 114.2V119.2M653.5 111.0V122.5M653.5 108.8V115.8M654.5 115.4V125.8M654.5 118.4V121.8M654.5 113.2V114.1M654.5 125.0V126.5M654.5 118.9V120.3M655.5 113.8V120.3M655.5 118.6V119.7M655.5 112.2V117.1M655.5 110.2V116.5M655.5 115.6V120.7M656.5 102.5V115.9M656.5 112.9V118.9M656.5 116.8V124.1M656.5 107.9V119.3M656.5 115.8V121.2M657.5 115.7V122.5M657.5 121.8V122.2M657.5 110.9V123.0M657.5 116.5V126.2M657.5 117.3V124.2M658.5 118.3V123.9M658.5 110.6V118.0M658.5 119.6V124.4M658.5 112.0V119.5M658.5 115.8V116.0M659.5 107.3V119.2M659.5 116.1V118.9M659.5 118.9V120.2M659.5 115.6V116.0M659.5 103.4V126.6M660.5 117.7V121.7M660.5 117.0V128.7M660.5 125.3V130.8M660.5 105.5V120.8M660.5 114.0V123.9M661.5 121.1V123.5M661.5 104.7V110.2M661.5 107.8V117.5M661.5 112.9V119.7M661.5 103.2V117.9M662.5 122.6V127.7M662.5 111.7V116.8M662.5 112.0V117.8M662.5 115.7V122.8M662.5 115.0V119.1M663.5 109.0V131.5M663.5 115.5V115.5M663.5 112.4V118.9M663.5 108.5V129.5M663.5 108.5V111.7M664.5 109.5V110.6M664.5 116.6V117.2M664.5 114.7V126.5M664.5 120.4V121.9M664.5 119.7V129.5M665.5 112.9V121.1M665.5 107.1V110.1M665.5 104.9V119.8M665.5 111.7V117.7M665.5 98.8V103.4M666.5 112.7V124.4M666.5 113.7V118.6M666.5 109.1V109.8M666.5 117.7V127.9M666.5 106.3V110.4M667.5 112.3V115.4M667.5 124.9V126.8M667.5 107.5V115.0M667.5 103.1V130.0M667.5 117.3V131.9M668.5 107.5V120.2M668.5 122.1V124.5M668.5 102.9V128.0M668.5 106.6V113.5M668.5 112.1V130.8M669.5 113.5V126.2M669.5 112.8V126.4M669.5 107.1V119.5M669.5 126.0V135.3M669.5 108.1V112.5M670.5 116.8V117.3M670.5 107.0V115.3M670.5 123.9V130.8M670.5 121.8V131.9M670.5 117.7V130.6M671.5 106.4V130.2M671.5 106.4V117.6M671.5 114.6V134.0M671.5 111.4V121.7M671.5 109.6V121.4M672.5 108.2V117.7M672.5 125.7V127.9M672.5 97.0V128.0M672.5 116.2V128.5M672.5 113.2V113.5M673.5 116.0V116.7M673.5 100.0V120.5M673.5 111.2V127.7M673.5 109.9V136.0M673.5 98.7V124.2M674.5 109.3V115.6M674.5 98.2V123.1M674.5 109.7V113.2M674.5 111.9V113.9M674.5 109.5V117.2M675.5 114.9V132.1M675.5 107.5V109.7M675.5 117.7V119.1M675.5 97.8V121.3M675.5 114.6V123.8M676.5 115.1V125.6M676.5 114.0V123.7M676.5 114.1V130.0M676.5 114.8V130.7M676.5 121.1V124.5M677.5 118.0V129.1M677.5 103.1V112.3M677.5 119.6V121.7M677.5 114.9V134.5M677.5 116.3V123.9M678.5 120.1V132.9M678.5 115.0V127.6M678.5 101.0V112.9M678.5 105.5V113.4M678.5 113.6V132.4M679.5 116.4V127.0M679.5 102.9V129.6M679.5 121.7V137.8M679.5 115.6V121.8M679.5 114.1V124.1M680.5 128.5V137.4M680.5 108.7V130.4M680.5 115.9V127.6M680.5 106.4V138.9M680.5 128.8V131.8M681.5 123.2V132.0M681.5 116.7V117.6M681.5 120.0V125.1M681.5 101.0V135.4M681.5 116.5V124.1M682.5 126.7V140.3M682.5 107.7V114.0M682.5 114.7V126.9M682.5 111.9V158.8M682.5 103.0V111.8M683.5 98.2V114.6M683.5 107.0V123.4M683.5 109.5V127.7M683.5 118.0V125.2M683.5 115.3V122.5M684.5 119.0V123.8M684.5 114.9V122.9M684.5 97.6V141.8M684.5 121.5V125.6M684.5 120.6V134.1M685.5 118.4V119.9M685.5 119.2V137.0M685.5 118.9V124.7M685.5 113.6V114.3M685.5 129.3V130.0M686.5 117.4V119.8M686.5 126.3V126.6M686.5 122.6V126.1M686.5 121.1V123.6M686.5 116.9V125.6M687.5 116.9V120.4M687.5 126.6V128.9M687.5 112.1V124.9M687.5 135.6V138.0M687.5 113.2V121.0M688.5 112.0V128.4M688.5 122.9V126.4M688.5 115.2V119.0M688.5 96.3V109.2M688.5 110.2V120.3M689.5 111.9V129.4M689.5 111.6V128.2M689.5 102.5V125.1M689.5 113.7V122.3M689.5 120.1V133.3M690.5 123.5V139.4M690.5 110.0V114.1M690.5 110.4V110.9M690.5 113.1V127.4M690.5 112.3V118.5M691.5 114.3V122.7M691.5 114.0V120.1M691.5 119.2V128.6M691.5 114.7V116.5M691.5 128.3V149.4M692.5 107.4V112.7M692.5 109.6V125.6M692.5 110.0V118.5M692.5 105.8V112.0M692.5 125.1V128.3M693.5 119.9V121.4M693.5 125.7V137.0M693.5 122.3V126.4M693.5 116.2V124.6M693.5 105.4V128.0M694.5 130.6V135.3M694.5 132.3V135.6M694.5 118.9V122.2M694.5 108.5V119.3M694.5 122.3V132.3" stroke="#EDB120" stroke-width="0.9" stroke-dasharray="1.4 0.7" stroke-opacity="0.52" fill="none"/>
<polyline points="413.0,91.3 415.4,91.9 417.7,92.7 420.1,93.6 422.5,94.4 424.8,95.1 427.2,95.8 429.6,96.4 431.9,97.0 434.3,97.6 436.7,98.2 439.0,98.7 441.4,99.3 443.8,99.8 446.1,100.2 448.5,100.7 450.8,101.2 453.2,101.6 455.6,102.0 457.9,102.4 460.3,102.8 462.7,103.2 465.0,103.6 467.4,104.0 469.8,104.5 472.1,105.0 474.5,105.4 476.9,105.9 479.2,106.4 481.6,106.8 484.0,107.3 486.3,107.8 488.7,108.2 491.1,108.6 493.4,108.9 495.8,109.1 498.2,109.4 500.5,109.6 502.9,109.7 505.3,109.8 507.6,109.8 510.0,109.8 512.4,109.8 514.7,109.9 517.1,110.1 519.4,110.3 521.8,110.5 524.2,110.8 526.5,111.0 528.9,111.2 531.3,111.5 533.6,111.7 536.0,112.0 538.4,112.1 540.7,112.1 543.1,112.0 545.5,112.0 547.8,111.9 550.2,111.9 552.6,112.0 554.9,112.2 557.3,112.5 559.7,112.7 562.0,112.9 564.4,113.1 566.8,113.3 569.1,113.5 571.5,113.7 573.9,113.8 576.2,114.0 578.6,114.1 581.0,114.3 583.3,114.4 585.7,114.6 588.1,114.7 590.4,114.8 592.8,115.0 595.1,115.1 597.5,115.2 599.9,115.4 602.2,115.5 604.6,115.6 607.0,115.6 609.3,115.7 611.7,115.8 614.1,115.8 616.4,115.8 618.8,115.8 621.2,115.8 623.5,115.9 625.9,115.9 628.3,116.0 630.6,116.1 633.0,116.2 635.4,116.3 637.7,116.5 640.1,116.6 642.5,116.7 644.8,116.9 647.2,117.0 649.6,117.2 651.9,117.3 654.3,117.5 656.7,117.6 659.0,117.8 661.4,117.9 663.7,118.0 666.1,118.1 668.5,118.2 670.8,118.3 673.2,118.5 675.6,118.7 677.9,118.9 680.3,119.2 682.7,119.4 685.0,119.7 687.4,119.9 689.8,120.2 692.1,120.4 694.5,120.6" stroke="#EDB120" stroke-width="1.8" fill="none" stroke-linejoin="round"/>
<path d="M413.5 79.5V93.5M413.5 64.7V65.3M413.5 77.5V93.9M413.5 47.1V50.6M413.5 50.8V65.5M414.5 63.8V73.9M414.5 71.5V80.6M414.5 68.7V76.6M414.5 68.3V76.3M414.5 84.4V91.0M415.5 63.7V65.1M415.5 54.1V83.0M415.5 57.2V81.8M415.5 59.0V62.1M415.5 75.4V84.7M416.5 75.4V81.4M416.5 74.6V80.1M416.5 61.2V82.6M416.5 74.8V77.8M416.5 61.7V74.0M417.5 68.9V76.3M417.5 77.2V87.3M417.5 88.7V92.6M417.5 76.2V87.9M417.5 57.6V86.1M418.5 76.5V77.7M418.5 54.8V76.9M418.5 65.7V86.1M418.5 80.0V87.5M418.5 64.0V77.4M419.5 72.2V73.8M419.5 67.6V69.4M419.5 69.2V77.3M419.5 65.2V75.3M419.5 64.3V71.9M420.5 60.3V65.1M420.5 73.4V75.2M420.5 69.9V77.7M420.5 71.8V74.2M420.5 72.9V81.0M421.5 76.8V79.5M421.5 69.3V79.6M421.5 80.7V89.8M421.5 83.3V84.2M421.5 66.5V81.7M422.5 64.2V72.0M422.5 71.1V71.9M422.5 70.7V71.6M422.5 64.3V70.3M422.5 68.3V82.6M423.5 73.7V93.2M423.5 69.7V70.4M423.5 77.3V84.3M423.5 73.7V79.6M423.5 72.2V79.5M424.5 78.4V81.1M424.5 71.6V83.2M424.5 75.1V78.5M424.5 71.2V72.2M424.5 68.9V76.6M425.5 72.7V73.8M425.5 76.9V82.3M425.5 77.4V77.5M425.5 75.7V86.4M425.5 72.8V78.6M426.5 75.5V78.2M426.5 67.6V71.7M426.5 80.4V86.1M426.5 74.7V79.6M426.5 70.2V75.0M427.5 84.2V85.9M427.5 79.7V83.5M427.5 78.1V81.7M427.5 81.8V82.8M427.5 77.1V79.5M428.5 76.0V80.7M428.5 78.7V88.6M428.5 77.5V82.3M428.5 81.6V91.4M428.5 79.5V81.9M429.5 78.9V79.1M429.5 78.5V81.0M429.5 75.6V77.5M429.5 79.1V83.7M429.5 78.7V79.8M430.5 75.8V82.8M430.5 74.8V75.6M430.5 79.9V84.9M430.5 75.9V79.9M430.5 77.5V78.0M431.5 85.7V85.8M431.5 82.6V84.4M431.5 77.1V81.5M431.5 78.8V83.2M431.5 80.1V84.5M432.5 78.3V85.8M432.5 71.0V79.0M432.5 81.9V93.3M432.5 82.1V84.1M432.5 78.2V84.3M433.5 82.3V82.9M433.5 70.4V81.4M433.5 62.1V74.7M433.5 84.2V87.6M433.5 80.8V86.8M434.5 70.2V82.5M434.5 76.1V89.1M434.5 84.2V89.9M434.5 87.7V96.1M434.5 71.8V89.6M435.5 78.4V90.9M435.5 60.4V89.4M435.5 78.9V86.6M435.5 75.7V87.3M435.5 80.9V84.2M436.5 73.2V84.3M436.5 67.5V82.6M436.5 80.9V84.5M436.5 79.1V82.7M436.5 76.8V83.3M437.5 69.5V88.9M437.5 78.5V95.0M437.5 76.5V82.7M437.5 77.6V85.9M437.5 72.2V77.9M438.5 82.8V84.8M438.5 82.4V82.7M438.5 78.2V78.3M438.5 83.8V85.0M438.5 75.7V89.6M439.5 81.5V93.1M439.5 79.0V82.8M439.5 78.1V93.7M439.5 86.7V93.0M439.5 73.8V81.5M440.5 80.5V81.2M440.5 74.1V88.5M440.5 88.2V89.5M440.5 80.2V98.7M440.5 77.6V82.8M441.5 86.4V88.1M441.5 84.6V89.0M441.5 68.3V93.7M441.5 67.1V70.4M441.5 76.9V92.3M442.5 73.0V90.6M442.5 90.8V95.1M442.5 77.4V110.2M442.5 88.6V94.2M442.5 80.0V80.9M443.5 76.6V86.2M443.5 78.4V86.9M443.5 93.1V95.0M443.5 75.9V78.7M443.5 78.0V83.7M444.5 71.9V81.9M444.5 82.4V99.1M444.5 80.7V89.9M444.5 79.3V86.3M444.5 94.7V103.4M445.5 79.3V80.3M445.5 79.7V89.6M445.5 75.7V97.8M445.5 72.2V84.8M445.5 79.4V81.2M446.5 78.6V83.4M446.5 72.9V82.2M446.5 81.6V86.0M446.5 81.6V86.9M446.5 79.2V85.3M447.5 86.1V87.4M447.5 83.2V97.2M447.5 81.2V91.7M447.5 85.7V86.7M447.5 96.5V97.3M448.5 82.8V98.5M448.5 82.8V100.6M448.5 93.0V94.1M448.5 80.3V85.1M448.5 88.8V88.9M449.5 79.5V88.5M449.5 79.9V92.3M449.5 77.1V89.8M449.5 81.1V97.3M449.5 87.0V91.8M450.5 87.3V88.9M450.5 85.5V89.5M450.5 76.7V93.1M450.5 86.4V90.1M450.5 81.3V89.9M451.5 81.4V88.0M451.5 85.5V92.9M451.5 82.2V102.9M451.5 79.2V90.5M451.5 81.3V81.6M452.5 83.4V90.3M452.5 82.7V86.5M452.5 75.6V85.9M452.5 88.0V91.4M452.5 79.3V81.3M453.5 77.2V84.2M453.5 83.0V93.0M453.5 81.9V89.0M453.5 84.7V92.4M453.5 79.7V92.9M454.5 81.9V92.5M454.5 86.6V92.6M454.5 82.9V89.5M454.5 82.1V92.1M454.5 85.7V86.6M455.5 91.3V93.6M455.5 84.5V93.4M455.5 85.5V88.7M455.5 85.6V86.4M455.5 84.9V94.3M456.5 76.3V93.4M456.5 78.0V88.8M456.5 82.9V90.9M456.5 87.2V90.6M456.5 89.7V92.0M457.5 86.4V94.4M457.5 87.1V90.3M457.5 85.6V91.6M457.5 83.9V93.1M457.5 83.1V92.5M458.5 88.0V92.0M458.5 81.4V86.0M458.5 79.0V79.8M458.5 86.4V89.6M458.5 84.5V88.3M459.5 87.5V94.1M459.5 89.1V92.2M459.5 77.8V86.2M459.5 89.8V94.2M459.5 82.2V84.1M460.5 85.8V88.8M460.5 86.9V88.2M460.5 82.5V89.7M460.5 81.8V91.1M460.5 86.7V93.1M461.5 81.8V86.6M461.5 81.9V84.2M461.5 86.4V94.8M461.5 84.5V91.2M461.5 78.1V82.2M462.5 82.9V92.6M462.5 83.0V87.6M462.5 82.0V97.2M462.5 80.4V88.4M462.5 80.8V85.6M463.5 83.4V98.2M463.5 84.8V92.5M463.5 86.2V86.5M463.5 83.7V92.0M463.5 86.4V94.5M464.5 87.4V90.6M464.5 85.6V89.2M464.5 85.3V90.7M464.5 79.7V83.0M464.5 85.5V90.5M465.5 83.4V86.8M465.5 91.5V94.8M465.5 82.2V89.9M465.5 77.0V87.4M465.5 83.1V92.1M466.5 83.7V105.8M466.5 81.5V88.1M466.5 89.1V97.8M466.5 84.5V89.5M466.5 86.3V102.6M467.5 82.8V88.1M467.5 76.7V90.3M467.5 92.5V92.9M467.5 85.0V88.9M467.5 90.1V92.2M468.5 82.5V88.8M468.5 88.3V93.8M468.5 84.0V90.8M468.5 92.9V94.5M468.5 88.7V89.3M469.5 83.1V90.9M469.5 78.0V83.7M469.5 64.8V88.6M469.5 80.5V103.0M469.5 69.9V89.0M470.5 87.0V97.5M470.5 79.3V84.0M470.5 83.5V94.3M470.5 82.5V94.9M470.5 81.6V86.5M471.5 83.0V93.5M471.5 82.5V97.7M471.5 97.2V99.3M471.5 83.2V88.2M471.5 74.4V103.4M472.5 84.1V84.7M472.5 86.6V93.8M472.5 87.5V101.5M472.5 100.2V100.5M472.5 82.3V98.8M473.5 81.1V88.6M473.5 86.9V94.1M473.5 81.4V90.5M473.5 90.1V92.0M473.5 77.9V87.6M474.5 92.0V102.3M474.5 88.5V94.9M474.5 81.6V81.6M474.5 70.2V83.6M474.5 83.4V87.0M475.5 80.5V90.8M475.5 87.4V90.2M475.5 91.1V94.6M475.5 84.9V87.0M475.5 87.3V92.4M476.5 89.3V97.4M476.5 90.5V98.2M476.5 82.0V95.8M476.5 80.1V100.1M476.5 85.1V88.2M477.5 91.8V95.1M477.5 78.0V84.5M477.5 81.4V90.1M477.5 86.0V88.2M477.5 78.7V85.5M478.5 91.1V97.8M478.5 88.8V91.3M478.5 87.5V96.1M478.5 86.7V92.3M478.5 88.2V88.6M479.5 85.7V94.7M479.5 86.0V89.6M479.5 84.8V90.5M479.5 85.2V86.1M479.5 87.0V99.9M480.5 80.1V83.6M480.5 84.7V85.5M480.5 80.5V84.1M480.5 83.0V98.0M480.5 82.6V97.7M481.5 80.7V89.7M481.5 88.0V95.9M481.5 81.8V86.7M481.5 94.4V96.8M481.5 85.5V88.1M482.5 85.8V88.0M482.5 76.5V86.5M482.5 80.2V92.4M482.5 84.9V90.1M482.5 84.6V87.7M483.5 87.8V88.3M483.5 81.9V89.4M483.5 82.6V87.6M483.5 86.2V88.3M483.5 87.5V91.4M484.5 91.5V91.8M484.5 85.1V95.4M484.5 85.8V88.8M484.5 88.6V89.7M484.5 83.5V98.0M485.5 82.9V93.5M485.5 78.9V95.7M485.5 87.4V88.2M485.5 78.6V88.1M485.5 85.6V90.8M486.5 91.9V96.0M486.5 83.3V87.4M486.5 86.5V94.6M486.5 87.6V101.3M486.5 85.8V87.7M487.5 80.9V93.2M487.5 86.2V86.2M487.5 90.1V97.9M487.5 86.2V86.4M487.5 91.7V94.9M488.5 93.6V103.6M488.5 78.2V86.5M488.5 88.6V96.0M488.5 83.2V93.8M488.5 79.5V94.9M489.5 81.1V90.8M489.5 86.4V103.1M489.5 77.2V86.6M489.5 80.9V90.1M489.5 84.6V84.9M490.5 70.2V97.5M490.5 81.4V86.3M490.5 82.0V87.0M490.5 87.8V89.1M490.5 83.1V88.7M491.5 72.4V95.8M491.5 91.3V91.4M491.5 91.3V92.5M491.5 89.6V90.5M491.5 83.9V97.2M492.5 81.3V98.2M492.5 74.6V79.5M492.5 87.9V89.1M492.5 93.6V95.1M492.5 87.6V90.4M493.5 79.5V80.5M493.5 86.6V105.6M493.5 85.0V88.4M493.5 91.8V96.9M493.5 83.5V88.4M494.5 78.1V94.7M494.5 99.6V113.0M494.5 90.2V90.2M494.5 63.3V76.5M494.5 84.9V96.4M495.5 72.9V89.8M495.5 90.0V96.2M495.5 79.3V94.1M495.5 83.8V88.4M495.5 82.6V98.1M496.5 92.3V92.9M496.5 85.1V90.6M496.5 90.0V91.7M496.5 93.1V94.6M496.5 95.8V99.7M497.5 94.4V99.2M497.5 89.8V98.2M497.5 93.9V96.8M497.5 83.9V86.8M497.5 109.7V110.3M498.5 86.5V87.8M498.5 83.8V88.0M498.5 79.8V88.7M498.5 84.5V84.6M498.5 81.2V84.3M499.5 83.2V96.6M499.5 88.4V91.6M499.5 83.1V90.2M499.5 88.2V89.2M499.5 82.2V83.5M500.5 89.7V102.6M500.5 93.2V94.7M500.5 87.3V92.6M500.5 88.7V91.3M500.5 79.9V85.7M501.5 80.2V93.9M501.5 82.1V85.9M501.5 74.5V87.5M501.5 90.0V92.8M501.5 85.0V103.0M502.5 68.8V87.2M502.5 84.5V98.6M502.5 87.5V94.4M502.5 89.9V92.5M502.5 98.6V99.3M503.5 85.4V86.8M503.5 82.3V92.7M503.5 88.4V100.0M503.5 76.0V95.5M503.5 81.5V89.0M504.5 77.7V84.9M504.5 78.4V88.7M504.5 59.0V90.7M504.5 74.2V89.7M504.5 91.4V104.7M505.5 80.7V98.0M505.5 87.1V91.0M505.5 81.7V99.9M505.5 86.9V90.9M505.5 89.0V94.5M506.5 86.8V94.7M506.5 88.1V98.1M506.5 79.0V87.4M506.5 86.7V88.4M506.5 89.7V91.5M507.5 89.8V96.2M507.5 91.3V94.3M507.5 86.0V87.3M507.5 88.5V95.3M507.5 86.2V91.8M508.5 85.2V85.9M508.5 81.9V83.1M508.5 85.1V97.6M508.5 93.3V96.7M508.5 89.6V93.1M509.5 83.0V83.3M509.5 89.9V100.7M509.5 88.8V92.3M509.5 87.1V92.4M509.5 85.6V86.5M510.5 83.7V100.7M510.5 89.0V94.9M510.5 81.3V87.9M510.5 86.9V90.6M510.5 87.8V92.0M511.5 85.8V86.6M511.5 87.5V92.6M511.5 89.7V91.0M511.5 90.0V96.0M511.5 86.5V86.6M512.5 92.5V95.6M512.5 85.4V92.7M512.5 86.2V91.2M512.5 83.2V88.7M512.5 84.2V91.8M513.5 86.9V90.8M513.5 88.7V90.8M513.5 78.7V98.5M513.5 82.3V99.0M513.5 85.0V86.8M514.5 79.3V86.6M514.5 90.2V95.3M514.5 81.8V92.3M514.5 82.8V96.7M514.5 91.6V93.1M515.5 88.7V101.0M515.5 75.9V88.8M515.5 84.8V91.5M515.5 91.1V92.6M515.5 88.1V91.0M516.5 83.6V88.8M516.5 91.5V95.1M516.5 83.2V105.4M516.5 88.2V91.3M516.5 93.1V101.3M517.5 80.6V92.1M517.5 90.2V103.6M517.5 103.0V104.2M517.5 92.4V94.3M517.5 86.6V101.2M518.5 85.7V92.9M518.5 80.8V88.1M518.5 83.1V86.2M518.5 88.3V92.9M518.5 83.2V89.0M519.5 87.4V100.3M519.5 85.1V87.7M519.5 97.1V100.0M519.5 89.8V95.5M519.5 87.9V98.9M520.5 79.8V89.2M520.5 74.6V99.6M520.5 81.5V107.1M520.5 80.6V91.7M520.5 77.8V94.6M521.5 91.7V94.2M521.5 94.1V96.3M521.5 86.9V92.0M521.5 70.8V99.9M521.5 86.0V95.8M522.5 67.8V82.4M522.5 82.0V84.5M522.5 96.5V100.5M522.5 85.3V106.4M522.5 86.4V97.5M523.5 82.4V85.3M523.5 55.3V93.0M523.5 99.0V113.7M523.5 91.9V99.3M523.5 72.1V86.6M524.5 77.1V98.9M524.5 90.8V107.6M524.5 94.4V105.2M524.5 90.5V97.1M524.5 83.3V92.7M525.5 60.7V97.9M525.5 80.8V95.0M525.5 89.9V96.2M525.5 70.5V104.8M525.5 71.8V100.2M526.5 90.7V110.1M526.5 65.2V107.4M526.5 63.2V79.4M526.5 102.0V110.3M526.5 92.0V95.2M527.5 94.3V111.1M527.5 77.9V101.1M527.5 88.8V94.9M527.5 88.9V99.4M527.5 91.3V92.1M528.5 75.2V104.1M528.5 98.6V98.9M528.5 75.9V97.3M528.5 94.4V97.8M528.5 83.8V91.5M529.5 80.6V82.4M529.5 84.8V94.5M529.5 100.2V103.9M529.5 79.7V92.0M529.5 81.0V90.9M530.5 98.3V112.2M530.5 77.7V81.5M530.5 73.9V113.6M530.5 89.0V90.4M530.5 70.8V75.3M531.5 83.2V89.0M531.5 96.5V100.7M531.5 66.9V100.0M531.5 98.3V104.3M531.5 89.7V103.7M532.5 93.0V101.0M532.5 91.2V98.4M532.5 91.1V107.9M532.5 91.5V99.3M532.5 83.6V106.1M533.5 78.8V94.9M533.5 80.2V102.8M533.5 92.6V100.0M533.5 96.8V115.7M533.5 88.2V90.9M534.5 91.3V100.0M534.5 87.1V90.9M534.5 90.9V100.6M534.5 74.6V99.0M534.5 91.0V108.9M535.5 83.4V100.2M535.5 80.0V107.2M535.5 75.8V116.4M535.5 91.5V94.0M535.5 86.9V104.1M536.5 93.5V103.9M536.5 74.5V97.1M536.5 85.6V86.3M536.5 87.6V92.7M536.5 82.6V90.4M537.5 93.6V95.3M537.5 82.7V90.6M537.5 92.2V96.9M537.5 88.7V97.8M537.5 89.6V96.5M538.5 83.5V94.1M538.5 92.7V105.1M538.5 96.0V112.0M538.5 83.8V95.9M538.5 98.2V98.4M539.5 86.5V99.2M539.5 92.3V94.5M539.5 81.3V93.6M539.5 101.6V110.5M539.5 94.2V102.6M540.5 85.8V101.5M540.5 85.6V96.1M540.5 86.7V92.0M540.5 96.3V97.7M540.5 90.1V109.8M541.5 75.3V88.2M541.5 96.7V100.2M541.5 88.0V94.1M541.5 89.2V92.8M541.5 86.5V95.6M542.5 83.3V97.5M542.5 85.2V86.4M542.5 83.4V90.5M542.5 81.1V96.1M542.5 76.9V77.0M543.5 86.4V98.3M543.5 83.5V101.4M543.5 70.4V101.4M543.5 81.3V94.0M543.5 79.9V94.7M544.5 91.4V107.3M544.5 88.6V108.6M544.5 87.4V103.0M544.5 71.9V79.5M544.5 91.1V113.5M545.5 93.8V102.0M545.5 76.8V91.7M545.5 86.1V102.9M545.5 84.8V106.0M545.5 92.5V101.3M546.5 88.4V99.4M546.5 81.3V89.4M546.5 73.3V119.5M546.5 84.9V103.5M546.5 91.2V101.8M547.5 86.0V91.9M547.5 88.0V94.0M547.5 81.3V97.4M547.5 84.2V86.0M547.5 89.2V89.4M548.5 68.1V92.5M548.5 85.6V111.0M548.5 93.7V114.8M548.5 88.7V92.0M548.5 79.2V90.3M549.5 90.7V97.8M549.5 78.8V86.5M549.5 93.4V95.9M549.5 102.8V104.7M549.5 93.0V100.2M550.5 95.0V106.4M550.5 82.5V86.3M550.5 96.8V103.7M550.5 71.2V102.4M550.5 85.2V96.0M551.5 80.1V105.0M551.5 81.1V115.8M551.5 85.6V98.3M551.5 91.0V103.5M551.5 78.6V89.4M552.5 95.3V96.1M552.5 80.6V98.5M552.5 84.2V85.2M552.5 77.6V93.0M552.5 86.2V92.3M553.5 92.6V93.1M553.5 76.5V98.5M553.5 94.2V102.9M553.5 85.8V101.2M553.5 82.3V89.5M554.5 87.5V100.2M554.5 98.1V114.9M554.5 88.0V109.3M554.5 94.4V103.0M554.5 89.8V89.8M555.5 84.1V90.4M555.5 77.2V91.1M555.5 85.1V105.2M555.5 92.7V94.1M555.5 97.4V102.9M556.5 89.0V90.6M556.5 88.0V107.6M556.5 84.2V87.8M556.5 83.9V114.8M556.5 79.8V85.1M557.5 82.3V89.9M557.5 92.8V93.9M557.5 84.1V91.6M557.5 80.0V92.3M557.5 90.9V96.0M558.5 79.6V84.3M558.5 90.1V95.4M558.5 95.4V96.8M558.5 82.7V98.8M558.5 79.5V94.6M559.5 85.5V97.2M559.5 92.1V96.0M559.5 94.7V106.8M559.5 71.0V99.7M559.5 96.1V96.6M560.5 91.0V96.0M560.5 91.9V100.3M560.5 85.6V97.1M560.5 85.4V86.3M560.5 94.4V102.0M561.5 99.2V100.2M561.5 91.2V98.1M561.5 88.0V97.9M561.5 88.8V102.5M561.5 80.8V92.2M562.5 86.5V102.2M562.5 95.9V100.3M562.5 83.0V86.0M562.5 85.1V95.3M562.5 91.6V107.1M563.5 88.3V91.0M563.5 100.1V101.7M563.5 76.4V97.8M563.5 90.4V109.6M563.5 90.9V97.9M564.5 93.6V97.4M564.5 83.0V91.1M564.5 82.8V98.9M564.5 79.1V89.8M564.5 79.8V99.6M565.5 87.5V96.9M565.5 88.9V96.4M565.5 97.8V101.6M565.5 83.5V97.2M565.5 101.4V105.0M566.5 82.8V86.6M566.5 90.4V92.9M566.5 83.0V92.5M566.5 73.5V99.1M566.5 79.5V81.4M567.5 99.7V101.3M567.5 86.5V87.5M567.5 90.0V92.7M567.5 102.3V108.7M567.5 91.0V103.6M568.5 91.3V98.4M568.5 79.2V95.5M568.5 80.9V81.4M568.5 90.1V107.5M568.5 86.9V103.7M569.5 100.7V103.2M569.5 84.6V100.3M569.5 81.7V102.5M569.5 100.6V102.8M569.5 101.4V104.7M570.5 91.4V97.3M570.5 84.1V87.8M570.5 89.3V91.8M570.5 79.0V93.5M570.5 88.4V96.9M571.5 86.4V110.5M571.5 83.0V86.0M571.5 95.2V97.5M571.5 100.0V106.9M571.5 91.4V94.5M572.5 88.2V92.8M572.5 90.0V93.1M572.5 98.8V99.0M572.5 77.1V105.4M572.5 83.3V97.9M573.5 67.7V93.8M573.5 90.3V103.7M573.5 74.3V89.1M573.5 84.5V91.0M573.5 75.9V88.6M574.5 95.9V98.5M574.5 88.5V95.2M574.5 86.5V102.5M574.5 89.0V95.3M574.5 89.2V111.4M575.5 91.3V102.0M575.5 92.7V104.6M575.5 77.4V82.4M575.5 89.9V101.6M575.5 91.1V93.0M576.5 94.6V105.8M576.5 85.9V93.6M576.5 92.1V94.0M576.5 93.2V102.6M576.5 88.5V89.1M577.5 77.8V92.8M577.5 77.4V90.7M577.5 88.4V91.0M577.5 90.8V105.2M577.5 90.9V96.3M578.5 94.0V95.5M578.5 101.4V111.6M578.5 96.7V113.0M578.5 85.9V108.6M578.5 90.8V99.5M579.5 79.4V108.5M579.5 72.5V108.1M579.5 87.6V97.3M579.5 91.1V101.6M579.5 88.4V98.7M580.5 85.1V99.1M580.5 81.7V118.3M580.5 69.8V82.2M580.5 94.1V104.2M580.5 92.8V106.6M581.5 100.7V106.9M581.5 79.8V104.8M581.5 96.1V114.2M581.5 78.8V87.2M581.5 87.9V92.3M582.5 102.3V104.3M582.5 72.9V88.0M582.5 93.2V97.9M582.5 69.3V86.5M582.5 85.4V106.8M583.5 89.3V108.7M583.5 93.2V97.9M583.5 85.4V90.2M583.5 93.7V102.7M583.5 88.0V122.0M584.5 76.8V92.9M584.5 100.1V110.3M584.5 87.8V95.3M584.5 88.4V94.5M584.5 89.0V102.0M585.5 84.1V91.5M585.5 87.1V88.4M585.5 92.0V99.9M585.5 87.4V103.3M585.5 83.3V89.4M586.5 99.8V105.9M586.5 93.3V96.9M586.5 90.3V101.1M586.5 84.1V93.0M586.5 88.4V93.5M587.5 81.8V90.8M587.5 84.8V87.2M587.5 81.8V87.6M587.5 92.5V107.6M587.5 78.1V104.7M588.5 77.2V90.6M588.5 91.5V93.2M588.5 92.2V102.3M588.5 74.5V77.8M588.5 92.7V103.0M589.5 87.9V94.5M589.5 92.6V92.6M589.5 94.5V100.1M589.5 90.2V99.4M589.5 101.4V111.4M590.5 86.4V89.6M590.5 92.2V101.3M590.5 78.7V90.0M590.5 92.0V95.6M590.5 91.1V95.3M591.5 91.8V98.8M591.5 88.1V104.4M591.5 86.2V88.0M591.5 95.3V98.4M591.5 90.2V97.8M592.5 90.9V94.3M592.5 91.2V91.8M592.5 86.7V88.3M592.5 85.9V88.6M592.5 83.0V94.7M593.5 80.8V93.5M593.5 86.7V89.2M593.5 79.8V98.2M593.5 74.2V95.5M593.5 83.9V101.2M594.5 85.6V92.0M594.5 82.7V86.4M594.5 91.2V95.2M594.5 94.7V107.0M594.5 88.4V89.2M595.5 88.7V91.0M595.5 80.9V97.7M595.5 88.1V88.8M595.5 84.7V89.6M595.5 88.5V102.1M596.5 84.8V93.2M596.5 94.1V97.2M596.5 85.0V93.0M596.5 84.5V94.5M596.5 85.1V86.0M597.5 90.0V95.4M597.5 86.7V95.9M597.5 83.9V90.3M597.5 90.1V95.6M597.5 90.5V96.4M598.5 80.3V101.4M598.5 86.5V98.6M598.5 94.9V95.9M598.5 92.1V99.2M598.5 91.1V99.4M599.5 82.4V103.2M599.5 85.0V95.3M599.5 79.9V100.1M599.5 89.0V104.5M599.5 86.9V95.4M600.5 85.5V90.1M600.5 92.2V100.0M600.5 84.9V96.7M600.5 73.1V100.4M600.5 82.4V85.4M601.5 90.6V96.5M601.5 87.2V103.9M601.5 89.0V98.1M601.5 89.4V98.3M601.5 79.8V85.3M602.5 85.1V91.1M602.5 93.7V107.9M602.5 85.8V97.1M602.5 88.3V88.9M602.5 77.6V95.1M603.5 91.5V111.7M603.5 84.7V91.8M603.5 95.9V101.9M603.5 84.8V95.3M603.5 86.3V94.0M604.5 90.3V96.0M604.5 100.2V102.6M604.5 87.6V115.8M604.5 90.0V99.2M604.5 97.8V99.5M605.5 98.2V101.8M605.5 90.1V92.4M605.5 84.0V91.1M605.5 74.9V88.3M605.5 91.3V101.2M606.5 89.2V98.3M606.5 90.2V98.5M606.5 98.9V101.1M606.5 77.3V99.7M606.5 83.5V86.1M607.5 70.6V84.8M607.5 77.3V87.6M607.5 79.9V82.0M607.5 71.2V77.3M607.5 86.3V102.3M608.5 79.7V97.1M608.5 74.6V108.6M608.5 74.2V94.7M608.5 94.3V107.4M608.5 84.4V93.5M609.5 96.2V101.4M609.5 86.5V96.3M609.5 89.6V100.9M609.5 91.1V103.8M609.5 95.2V99.1M610.5 95.7V102.7M610.5 83.2V104.8M610.5 91.5V96.2M610.5 86.4V88.7M610.5 85.1V97.7M611.5 84.2V93.4M611.5 80.5V83.4M611.5 85.3V107.9M611.5 77.3V80.3M611.5 79.2V88.5M612.5 91.6V94.4M612.5 83.3V104.5M612.5 81.5V103.5M612.5 79.4V84.0M612.5 84.4V101.3M613.5 96.4V101.8M613.5 92.4V102.2M613.5 86.4V91.5M613.5 78.5V85.4M613.5 82.2V91.1M614.5 98.7V101.9M614.5 95.0V97.2M614.5 94.8V104.4M614.5 87.1V109.9M614.5 91.4V98.7M615.5 81.6V100.6M615.5 96.0V105.4M615.5 97.6V104.6M615.5 92.3V106.2M615.5 88.2V101.8M616.5 92.5V96.6M616.5 83.4V85.3M616.5 92.9V94.1M616.5 85.4V105.8M616.5 86.1V118.0M617.5 89.3V95.4M617.5 95.2V98.0M617.5 95.9V101.3M617.5 90.4V114.0M617.5 82.0V101.2M618.5 88.7V96.2M618.5 77.4V89.5M618.5 88.7V91.5M618.5 97.3V102.2M618.5 83.4V86.7M619.5 98.2V102.6M619.5 91.0V97.8M619.5 90.1V97.8M619.5 74.2V102.2M619.5 92.7V103.8M620.5 105.4V110.4M620.5 101.8V103.4M620.5 95.2V96.2M620.5 92.0V97.2M620.5 93.1V109.6M621.5 84.0V91.8M621.5 81.8V102.4M621.5 83.6V98.4M621.5 86.3V94.1M621.5 95.4V103.9M622.5 97.0V97.1M622.5 86.0V112.0M622.5 76.6V99.5M622.5 85.3V91.6M622.5 90.0V104.7M623.5 83.9V101.1M623.5 93.2V106.6M623.5 73.9V98.6M623.5 86.4V86.5M623.5 91.2V101.8M624.5 88.5V89.3M624.5 87.0V90.5M624.5 99.1V102.0M624.5 88.7V98.0M624.5 85.1V108.1M625.5 87.1V91.3M625.5 82.1V98.7M625.5 95.9V99.7M625.5 92.0V98.8M625.5 85.8V95.6M626.5 87.9V96.4M626.5 76.6V97.9M626.5 88.3V93.8M626.5 95.6V97.2M626.5 96.5V98.1M627.5 101.2V102.0M627.5 85.8V94.8M627.5 88.1V93.9M627.5 82.0V92.1M627.5 84.7V87.6M628.5 89.8V97.8M628.5 92.4V92.5M628.5 81.3V99.2M628.5 95.3V97.7M628.5 92.5V93.8M629.5 96.7V102.9M629.5 81.4V87.2M629.5 90.5V93.3M629.5 88.3V99.4M629.5 92.3V97.3M630.5 97.5V105.0M630.5 93.8V94.8M630.5 97.4V106.6M630.5 94.5V102.8M630.5 91.1V99.8M631.5 87.2V93.8M631.5 90.9V93.8M631.5 81.4V98.7M631.5 91.8V96.7M631.5 87.5V95.7M632.5 94.5V97.6M632.5 89.3V97.5M632.5 89.1V96.2M632.5 96.4V100.1M632.5 93.4V97.2M633.5 95.9V101.5M633.5 90.8V95.9M633.5 85.6V89.8M633.5 94.3V94.9M633.5 85.8V95.4M634.5 94.4V95.6M634.5 85.4V92.1M634.5 90.9V95.1M634.5 92.2V97.1M634.5 92.2V93.6M635.5 87.4V99.1M635.5 94.6V95.1M635.5 92.2V98.8M635.5 89.4V96.4M635.5 85.1V89.6M636.5 96.5V97.3M636.5 79.7V101.7M636.5 95.6V97.4M636.5 93.1V97.6M636.5 92.8V108.1M637.5 71.6V85.9M637.5 81.4V93.3M637.5 90.4V91.1M637.5 87.5V98.9M637.5 87.8V114.0M638.5 96.7V97.3M638.5 90.6V92.8M638.5 69.2V102.9M638.5 90.9V111.9M638.5 69.1V73.3M639.5 89.9V97.8M639.5 77.4V93.9M639.5 87.2V103.8M639.5 85.6V92.2M639.5 84.5V101.1M640.5 96.1V106.3M640.5 95.0V96.1M640.5 103.5V114.4M640.5 100.4V101.4M640.5 87.5V114.4M641.5 83.7V106.9M641.5 89.8V92.6M641.5 87.7V90.4M641.5 86.9V94.5M641.5 84.4V101.0M642.5 77.2V78.6M642.5 85.3V95.1M642.5 80.0V104.0M642.5 76.7V101.1M642.5 87.4V109.1M643.5 83.9V98.0M643.5 77.3V107.8M643.5 101.5V109.6M643.5 99.6V110.8M643.5 87.3V88.5M644.5 84.6V92.8M644.5 85.8V97.5M644.5 79.0V100.4M644.5 92.2V102.9M644.5 78.6V91.5M645.5 86.4V88.4M645.5 72.4V77.9M645.5 93.1V96.7M645.5 72.0V92.3M645.5 103.2V104.1M646.5 93.7V112.0M646.5 84.0V106.9M646.5 81.7V88.8M646.5 76.2V105.6M646.5 97.9V98.0M647.5 89.5V105.0M647.5 72.7V97.5M647.5 86.2V93.6M647.5 92.5V97.9M647.5 79.4V86.3M648.5 90.7V98.9M648.5 88.5V103.7M648.5 88.0V96.3M648.5 89.2V104.9M648.5 86.6V89.7M649.5 90.6V94.5M649.5 99.7V109.4M649.5 87.2V90.9M649.5 86.8V92.3M649.5 85.9V98.3M650.5 78.3V100.8M650.5 70.2V83.8M650.5 87.9V111.0M650.5 91.4V91.5M650.5 83.6V92.8M651.5 82.9V107.1M651.5 97.7V102.0M651.5 89.3V91.3M651.5 76.1V107.6M651.5 87.0V91.2M652.5 93.9V107.8M652.5 91.3V94.2M652.5 91.9V93.3M652.5 88.3V92.5M652.5 96.2V100.7M653.5 93.7V103.9M653.5 83.5V91.1M653.5 84.3V95.4M653.5 82.6V96.2M653.5 93.6V102.3M654.5 96.6V101.4M654.5 86.1V115.4M654.5 88.0V92.8M654.5 84.7V98.3M654.5 98.8V107.0M655.5 98.2V106.4M655.5 79.4V101.0M655.5 83.3V86.5M655.5 92.2V94.8M655.5 91.7V101.3M656.5 81.5V90.9M656.5 94.4V99.2M656.5 70.3V104.0M656.5 93.8V94.1M656.5 97.7V121.2M657.5 86.8V95.8M657.5 78.1V91.3M657.5 99.1V100.4M657.5 95.9V106.5M657.5 89.6V89.9M658.5 109.3V111.2M658.5 85.4V103.6M658.5 71.6V87.6M658.5 75.3V92.3M658.5 89.9V97.7M659.5 92.4V109.5M659.5 94.6V106.4M659.5 96.0V111.7M659.5 89.6V97.5M659.5 82.7V106.2M660.5 85.4V89.5M660.5 86.5V110.3M660.5 87.1V109.9M660.5 99.2V109.5M660.5 95.7V114.0M661.5 83.8V94.5M661.5 89.5V90.4M661.5 87.2V97.6M661.5 89.9V101.7M661.5 83.8V102.4M662.5 85.7V109.2M662.5 83.9V114.3M662.5 86.0V93.7M662.5 93.3V103.4M662.5 91.3V104.0M663.5 89.9V99.5M663.5 89.3V107.5M663.5 84.9V86.8M663.5 109.9V110.1M663.5 75.6V106.1M664.5 91.0V102.2M664.5 99.4V104.5M664.5 92.6V98.2M664.5 100.9V106.7M664.5 88.1V93.1M665.5 101.2V111.4M665.5 86.3V89.4M665.5 83.6V104.6M665.5 88.2V96.2M665.5 94.3V104.6M666.5 86.0V94.2M666.5 89.5V95.7M666.5 92.0V93.9M666.5 93.5V94.9M666.5 80.9V93.7M667.5 95.7V105.7M667.5 82.9V87.2M667.5 91.8V109.2M667.5 95.0V96.4M667.5 92.3V98.1M668.5 90.7V100.2M668.5 90.2V100.2M668.5 84.7V105.0M668.5 97.6V101.1M668.5 95.5V115.5M669.5 97.5V99.9M669.5 93.7V96.1M669.5 103.7V118.5M669.5 98.8V101.5M669.5 81.8V82.4M670.5 91.5V96.0M670.5 87.9V90.7M670.5 100.2V103.9M670.5 84.2V90.3M670.5 83.4V96.3M671.5 84.5V95.6M671.5 89.5V97.9M671.5 88.9V95.1M671.5 66.1V102.8M671.5 90.7V93.4M672.5 66.6V86.9M672.5 92.3V92.9M672.5 87.7V97.0M672.5 77.7V107.0M672.5 98.9V114.6M673.5 102.1V104.5M673.5 80.7V84.4M673.5 82.5V107.1M673.5 83.3V98.3M673.5 87.1V113.2M674.5 97.9V105.2M674.5 92.5V100.9M674.5 88.0V88.1M674.5 91.5V91.7M674.5 91.6V106.7M675.5 84.0V97.0M675.5 104.5V105.7M675.5 88.0V102.1M675.5 93.5V99.5M675.5 88.2V99.5M676.5 94.6V98.2M676.5 90.4V95.0M676.5 94.3V96.2M676.5 88.1V93.5M676.5 92.5V106.2M677.5 84.7V90.7M677.5 89.1V95.7M677.5 97.2V100.0M677.5 95.0V101.1M677.5 88.0V91.5M678.5 89.6V94.2M678.5 86.7V90.1M678.5 84.0V101.5M678.5 94.7V98.9M678.5 96.1V96.1M679.5 85.8V94.2M679.5 101.1V102.4M679.5 95.3V107.2M679.5 106.6V112.5M679.5 100.6V102.9M680.5 92.4V105.4M680.5 89.2V90.4M680.5 88.5V102.9M680.5 93.7V94.1M680.5 91.8V94.7M681.5 83.5V103.6M681.5 80.0V104.4M681.5 93.0V101.1M681.5 94.1V106.9M681.5 92.1V100.1M682.5 95.9V100.1M682.5 98.7V102.1M682.5 82.2V92.6M682.5 90.8V93.5M682.5 97.0V104.1M683.5 96.6V99.5M683.5 72.5V101.8M683.5 91.5V114.5M683.5 98.2V127.7M683.5 109.9V113.4M684.5 75.4V112.2M684.5 88.8V101.0M684.5 86.2V96.0M684.5 84.7V87.6M684.5 88.1V101.5M685.5 89.7V108.8M685.5 88.2V91.0M685.5 81.5V92.0M685.5 92.3V104.4M685.5 62.3V100.3M686.5 97.1V112.0M686.5 86.6V99.6M686.5 75.4V109.5M686.5 106.6V108.5M686.5 63.4V89.7M687.5 90.7V119.5M687.5 78.2V89.3M687.5 71.9V108.0M687.5 85.8V109.8M687.5 82.1V95.5M688.5 77.8V99.5M688.5 102.9V104.1M688.5 86.9V95.5M688.5 71.3V96.2M688.5 96.4V120.4M689.5 89.3V97.6M689.5 85.2V89.3M689.5 78.0V97.3M689.5 84.5V103.6M689.5 83.1V108.1M690.5 93.8V95.6M690.5 82.4V95.0M690.5 97.3V107.8M690.5 95.0V98.7M690.5 91.7V98.5M691.5 85.2V99.4M691.5 102.5V104.2M691.5 94.2V105.9M691.5 92.9V94.3M691.5 97.5V98.2M692.5 102.9V105.4M692.5 92.8V109.2M692.5 102.9V109.1M692.5 87.2V102.5M692.5 86.8V87.4M693.5 93.3V103.3M693.5 89.9V95.3M693.5 95.3V103.3M693.5 93.7V94.0M693.5 82.9V104.0M694.5 83.8V88.1M694.5 82.5V92.9M694.5 82.7V83.1M694.5 88.1V99.4M694.5 93.8V98.9" stroke="#D95319" stroke-width="0.9" stroke-dasharray="1.4 0.7" stroke-opacity="0.52" fill="none"/>
<polyline points="413.0,71.9 415.4,72.5 417.7,73.4 420.1,74.5 422.5,75.8 424.8,77.2 427.2,78.6 429.6,79.8 431.9,80.9 434.3,81.7 436.7,82.6 439.0,83.4 441.4,84.2 443.8,84.8 446.1,85.2 448.5,85.7 450.8,86.2 453.2,86.6 455.6,86.9 457.9,87.1 460.3,87.4 462.7,87.6 465.0,87.8 467.4,88.0 469.8,88.1 472.1,88.3 474.5,88.4 476.9,88.5 479.2,88.5 481.6,88.4 484.0,88.2 486.3,88.1 488.7,88.0 491.1,88.0 493.4,88.1 495.8,88.2 498.2,88.4 500.5,88.5 502.9,88.7 505.3,88.9 507.6,89.1 510.0,89.3 512.4,89.5 514.7,89.7 517.1,90.0 519.4,90.2 521.8,90.5 524.2,90.8 526.5,91.1 528.9,91.3 531.3,91.5 533.6,91.6 536.0,91.8 538.4,91.9 540.7,91.9 543.1,91.8 545.5,91.8 547.8,91.7 550.2,91.7 552.6,91.7 554.9,91.8 557.3,91.8 559.7,91.9 562.0,92.0 564.4,92.2 566.8,92.3 569.1,92.5 571.5,92.6 573.9,92.7 576.2,92.6 578.6,92.4 581.0,92.1 583.3,91.9 585.7,91.7 588.1,91.5 590.4,91.4 592.8,91.3 595.1,91.2 597.5,91.2 599.9,91.2 602.2,91.4 604.6,91.6 607.0,91.7 609.3,91.9 611.7,92.1 614.1,92.4 616.4,92.7 618.8,93.0 621.2,93.3 623.5,93.5 625.9,93.6 628.3,93.7 630.6,93.8 633.0,93.9 635.4,94.0 637.7,94.0 640.1,94.0 642.5,94.0 644.8,94.0 647.2,94.0 649.6,94.1 651.9,94.2 654.3,94.3 656.7,94.4 659.0,94.5 661.4,94.5 663.7,94.6 666.1,94.6 668.5,94.7 670.8,94.7 673.2,94.7 675.6,94.7 677.9,94.7 680.3,94.7 682.7,94.7 685.0,94.8 687.4,94.9 689.8,95.0 692.1,95.1 694.5,95.2" stroke="#D95319" stroke-width="1.8" fill="none" stroke-linejoin="round"/>
<path d="M413.5 18.1V28.4M413.5 24.8V32.5M413.5 24.4V34.7M413.5 21.4V35.9M413.5 16.3V16.5M414.5 41.6V43.5M414.5 26.9V28.9M414.5 27.6V29.7M414.5 25.6V34.3M414.5 28.0V32.3M415.5 12.3V34.6M415.5 19.4V34.2M415.5 15.3V36.4M415.5 23.7V43.9M415.5 28.5V28.6M416.5 22.7V33.7M416.5 19.3V31.8M416.5 22.2V32.4M416.5 40.5V40.8M416.5 11.5V51.0M417.5 14.8V30.9M417.5 24.2V37.5M417.5 22.3V22.6M417.5 10.1V36.7M417.5 12.7V40.1M418.5 29.6V33.6M418.5 36.1V49.6M418.5 8.5V32.4M418.5 38.0V44.1M418.5 32.0V33.2M419.5 2.6V29.0M419.5 29.4V62.8M419.5 19.2V57.4M419.5 23.4V24.8M419.5 24.8V30.0M420.5 24.6V35.9M420.5 20.2V31.3M420.5 33.5V47.5M420.5 42.3V46.0M420.5 26.1V29.8M421.5 21.7V40.4M421.5 31.5V62.2M421.5 36.4V41.7M421.5 32.8V45.4M421.5 14.6V35.8M422.5 18.6V23.0M422.5 16.6V34.9M422.5 21.5V40.9M422.5 2.0V20.2M422.5 -6.4V37.1M423.5 28.8V51.3M423.5 31.8V37.9M423.5 32.0V34.3M423.5 35.4V36.3M423.5 27.1V27.3M424.5 37.6V52.1M424.5 35.3V47.3M424.5 34.2V38.3M424.5 34.7V38.9M424.5 18.8V32.2M425.5 37.8V38.6M425.5 40.5V45.9M425.5 26.2V28.2M425.5 37.3V55.2M425.5 27.9V52.5M426.5 34.5V51.7M426.5 23.6V25.5M426.5 27.0V32.9M426.5 41.9V55.7M426.5 19.2V36.1M427.5 41.7V43.9M427.5 28.1V45.9M427.5 30.7V50.5M427.5 31.1V42.4M427.5 39.2V39.9M428.5 36.5V40.9M428.5 35.5V41.1M428.5 32.6V37.2M428.5 22.4V27.7M428.5 31.4V47.5M429.5 32.5V53.8M429.5 41.9V45.4M429.5 32.0V44.7M429.5 34.3V34.7M429.5 35.1V49.2M430.5 31.9V39.9M430.5 35.2V51.8M430.5 46.4V46.8M430.5 31.8V41.3M430.5 31.6V34.3M431.5 43.3V44.7M431.5 25.6V40.5M431.5 32.3V43.1M431.5 21.5V29.5M431.5 39.2V55.1M432.5 35.1V47.4M432.5 35.9V56.3M432.5 11.3V44.2M432.5 40.6V45.2M432.5 36.6V41.5M433.5 21.6V41.0M433.5 31.8V44.8M433.5 36.1V40.0M433.5 24.1V40.6M433.5 41.3V58.5M434.5 23.0V37.8M434.5 27.4V35.3M434.5 29.4V31.5M434.5 27.1V28.5M434.5 13.5V34.4M435.5 39.6V58.2M435.5 27.3V45.2M435.5 29.3V41.4M435.5 28.7V34.7M435.5 42.0V48.3M436.5 22.7V29.5M436.5 21.6V38.4M436.5 21.9V33.6M436.5 43.4V50.7M436.5 32.7V40.1M437.5 31.5V36.3M437.5 25.7V44.8M437.5 40.1V43.6M437.5 25.7V28.1M437.5 28.7V52.9M438.5 31.9V39.7M438.5 29.9V41.1M438.5 20.4V48.2M438.5 30.8V52.6M438.5 38.7V39.8M439.5 28.9V42.3M439.5 32.4V41.2M439.5 20.4V34.1M439.5 23.9V43.6M439.5 28.8V39.4M440.5 34.2V42.9M440.5 20.9V54.8M440.5 15.3V46.1M440.5 38.8V46.0M440.5 21.1V39.3M441.5 38.5V39.5M441.5 21.1V30.5M441.5 11.8V39.7M441.5 42.6V45.2M441.5 40.6V41.3M442.5 34.2V37.8M442.5 39.1V39.4M442.5 35.7V46.9M442.5 26.8V36.6M442.5 38.3V60.5M443.5 31.5V36.9M443.5 38.0V41.8M443.5 36.1V50.0M443.5 43.4V48.3M443.5 38.6V41.9M444.5 35.0V54.5M444.5 34.9V44.5M444.5 36.5V43.9M444.5 51.6V53.8M444.5 30.6V42.8M445.5 35.2V40.3M445.5 32.0V42.0M445.5 37.7V43.9M445.5 43.7V50.6M445.5 29.4V43.6M446.5 30.0V39.7M446.5 45.7V46.1M446.5 31.9V40.9M446.5 34.5V36.1M446.5 32.0V52.3M447.5 41.8V44.5M447.5 25.5V58.6M447.5 41.7V49.1M447.5 34.4V40.5M447.5 49.8V60.2M448.5 34.8V56.2M448.5 40.5V53.9M448.5 31.3V35.3M448.5 33.5V44.2M448.5 40.6V43.2M449.5 40.0V47.4M449.5 39.4V41.6M449.5 13.9V29.5M449.5 24.3V39.2M449.5 31.0V39.2M450.5 30.5V39.0M450.5 54.7V57.8M450.5 31.2V41.9M450.5 47.6V48.4M450.5 37.4V41.1M451.5 28.5V46.9M451.5 37.1V52.6M451.5 39.3V52.9M451.5 31.3V51.4M451.5 48.1V54.6M452.5 40.8V55.2M452.5 45.0V45.5M452.5 48.0V50.0M452.5 38.0V41.2M452.5 21.1V44.1M453.5 39.8V40.9M453.5 37.7V56.8M453.5 24.3V49.7M453.5 23.9V28.3M453.5 35.7V39.9M454.5 34.1V45.7M454.5 40.6V60.7M454.5 24.9V43.4M454.5 47.0V69.8M454.5 15.5V45.9M455.5 55.1V57.4M455.5 27.0V55.5M455.5 41.7V51.1M455.5 46.5V53.8M455.5 37.5V47.2M456.5 8.9V33.3M456.5 31.9V43.9M456.5 39.7V43.3M456.5 33.6V33.9M456.5 35.4V40.2M457.5 29.7V46.1M457.5 26.5V50.2M457.5 37.7V66.1M457.5 39.1V45.0M457.5 37.3V44.8M458.5 28.3V46.5M458.5 28.5V54.1M458.5 50.5V63.6M458.5 27.2V32.4M458.5 45.4V48.3M459.5 26.6V69.4M459.5 21.0V42.8M459.5 46.2V47.6M459.5 32.2V48.8M459.5 46.0V52.9M460.5 58.5V77.1M460.5 26.9V36.4M460.5 27.1V59.1M460.5 32.4V36.8M460.5 28.8V49.1M461.5 29.1V54.3M461.5 34.7V44.3M461.5 18.5V42.9M461.5 36.5V37.7M461.5 35.4V43.4M462.5 39.2V41.7M462.5 27.5V35.7M462.5 54.0V56.3M462.5 26.1V39.5M462.5 43.4V45.7M463.5 32.9V47.1M463.5 17.7V46.5M463.5 34.9V42.7M463.5 29.2V35.1M463.5 25.9V47.3M464.5 40.0V41.5M464.5 32.3V55.5M464.5 45.5V52.8M464.5 45.8V64.4M464.5 41.1V43.3M465.5 36.2V40.4M465.5 42.7V58.1M465.5 39.5V44.3M465.5 33.0V42.5M465.5 26.7V37.4M466.5 27.3V30.3M466.5 43.3V59.8M466.5 27.6V46.3M466.5 39.7V41.5M466.5 41.8V50.7M467.5 38.2V45.0M467.5 38.9V49.1M467.5 37.7V47.0M467.5 45.1V54.0M467.5 26.8V60.2M468.5 40.5V40.6M468.5 30.1V47.1M468.5 34.2V45.8M468.5 45.8V52.2M468.5 37.9V40.3M469.5 36.9V39.0M469.5 39.4V43.6M469.5 43.0V43.2M469.5 38.6V47.6M469.5 37.4V46.2M470.5 40.4V50.6M470.5 35.8V39.4M470.5 39.9V45.4M470.5 36.2V42.2M470.5 40.0V40.5M471.5 33.7V46.6M471.5 40.0V43.3M471.5 37.1V49.5M471.5 40.6V51.2M471.5 38.9V45.8M472.5 40.6V46.8M472.5 40.3V43.1M472.5 36.4V44.2M472.5 29.1V33.0M472.5 45.2V58.0M473.5 35.0V41.2M473.5 37.9V42.8M473.5 45.7V47.0M473.5 36.4V41.8M473.5 34.9V46.8M474.5 40.1V42.1M474.5 39.5V44.2M474.5 37.0V37.0M474.5 40.6V43.9M474.5 40.2V42.1M475.5 41.9V45.6M475.5 39.1V47.7M475.5 39.2V42.3M475.5 39.0V39.0M475.5 36.7V46.1M476.5 51.0V53.6M476.5 45.3V56.0M476.5 32.5V41.7M476.5 42.7V48.7M476.5 27.1V34.1M477.5 36.3V39.0M477.5 41.1V41.5M477.5 38.6V46.2M477.5 38.3V43.9M477.5 43.3V43.3M478.5 35.1V52.3M478.5 31.3V41.0M478.5 44.3V48.3M478.5 33.8V43.4M478.5 29.7V47.1M479.5 39.7V46.1M479.5 38.2V49.2M479.5 54.0V56.6M479.5 40.9V48.3M479.5 37.8V41.3M480.5 49.2V50.7M480.5 28.3V33.7M480.5 47.6V54.5M480.5 31.6V56.9M480.5 38.9V44.7M481.5 31.1V41.3M481.5 40.7V41.5M481.5 41.2V43.7M481.5 42.5V48.4M481.5 42.4V47.5M482.5 34.8V47.6M482.5 32.4V39.7M482.5 37.3V42.3M482.5 38.5V45.8M482.5 42.8V48.0M483.5 33.4V44.3M483.5 35.7V54.5M483.5 39.3V43.6M483.5 46.2V52.4M483.5 42.1V48.2M484.5 36.9V46.8M484.5 30.6V35.5M484.5 41.9V49.0M484.5 48.0V49.7M484.5 33.8V38.7M485.5 24.7V36.5M485.5 33.8V45.5M485.5 43.9V48.5M485.5 38.9V39.1M485.5 34.9V40.8M486.5 47.2V64.5M486.5 48.2V50.7M486.5 39.6V53.8M486.5 42.1V49.8M486.5 36.2V42.9M487.5 39.3V39.7M487.5 37.8V42.9M487.5 41.1V49.9M487.5 32.1V47.7M487.5 30.0V30.5M488.5 39.5V50.1M488.5 38.8V54.3M488.5 41.1V45.3M488.5 40.5V41.7M488.5 42.9V50.8M489.5 30.7V44.9M489.5 48.7V52.9M489.5 36.3V51.7M489.5 33.4V50.2M489.5 36.3V37.7M490.5 32.3V41.0M490.5 31.0V44.8M490.5 41.6V50.3M490.5 38.2V42.9M490.5 22.7V47.7M491.5 41.3V42.8M491.5 53.2V60.0M491.5 37.5V38.6M491.5 39.0V39.5M491.5 46.4V48.1M492.5 38.8V53.5M492.5 40.2V56.6M492.5 38.1V47.1M492.5 49.3V60.7M492.5 43.4V58.6M493.5 34.8V40.1M493.5 21.5V54.7M493.5 42.6V46.9M493.5 40.2V50.6M493.5 44.1V47.3M494.5 35.2V44.4M494.5 38.1V48.0M494.5 41.2V61.5M494.5 42.2V43.5M494.5 36.6V50.4M495.5 46.5V47.9M495.5 37.3V48.2M495.5 49.0V52.9M495.5 39.0V41.3M495.5 43.4V53.2M496.5 25.7V49.9M496.5 37.5V39.2M496.5 37.3V40.9M496.5 49.7V54.4M496.5 40.6V43.6M497.5 35.9V43.4M497.5 31.6V52.5M497.5 41.2V51.0M497.5 36.5V40.2M497.5 48.4V54.2M498.5 40.7V43.8M498.5 46.0V48.8M498.5 26.9V61.0M498.5 32.6V33.6M498.5 49.5V57.4M499.5 28.2V32.5M499.5 25.3V34.2M499.5 34.9V38.2M499.5 32.9V39.7M499.5 22.9V59.2M500.5 30.4V38.0M500.5 20.2V56.7M500.5 44.0V57.6M500.5 36.8V65.1M500.5 36.6V55.4M501.5 33.7V67.5M501.5 34.6V58.7M501.5 35.4V46.7M501.5 39.1V53.6M501.5 28.7V50.1M502.5 33.3V43.3M502.5 47.8V50.4M502.5 37.7V44.1M502.5 37.6V38.0M502.5 53.6V59.4M503.5 41.9V56.7M503.5 29.0V49.9M503.5 42.5V62.6M503.5 46.8V47.0M503.5 44.4V45.7M504.5 46.7V52.6M504.5 30.8V37.6M504.5 41.6V53.4M504.5 36.4V50.1M504.5 48.6V51.9M505.5 43.3V50.7M505.5 35.0V51.2M505.5 57.3V57.4M505.5 46.3V53.4M505.5 38.1V50.2M506.5 31.1V35.1M506.5 43.7V47.0M506.5 38.8V39.1M506.5 38.3V43.2M506.5 43.7V65.6M507.5 41.8V51.3M507.5 60.3V69.7M507.5 50.3V52.4M507.5 48.5V54.3M507.5 38.4V58.0M508.5 37.8V52.2M508.5 42.8V65.3M508.5 30.1V32.0M508.5 43.6V47.5M508.5 46.2V58.5M509.5 34.2V44.7M509.5 52.2V55.1M509.5 42.7V59.6M509.5 43.4V45.3M509.5 41.4V46.0M510.5 44.8V50.3M510.5 33.4V34.7M510.5 44.6V48.4M510.5 48.4V51.0M510.5 40.2V40.5M511.5 32.4V52.6M511.5 30.0V45.3M511.5 27.3V55.8M511.5 40.0V56.9M511.5 36.4V38.5M512.5 42.5V50.8M512.5 53.8V57.6M512.5 38.8V44.5M512.5 38.4V50.1M512.5 41.2V47.3M513.5 38.3V38.8M513.5 41.3V52.1M513.5 36.5V44.7M513.5 34.7V51.1M513.5 47.6V49.2M514.5 59.9V62.4M514.5 41.1V61.4M514.5 28.2V38.8M514.5 42.4V49.7M514.5 37.1V51.3M515.5 44.2V49.3M515.5 39.0V48.8M515.5 42.9V45.2M515.5 47.2V49.3M515.5 41.8V46.2M516.5 30.4V60.1M516.5 44.4V44.7M516.5 39.2V44.8M516.5 39.6V61.3M516.5 30.8V39.2M517.5 47.1V47.2M517.5 50.5V54.4M517.5 33.3V51.5M517.5 46.2V48.9M517.5 34.7V52.3M518.5 34.3V34.8M518.5 38.5V45.9M518.5 44.1V48.2M518.5 36.7V51.0M518.5 28.0V66.2M519.5 46.5V49.4M519.5 36.8V47.8M519.5 41.4V42.5M519.5 45.8V48.8M519.5 45.2V46.7M520.5 48.1V53.4M520.5 33.5V50.5M520.5 43.9V62.2M520.5 47.7V49.6M520.5 46.5V47.3M521.5 42.1V44.4M521.5 47.4V55.1M521.5 42.8V48.4M521.5 40.7V44.8M521.5 31.2V59.8M522.5 49.1V50.8M522.5 38.4V44.3M522.5 47.0V47.8M522.5 50.7V64.8M522.5 52.9V55.3M523.5 51.3V54.2M523.5 38.4V49.9M523.5 46.1V50.4M523.5 47.8V76.6M523.5 51.1V56.2M524.5 39.8V58.2M524.5 21.7V50.4M524.5 41.4V56.4M524.5 52.4V56.3M524.5 32.1V49.7M525.5 47.7V52.7M525.5 42.5V44.1M525.5 45.5V46.8M525.5 42.9V55.0M525.5 42.8V50.3M526.5 31.4V40.9M526.5 41.5V49.0M526.5 42.3V48.5M526.5 39.0V57.9M526.5 41.2V57.6M527.5 33.0V49.1M527.5 39.8V47.3M527.5 34.3V50.5M527.5 51.6V52.8M527.5 52.0V52.9M528.5 35.1V38.3M528.5 49.2V57.6M528.5 42.2V57.5M528.5 31.0V50.5M528.5 43.1V55.9M529.5 39.1V45.7M529.5 21.6V34.7M529.5 33.9V51.2M529.5 55.4V57.0M529.5 38.5V44.7M530.5 36.8V57.9M530.5 29.6V48.1M530.5 36.0V52.4M530.5 36.6V42.1M530.5 39.3V44.4M531.5 45.5V47.0M531.5 41.2V44.4M531.5 44.2V53.0M531.5 45.6V45.7M531.5 24.8V40.9M532.5 49.6V55.9M532.5 45.3V46.8M532.5 37.9V68.7M532.5 26.1V49.9M532.5 42.5V55.6M533.5 34.5V54.1M533.5 41.0V70.9M533.5 49.1V56.7M533.5 53.1V63.8M533.5 44.6V48.8M534.5 47.6V49.8M534.5 36.6V43.3M534.5 25.4V46.6M534.5 52.5V55.9M534.5 37.3V49.8M535.5 35.9V50.2M535.5 43.3V48.7M535.5 37.5V46.0M535.5 41.2V59.2M535.5 47.1V57.4M536.5 43.1V49.0M536.5 45.7V46.9M536.5 37.7V48.9M536.5 43.2V46.6M536.5 59.4V59.6M537.5 51.0V63.6M537.5 49.0V52.2M537.5 50.4V63.1M537.5 43.3V46.9M537.5 44.6V46.1M538.5 59.0V61.1M538.5 44.0V48.5M538.5 43.1V50.7M538.5 35.6V42.3M538.5 54.7V59.6M539.5 38.3V38.4M539.5 36.3V53.0M539.5 39.7V64.0M539.5 28.0V32.3M539.5 47.7V59.2M540.5 43.7V57.0M540.5 35.6V47.8M540.5 43.4V47.7M540.5 48.6V55.4M540.5 39.9V42.1M541.5 38.3V54.1M541.5 40.3V55.9M541.5 45.7V49.3M541.5 42.3V46.4M541.5 49.9V60.1M542.5 32.1V53.2M542.5 47.2V52.1M542.5 40.7V43.0M542.5 49.7V55.3M542.5 40.9V46.4M543.5 45.2V52.9M543.5 46.0V46.8M543.5 44.7V51.8M543.5 30.0V41.6M543.5 51.1V51.8M544.5 48.3V53.7M544.5 38.0V59.9M544.5 39.9V42.9M544.5 53.2V54.2M544.5 42.3V45.1M545.5 53.9V56.5M545.5 42.8V54.0M545.5 50.1V51.0M545.5 40.8V51.7M545.5 46.0V52.1M546.5 45.9V54.1M546.5 49.5V56.8M546.5 42.2V46.6M546.5 36.7V45.4M546.5 47.8V56.6M547.5 46.4V50.6M547.5 41.5V42.9M547.5 42.0V46.8M547.5 45.1V57.1M547.5 41.1V45.6M548.5 51.9V52.6M548.5 49.9V57.1M548.5 46.1V48.4M548.5 50.5V51.2M548.5 47.2V53.2M549.5 36.5V49.7M549.5 31.4V40.0M549.5 44.9V55.7M549.5 47.3V48.8M549.5 36.5V52.0M550.5 35.9V49.0M550.5 45.2V45.8M550.5 46.2V58.6M550.5 40.9V42.3M550.5 49.6V56.8M551.5 33.0V48.4M551.5 42.5V43.3M551.5 37.3V41.5M551.5 45.9V53.7M551.5 39.1V64.7M552.5 38.2V51.2M552.5 33.9V40.4M552.5 35.6V38.1M552.5 37.6V47.6M552.5 37.8V43.7M553.5 29.3V44.0M553.5 41.5V46.8M553.5 42.4V46.3M553.5 41.0V45.8M553.5 40.0V46.4M554.5 56.6V57.3M554.5 49.2V50.7M554.5 31.8V54.4M554.5 41.8V49.2M554.5 46.7V58.5M555.5 44.5V59.8M555.5 41.7V44.8M555.5 40.0V51.2M555.5 54.5V54.9M555.5 43.8V55.6M556.5 33.8V38.6M556.5 32.0V42.1M556.5 44.5V62.5M556.5 32.1V58.4M556.5 45.9V59.1M557.5 51.4V61.6M557.5 42.1V49.5M557.5 45.7V49.5M557.5 46.5V47.9M557.5 38.5V51.3M558.5 36.0V58.9M558.5 24.0V34.6M558.5 37.7V45.5M558.5 44.5V61.8M558.5 48.3V63.9M559.5 36.7V66.0M559.5 52.8V54.2M559.5 37.3V56.2M559.5 40.2V49.1M559.5 42.7V57.6M560.5 59.3V69.1M560.5 52.1V55.8M560.5 49.1V55.9M560.5 58.7V60.2M560.5 44.9V56.3M561.5 47.9V51.9M561.5 41.8V72.8M561.5 40.0V64.0M561.5 39.4V50.0M561.5 46.9V53.8M562.5 36.6V38.0M562.5 35.1V41.2M562.5 26.1V50.8M562.5 49.2V50.9M562.5 49.4V64.4M563.5 35.5V37.1M563.5 44.5V50.8M563.5 41.2V57.7M563.5 45.0V46.1M563.5 47.4V55.5M564.5 31.2V39.5M564.5 46.6V48.0M564.5 40.4V46.5M564.5 46.0V46.9M564.5 40.1V50.2M565.5 42.6V45.1M565.5 43.5V57.6M565.5 45.9V47.4M565.5 55.3V64.2M565.5 44.7V53.5M566.5 50.2V55.0M566.5 52.3V52.3M566.5 47.2V51.3M566.5 44.4V47.3M566.5 40.8V55.6M567.5 39.2V56.9M567.5 47.5V51.4M567.5 46.4V49.4M567.5 38.8V56.7M567.5 38.4V50.4M568.5 48.9V49.7M568.5 40.1V56.7M568.5 46.9V57.2M568.5 45.8V55.8M568.5 44.6V65.1M569.5 44.1V52.9M569.5 45.1V46.3M569.5 47.1V55.7M569.5 42.4V42.8M569.5 48.6V52.6M570.5 48.0V53.9M570.5 39.5V45.8M570.5 40.0V47.9M570.5 43.6V43.8M570.5 48.3V52.5M571.5 45.7V49.4M571.5 53.0V53.7M571.5 42.1V54.9M571.5 40.9V49.6M571.5 47.7V51.9M572.5 43.2V48.2M572.5 49.6V57.8M572.5 52.6V59.4M572.5 50.0V59.5M572.5 35.3V54.9M573.5 52.4V53.8M573.5 42.7V47.6M573.5 42.1V50.1M573.5 47.1V47.4M573.5 49.8V54.5M574.5 45.7V52.8M574.5 41.8V56.6M574.5 40.8V45.1M574.5 37.5V47.8M574.5 45.5V54.4M575.5 36.0V38.8M575.5 37.7V47.3M575.5 36.6V39.4M575.5 50.6V50.9M575.5 47.6V54.3M576.5 42.1V43.6M576.5 37.6V44.9M576.5 36.7V48.8M576.5 37.8V57.3M576.5 41.3V56.1M577.5 45.2V52.0M577.5 44.0V56.2M577.5 39.2V53.6M577.5 50.6V50.7M577.5 52.6V53.4M578.5 42.0V49.2M578.5 51.6V58.0M578.5 45.7V56.9M578.5 46.4V56.3M578.5 56.1V56.7M579.5 50.2V51.0M579.5 46.1V49.4M579.5 52.4V54.1M579.5 41.8V55.0M579.5 44.3V54.8M580.5 38.7V41.6M580.5 29.8V43.1M580.5 33.2V47.4M580.5 29.2V43.9M580.5 43.5V60.3M581.5 49.8V58.2M581.5 25.7V43.5M581.5 48.6V54.2M581.5 49.3V55.1M581.5 44.3V48.5M582.5 44.3V52.2M582.5 45.0V55.9M582.5 51.9V53.2M582.5 45.6V52.9M582.5 27.2V52.8M583.5 51.0V52.8M583.5 42.6V59.1M583.5 43.8V46.0M583.5 49.3V56.8M583.5 51.5V66.2M584.5 54.3V57.0M584.5 46.1V50.6M584.5 45.9V52.7M584.5 36.8V44.7M584.5 49.8V59.7M585.5 47.6V58.6M585.5 44.6V50.4M585.5 46.3V56.6M585.5 48.0V49.0M585.5 44.5V44.7M586.5 51.8V56.0M586.5 47.7V55.4M586.5 29.9V47.4M586.5 20.4V57.2M586.5 51.1V57.1M587.5 50.2V53.1M587.5 50.5V51.0M587.5 37.9V45.8M587.5 44.5V56.1M587.5 50.0V50.2M588.5 47.0V48.1M588.5 44.2V47.5M588.5 47.4V53.1M588.5 45.8V46.1M588.5 41.7V49.6M589.5 42.7V51.6M589.5 44.9V44.9M589.5 48.7V50.5M589.5 46.1V48.2M589.5 43.4V50.5M590.5 47.2V56.0M590.5 48.7V53.1M590.5 42.3V44.2M590.5 42.7V54.1M590.5 40.0V43.5M591.5 42.9V54.1M591.5 49.8V53.0M591.5 45.0V51.6M591.5 43.6V53.5M591.5 47.6V47.7M592.5 46.5V52.8M592.5 50.2V51.6M592.5 46.6V50.1M592.5 38.8V44.9M592.5 44.1V53.8M593.5 44.5V50.1M593.5 49.0V51.1M593.5 49.1V50.5M593.5 50.7V56.4M593.5 45.2V46.9M594.5 41.9V49.6M594.5 44.0V48.0M594.5 48.9V49.5M594.5 43.6V49.5M594.5 43.7V51.3M595.5 43.2V45.2M595.5 50.7V51.1M595.5 37.4V51.5M595.5 40.4V46.5M595.5 47.8V52.4M596.5 46.9V53.7M596.5 45.8V46.0M596.5 39.9V47.5M596.5 46.7V48.0M596.5 43.8V49.3M597.5 49.7V56.6M597.5 38.5V54.9M597.5 29.2V37.7M597.5 47.7V58.0M597.5 31.7V48.8M598.5 44.4V46.7M598.5 38.5V51.9M598.5 48.2V51.0M598.5 52.7V53.0M598.5 44.6V47.1M599.5 37.6V45.6M599.5 49.9V52.9M599.5 53.2V54.7M599.5 50.8V61.7M599.5 48.3V50.6M600.5 56.6V64.2M600.5 35.8V55.6M600.5 52.9V62.2M600.5 48.4V48.7M600.5 35.6V39.9M601.5 33.7V39.0M601.5 44.9V50.9M601.5 48.4V49.8M601.5 44.0V45.8M601.5 49.7V52.8M602.5 32.7V61.6M602.5 44.4V65.6M602.5 31.1V40.1M602.5 42.8V54.5M602.5 29.6V63.4M603.5 29.7V42.1M603.5 50.3V62.2M603.5 37.3V41.8M603.5 42.4V52.1M603.5 44.3V55.2M604.5 38.5V53.3M604.5 55.4V67.2M604.5 44.1V44.7M604.5 39.4V58.8M604.5 43.3V53.2M605.5 41.0V44.8M605.5 38.9V43.3M605.5 44.7V55.1M605.5 53.2V68.2M605.5 54.2V56.5M606.5 45.4V46.2M606.5 44.7V49.5M606.5 37.4V55.1M606.5 34.1V43.2M606.5 47.7V56.5M607.5 42.3V59.1M607.5 44.6V63.6M607.5 41.2V42.6M607.5 44.3V51.1M607.5 49.3V50.1M608.5 41.3V52.8M608.5 49.2V58.4M608.5 37.2V40.8M608.5 47.3V53.4M608.5 36.3V58.1M609.5 48.1V51.0M609.5 38.0V46.6M609.5 31.9V46.5M609.5 43.9V60.8M609.5 31.8V56.0M610.5 36.1V55.8M610.5 50.0V51.6M610.5 43.9V44.8M610.5 47.6V47.8M610.5 35.8V41.1M611.5 40.4V47.6M611.5 40.0V53.1M611.5 39.6V42.8M611.5 49.6V50.4M611.5 42.9V48.0M612.5 50.1V56.9M612.5 36.4V62.4M612.5 47.3V57.5M612.5 38.7V45.3M612.5 40.4V42.7M613.5 54.3V59.6M613.5 40.8V51.0M613.5 42.0V46.3M613.5 41.4V48.9M613.5 38.1V51.2M614.5 39.2V59.4M614.5 47.4V50.0M614.5 49.2V60.4M614.5 46.2V51.7M614.5 44.5V56.8M615.5 39.3V50.1M615.5 45.7V55.8M615.5 49.7V52.6M615.5 38.7V57.0M615.5 34.5V56.7M616.5 42.5V58.4M616.5 39.2V45.0M616.5 49.0V52.2M616.5 39.2V43.5M616.5 43.5V47.6M617.5 41.4V52.2M617.5 44.7V49.9M617.5 47.4V48.8M617.5 46.9V48.9M617.5 35.0V54.3M618.5 46.4V46.7M618.5 32.4V49.5M618.5 43.3V46.4M618.5 46.0V49.0M618.5 49.0V63.0M619.5 43.9V50.2M619.5 40.8V56.5M619.5 47.5V48.4M619.5 43.3V47.2M619.5 41.3V52.3M620.5 48.6V57.0M620.5 35.9V53.4M620.5 40.3V46.2M620.5 41.2V57.3M620.5 36.9V47.3M621.5 44.2V51.6M621.5 41.9V48.7M621.5 48.0V68.9M621.5 42.8V53.8M621.5 39.0V46.1M622.5 48.2V51.2M622.5 46.6V49.9M622.5 46.6V62.5M622.5 39.6V49.3M622.5 37.5V47.0M623.5 41.9V52.1M623.5 37.3V49.7M623.5 54.7V55.4M623.5 33.9V59.0M623.5 43.0V51.6M624.5 41.1V56.4M624.5 40.5V55.3M624.5 36.9V49.8M624.5 40.3V40.9M624.5 27.2V49.9M625.5 47.2V70.9M625.5 40.5V43.2M625.5 39.9V40.0M625.5 48.2V51.4M625.5 47.4V48.6M626.5 47.2V51.4M626.5 34.9V54.9M626.5 44.4V44.5M626.5 42.2V53.2M626.5 59.2V65.5M627.5 33.9V40.1M627.5 32.7V66.6M627.5 41.7V53.3M627.5 44.9V47.2M627.5 38.3V56.5M628.5 18.8V46.1M628.5 37.5V42.0M628.5 44.7V55.6M628.5 27.0V60.8M628.5 40.1V50.0M629.5 40.9V52.2M629.5 36.3V48.1M629.5 31.1V53.5M629.5 38.1V61.5M629.5 54.9V56.9M630.5 47.9V57.5M630.5 36.6V52.1M630.5 63.6V68.2M630.5 42.0V56.6M630.5 45.9V54.1M631.5 43.5V48.2M631.5 44.3V51.1M631.5 33.6V47.7M631.5 31.4V43.6M631.5 46.2V60.7M632.5 58.7V63.4M632.5 50.2V59.5M632.5 55.4V56.1M632.5 39.3V44.9M632.5 48.3V52.0M633.5 39.7V51.2M633.5 51.4V53.5M633.5 33.8V39.0M633.5 34.4V59.0M633.5 49.4V55.4M634.5 59.0V61.3M634.5 63.5V73.2M634.5 30.3V62.2M634.5 38.4V54.7M634.5 33.1V36.2M635.5 35.1V48.6M635.5 39.7V55.1M635.5 25.1V33.4M635.5 25.8V38.2M635.5 45.1V59.9M636.5 42.1V42.7M636.5 43.1V62.9M636.5 35.1V57.1M636.5 50.7V75.8M636.5 35.5V37.0M637.5 19.2V47.4M637.5 49.4V63.3M637.5 23.4V58.2M637.5 25.4V41.6M637.5 49.6V54.0M638.5 50.6V59.7M638.5 52.5V74.6M638.5 53.3V54.5M638.5 58.3V73.9M638.5 26.1V54.2M639.5 35.6V37.5M639.5 32.3V60.7M639.5 29.1V51.6M639.5 39.8V51.9M639.5 41.1V55.6M640.5 38.7V43.4M640.5 32.9V37.8M640.5 50.9V68.8M640.5 44.2V53.1M640.5 31.8V58.0M641.5 37.5V43.0M641.5 44.7V45.3M641.5 43.0V63.4M641.5 46.5V61.6M641.5 33.6V51.1M642.5 35.6V54.9M642.5 39.5V40.2M642.5 35.0V72.4M642.5 54.2V58.3M642.5 50.4V85.3M643.5 40.6V47.4M643.5 47.7V54.5M643.5 44.2V48.3M643.5 40.7V49.6M643.5 34.1V36.3M644.5 50.2V63.9M644.5 46.6V50.0M644.5 36.7V57.1M644.5 40.6V46.1M644.5 35.0V48.7M645.5 48.4V56.3M645.5 43.8V53.2M645.5 34.9V59.2M645.5 24.6V46.9M645.5 56.1V62.0M646.5 47.0V57.1M646.5 29.0V42.0M646.5 47.4V56.4M646.5 33.1V46.9M646.5 21.6V48.1M647.5 48.1V52.6M647.5 37.4V46.7M647.5 51.8V60.2M647.5 53.7V54.7M647.5 45.0V45.5M648.5 35.6V45.7M648.5 30.0V42.4M648.5 49.6V62.9M648.5 51.5V62.5M648.5 28.7V42.8M649.5 44.3V57.1M649.5 48.8V59.6M649.5 43.8V48.3M649.5 42.3V51.2M649.5 34.2V53.8M650.5 56.4V56.9M650.5 43.2V43.9M650.5 37.5V55.1M650.5 40.8V42.7M650.5 43.0V44.4M651.5 51.4V60.6M651.5 37.5V42.0M651.5 44.4V55.0M651.5 38.7V42.4M651.5 50.9V53.6M652.5 51.5V55.4M652.5 37.2V46.0M652.5 20.2V51.9M652.5 40.1V45.7M652.5 42.7V54.5M653.5 38.9V47.2M653.5 37.5V54.9M653.5 42.2V46.5M653.5 47.2V61.1M653.5 50.0V58.6M654.5 48.4V57.4M654.5 42.4V52.8M654.5 40.7V56.8M654.5 39.6V46.4M654.5 38.7V53.6M655.5 42.5V49.5M655.5 44.3V61.9M655.5 43.3V48.5M655.5 38.8V42.9M655.5 46.4V48.0M656.5 45.6V57.8M656.5 43.8V45.7M656.5 40.6V57.0M656.5 47.1V54.2M656.5 47.8V52.3M657.5 47.4V48.1M657.5 47.5V48.7M657.5 52.4V55.4M657.5 45.9V57.9M657.5 50.2V53.1M658.5 44.1V47.4M658.5 47.9V50.5M658.5 50.0V53.7M658.5 43.4V44.0M658.5 40.2V48.2M659.5 44.0V57.8M659.5 41.8V50.8M659.5 46.2V46.8M659.5 43.7V45.6M659.5 50.8V54.3M660.5 50.9V52.8M660.5 48.8V57.5M660.5 47.3V53.6M660.5 47.5V47.9M660.5 43.6V48.3M661.5 47.3V47.6M661.5 42.1V54.7M661.5 47.5V50.9M661.5 43.8V49.7M661.5 49.5V53.1M662.5 45.8V49.3M662.5 50.7V50.9M662.5 42.6V48.8M662.5 44.0V45.9M662.5 47.4V57.9M663.5 37.4V45.4M663.5 36.1V58.0M663.5 53.3V53.7M663.5 48.4V57.7M663.5 40.2V49.7M664.5 41.1V60.8M664.5 36.8V50.9M664.5 40.5V59.6M664.5 44.3V54.5M664.5 40.5V47.5M665.5 40.5V47.0M665.5 47.6V50.0M665.5 49.1V56.2M665.5 40.8V44.5M665.5 46.3V47.1M666.5 41.9V45.8M666.5 38.0V43.5M666.5 45.4V55.6M666.5 45.0V51.7M666.5 48.0V53.1M667.5 47.9V48.1M667.5 40.3V60.0M667.5 42.4V46.4M667.5 45.7V50.0M667.5 33.1V44.9M668.5 40.3V47.6M668.5 45.6V52.1M668.5 41.7V50.7M668.5 54.0V56.8M668.5 48.7V50.9M669.5 54.4V57.6M669.5 44.5V52.3M669.5 50.8V57.2M669.5 45.4V50.5M669.5 52.3V54.2M670.5 53.3V54.5M670.5 43.6V64.3M670.5 53.3V58.5M670.5 40.7V42.2M670.5 49.2V58.6M671.5 47.1V51.4M671.5 51.8V64.5M671.5 34.7V43.5M671.5 45.5V45.8M671.5 49.4V53.7M672.5 51.0V75.3M672.5 55.2V57.0M672.5 38.1V56.1M672.5 42.2V63.5M672.5 44.7V52.0M673.5 58.1V58.4M673.5 36.4V45.5M673.5 52.8V59.0M673.5 34.3V55.1M673.5 55.1V61.9M674.5 40.5V59.1M674.5 44.4V59.9M674.5 43.7V47.7M674.5 32.6V40.4M674.5 34.9V52.7M675.5 50.9V54.2M675.5 49.7V54.8M675.5 41.7V49.3M675.5 41.4V62.2M675.5 39.8V47.7M676.5 56.5V62.2M676.5 51.1V56.6M676.5 53.5V55.3M676.5 55.1V56.3M676.5 45.4V49.3M677.5 41.8V54.8M677.5 45.0V54.7M677.5 44.5V46.8M677.5 53.8V58.9M677.5 45.9V61.1M678.5 42.9V58.6M678.5 45.6V56.6M678.5 42.3V44.1M678.5 44.5V48.3M678.5 40.1V59.1M679.5 46.2V51.0M679.5 45.0V46.9M679.5 52.7V69.7M679.5 47.1V55.1M679.5 50.8V63.2M680.5 45.7V57.6M680.5 47.5V57.5M680.5 42.3V45.1M680.5 49.6V66.4M680.5 55.2V60.6M681.5 48.7V54.7M681.5 47.1V59.7M681.5 51.8V61.8M681.5 45.9V57.5M681.5 42.2V46.1M682.5 49.5V52.1M682.5 39.8V58.6M682.5 44.9V48.5M682.5 45.5V50.1M682.5 58.0V63.8M683.5 41.2V56.1M683.5 40.1V64.0M683.5 44.5V44.8M683.5 39.7V55.0M683.5 56.4V58.7M684.5 53.0V73.9M684.5 51.7V69.9M684.5 34.6V52.3M684.5 45.2V70.1M684.5 56.1V58.7M685.5 60.5V62.1M685.5 48.3V51.3M685.5 53.9V61.7M685.5 41.5V48.3M685.5 51.5V53.6M686.5 48.0V58.1M686.5 50.5V58.8M686.5 63.0V69.6M686.5 43.0V59.2M686.5 41.1V52.4M687.5 46.5V50.3M687.5 46.5V46.5M687.5 42.8V46.2M687.5 50.1V66.2M687.5 33.1V50.4M688.5 47.4V56.0M688.5 34.4V41.5M688.5 51.0V62.1M688.5 41.2V44.8M688.5 40.7V43.0M689.5 52.7V53.7M689.5 57.9V65.1M689.5 53.6V59.7M689.5 51.3V65.5M689.5 34.4V62.7M690.5 40.6V61.1M690.5 35.6V52.7M690.5 46.5V55.8M690.5 51.5V59.6M690.5 51.9V61.6M691.5 54.8V63.8M691.5 33.6V49.5M691.5 45.8V51.3M691.5 53.8V60.4M691.5 45.1V55.3M692.5 50.1V52.2M692.5 46.6V49.4M692.5 42.7V62.1M692.5 42.7V45.1M692.5 49.3V61.9M693.5 54.9V60.4M693.5 30.4V50.9M693.5 50.7V52.2M693.5 51.8V59.1M693.5 45.7V58.2M694.5 46.4V56.9M694.5 47.8V67.5M694.5 42.7V49.4M694.5 33.7V50.5M694.5 44.3V53.4" stroke="#0072BD" stroke-width="0.9" stroke-dasharray="1.4 0.7" stroke-opacity="0.58" fill="none"/>
<polyline points="413.0,28.8 415.4,29.5 417.7,30.6 420.1,31.8 422.5,32.9 424.8,34.0 427.2,35.1 429.6,36.1 431.9,37.0 434.3,37.8 436.7,38.6 439.0,39.3 441.4,39.7 443.8,40.0 446.1,40.3 448.5,40.5 450.8,40.7 453.2,40.8 455.6,41.0 457.9,41.1 460.3,41.3 462.7,41.4 465.0,41.6 467.4,41.7 469.8,41.9 472.1,42.1 474.5,42.3 476.9,42.4 479.2,42.6 481.6,42.7 484.0,42.9 486.3,43.0 488.7,43.2 491.1,43.5 493.4,43.8 495.8,44.2 498.2,44.6 500.5,44.9 502.9,45.1 505.3,45.3 507.6,45.5 510.0,45.7 512.4,45.9 514.7,46.1 517.1,46.3 519.4,46.5 521.8,46.6 524.2,46.7 526.5,46.8 528.9,46.9 531.3,47.0 533.6,47.0 536.0,47.0 538.4,47.0 540.7,47.0 543.1,47.0 545.5,47.0 547.8,47.0 550.2,47.0 552.6,47.0 554.9,47.0 557.3,47.0 559.7,47.0 562.0,47.2 564.4,47.4 566.8,47.6 569.1,47.9 571.5,48.1 573.9,48.2 576.2,48.3 578.6,48.4 581.0,48.5 583.3,48.5 585.7,48.5 588.1,48.5 590.4,48.5 592.8,48.4 595.1,48.2 597.5,48.0 599.9,47.8 602.2,47.6 604.6,47.4 607.0,47.3 609.3,47.2 611.7,47.1 614.1,47.0 616.4,46.9 618.8,46.9 621.2,46.9 623.5,46.9 625.9,46.9 628.3,47.1 630.6,47.2 633.0,47.4 635.4,47.5 637.7,47.6 640.1,47.7 642.5,47.8 644.8,47.9 647.2,48.0 649.6,48.2 651.9,48.3 654.3,48.4 656.7,48.6 659.0,48.7 661.4,48.9 663.7,49.0 666.1,49.2 668.5,49.4 670.8,49.6 673.2,49.9 675.6,50.1 677.9,50.3 680.3,50.6 682.7,50.8 685.0,51.1 687.4,51.3 689.8,51.6 692.1,51.8 694.5,52.0" stroke="#0072BD" stroke-width="1.8" fill="none" stroke-linejoin="round"/>
</g>
<path d="M409.9,8.5h3M699.7,8.5h-3M409.9,15.93h1.6M699.7,15.93h-1.6M409.9,23.36h1.6M699.7,23.36h-1.6M409.9,30.79h1.6M699.7,30.79h-1.6M409.9,38.22h1.6M699.7,38.22h-1.6M409.9,45.65h3M699.7,45.65h-3M409.9,53.08h1.6M699.7,53.08h-1.6M409.9,60.51h1.6M699.7,60.51h-1.6M409.9,67.94h1.6M699.7,67.94h-1.6M409.9,75.37h1.6M699.7,75.37h-1.6M409.9,82.8h3M699.7,82.8h-3M409.9,90.23h1.6M699.7,90.23h-1.6M409.9,97.66h1.6M699.7,97.66h-1.6M409.9,105.09h1.6M699.7,105.09h-1.6M409.9,112.52h1.6M699.7,112.52h-1.6M409.9,119.95h3M699.7,119.95h-3M409.9,127.38h1.6M699.7,127.38h-1.6M409.9,134.81h1.6M699.7,134.81h-1.6M409.9,142.24h1.6M699.7,142.24h-1.6M409.9,149.67h1.6M699.7,149.67h-1.6M409.9,157.1h3M699.7,157.1h-3M409.9,164.53h1.6M699.7,164.53h-1.6M409.9,171.96h1.6M699.7,171.96h-1.6M409.9,179.39h1.6M699.7,179.39h-1.6M409.9,186.82h1.6M699.7,186.82h-1.6M409.9,194.25h3M699.7,194.25h-3M409.9,201.68h1.6M699.7,201.68h-1.6M409.9,209.11h1.6M699.7,209.11h-1.6M409.9,216.54h1.6M699.7,216.54h-1.6M409.9,223.97h1.6M699.7,223.97h-1.6M409.9,231.4h3M699.7,231.4h-3M416.60,231.4v-3M416.60,8.5v3M423.68,231.4v-1.6M423.68,8.5v1.6M430.76,231.4v-1.6M430.76,8.5v1.6M437.83,231.4v-1.6M437.83,8.5v1.6M444.91,231.4v-3M444.91,8.5v3M451.99,231.4v-1.6M451.99,8.5v1.6M459.07,231.4v-1.6M459.07,8.5v1.6M466.14,231.4v-1.6M466.14,8.5v1.6M473.22,231.4v-3M473.22,8.5v3M480.30,231.4v-1.6M480.30,8.5v1.6M487.38,231.4v-1.6M487.38,8.5v1.6M494.45,231.4v-1.6M494.45,8.5v1.6M501.53,231.4v-3M501.53,8.5v3M508.61,231.4v-1.6M508.61,8.5v1.6M515.69,231.4v-1.6M515.69,8.5v1.6M522.76,231.4v-1.6M522.76,8.5v1.6M529.84,231.4v-3M529.84,8.5v3M536.92,231.4v-1.6M536.92,8.5v1.6M544.00,231.4v-1.6M544.00,8.5v1.6M551.07,231.4v-1.6M551.07,8.5v1.6M558.15,231.4v-3M558.15,8.5v3M565.23,231.4v-1.6M565.23,8.5v1.6M572.31,231.4v-1.6M572.31,8.5v1.6M579.38,231.4v-1.6M579.38,8.5v1.6M586.46,231.4v-3M586.46,8.5v3M593.54,231.4v-1.6M593.54,8.5v1.6M600.62,231.4v-1.6M600.62,8.5v1.6M607.69,231.4v-1.6M607.69,8.5v1.6M614.77,231.4v-3M614.77,8.5v3M621.85,231.4v-1.6M621.85,8.5v1.6M628.93,231.4v-1.6M628.93,8.5v1.6M636.00,231.4v-1.6M636.00,8.5v1.6M643.08,231.4v-3M643.08,8.5v3M650.16,231.4v-1.6M650.16,8.5v1.6M657.24,231.4v-1.6M657.24,8.5v1.6M664.31,231.4v-1.6M664.31,8.5v1.6M671.39,231.4v-3M671.39,8.5v3M678.47,231.4v-1.6M678.47,8.5v1.6M685.55,231.4v-1.6M685.55,8.5v1.6M692.62,231.4v-1.6M692.62,8.5v1.6M699.70,231.4v-3M699.70,8.5v3" stroke="#9c9c9c" stroke-width="0.8" fill="none"/>
<rect x="409.9" y="8.5" width="289.80000000000007" height="222.9" stroke="#9c9c9c" stroke-width="0.9" fill="none"/>
<rect x="527.5" y="0" width="131.5" height="11.6" fill="#fff"/>
<rect x="487" y="11.6" width="208" height="11" fill="#fff"/>
<path d="M530.7,4.8h3.2M536.8,4.8h3.2" stroke="#262626" stroke-width="0.9"/>
<text x="543.4" y="7.4" font-size="7.2" fill="#262626" stroke="none">Simulation Data</text>
<path d="M595,4.8H606" stroke="#262626" stroke-width="1.1"/>
<text x="607.7" y="7.4" font-size="7.2" fill="#262626" stroke="none">Moving Average</text>
<text x="490" y="18" font-size="5.5" fill="#262626" stroke="none">t<tspan font-size="5.5" dy="3.6">high</tspan></text>
<path d="M504.5,17.9h12" stroke="#0072BD" stroke-width="0.9"/>
<text x="517.5" y="20.7" font-size="7.2" fill="#262626" stroke="none">0.4 ns</text>
<path d="M540.5,17.9h12" stroke="#D95319" stroke-width="0.9"/>
<text x="552.7" y="20.7" font-size="7.2" fill="#262626" stroke="none">0.7 ns</text>
<path d="M576,17.9h12" stroke="#EDB120" stroke-width="0.9"/>
<text x="589.9" y="20.7" font-size="7.2" fill="#262626" stroke="none">1 ns</text>
<path d="M605.2,17.9h12" stroke="#7E2F8E" stroke-width="0.9"/>
<text x="618.7" y="20.7" font-size="7.2" fill="#262626" stroke="none">2 ns</text>
<path d="M634.8,17.9h12" stroke="#77AC30" stroke-width="0.9"/>
<text x="648.3" y="20.7" font-size="7.2" fill="#262626" stroke="none">3 ns</text>
<path d="M664.4,17.9h12" stroke="#4DBEEE" stroke-width="0.9"/>
<text x="677.9" y="20.7" font-size="7.2" fill="#262626" stroke="none">4 ns</text>
<text x="405.9" y="13.30" text-anchor="end" font-size="12.5" fill="#262626" stroke="#262626" stroke-width="0.2">2000</text>
<path d="M373.4,9.35h3.9" stroke="#262626" stroke-width="1.1"/>
<text x="405.9" y="50.45" text-anchor="end" font-size="12.5" fill="#262626" stroke="#262626" stroke-width="0.2">2100</text>
<path d="M373.4,46.50h3.9" stroke="#262626" stroke-width="1.1"/>
<text x="405.9" y="87.60" text-anchor="end" font-size="12.5" fill="#262626" stroke="#262626" stroke-width="0.2">2200</text>
<path d="M373.4,83.65h3.9" stroke="#262626" stroke-width="1.1"/>
<text x="405.9" y="124.75" text-anchor="end" font-size="12.5" fill="#262626" stroke="#262626" stroke-width="0.2">2300</text>
<path d="M373.4,120.80h3.9" stroke="#262626" stroke-width="1.1"/>
<text x="405.9" y="161.90" text-anchor="end" font-size="12.5" fill="#262626" stroke="#262626" stroke-width="0.2">2400</text>
<path d="M373.4,157.95h3.9" stroke="#262626" stroke-width="1.1"/>
<text x="405.9" y="199.05" text-anchor="end" font-size="12.5" fill="#262626" stroke="#262626" stroke-width="0.2">2500</text>
<path d="M373.4,195.10h3.9" stroke="#262626" stroke-width="1.1"/>
<text x="405.9" y="236.20" text-anchor="end" font-size="12.5" fill="#262626" stroke="#262626" stroke-width="0.2">2600</text>
<path d="M373.4,232.25h3.9" stroke="#262626" stroke-width="1.1"/>
<text x="416.60" y="246.8" text-anchor="middle" font-size="12.5" fill="#262626" stroke="#262626" stroke-width="0.2">1.4</text>
<text x="444.91" y="246.8" text-anchor="middle" font-size="12.5" fill="#262626" stroke="#262626" stroke-width="0.2">1.6</text>
<text x="473.22" y="246.8" text-anchor="middle" font-size="12.5" fill="#262626" stroke="#262626" stroke-width="0.2">1.8</text>
<text x="501.53" y="246.8" text-anchor="middle" font-size="12.5" fill="#262626" stroke="#262626" stroke-width="0.2">2</text>
<text x="529.84" y="246.8" text-anchor="middle" font-size="12.5" fill="#262626" stroke="#262626" stroke-width="0.2">2.2</text>
<text x="558.15" y="246.8" text-anchor="middle" font-size="12.5" fill="#262626" stroke="#262626" stroke-width="0.2">2.4</text>
<text x="586.46" y="246.8" text-anchor="middle" font-size="12.5" fill="#262626" stroke="#262626" stroke-width="0.2">2.6</text>
<text x="614.77" y="246.8" text-anchor="middle" font-size="12.5" fill="#262626" stroke="#262626" stroke-width="0.2">2.8</text>
<text x="643.08" y="246.8" text-anchor="middle" font-size="12.5" fill="#262626" stroke="#262626" stroke-width="0.2">3</text>
<text x="671.39" y="246.8" text-anchor="middle" font-size="12.5" fill="#262626" stroke="#262626" stroke-width="0.2">3.2</text>
<text x="699.70" y="246.8" text-anchor="middle" font-size="12.5" fill="#262626" stroke="#262626" stroke-width="0.2">3.4</text>
<text x="0" y="0" transform="translate(367.3,119.2) rotate(-90)" text-anchor="middle" font-size="13.6" fill="#262626" stroke="#262626" stroke-width="0.2">ΔPE (eV)</text>
<text x="555.5" y="263.2" text-anchor="middle" font-size="13.2" fill="#262626" stroke="#262626" stroke-width="0.2">Time (ns)</text>
<text x="351" y="16.4" font-size="12" font-weight="bold" fill="#111" stroke="#111" stroke-width="0.2">(b)</text>
</svg>
</body></html>
